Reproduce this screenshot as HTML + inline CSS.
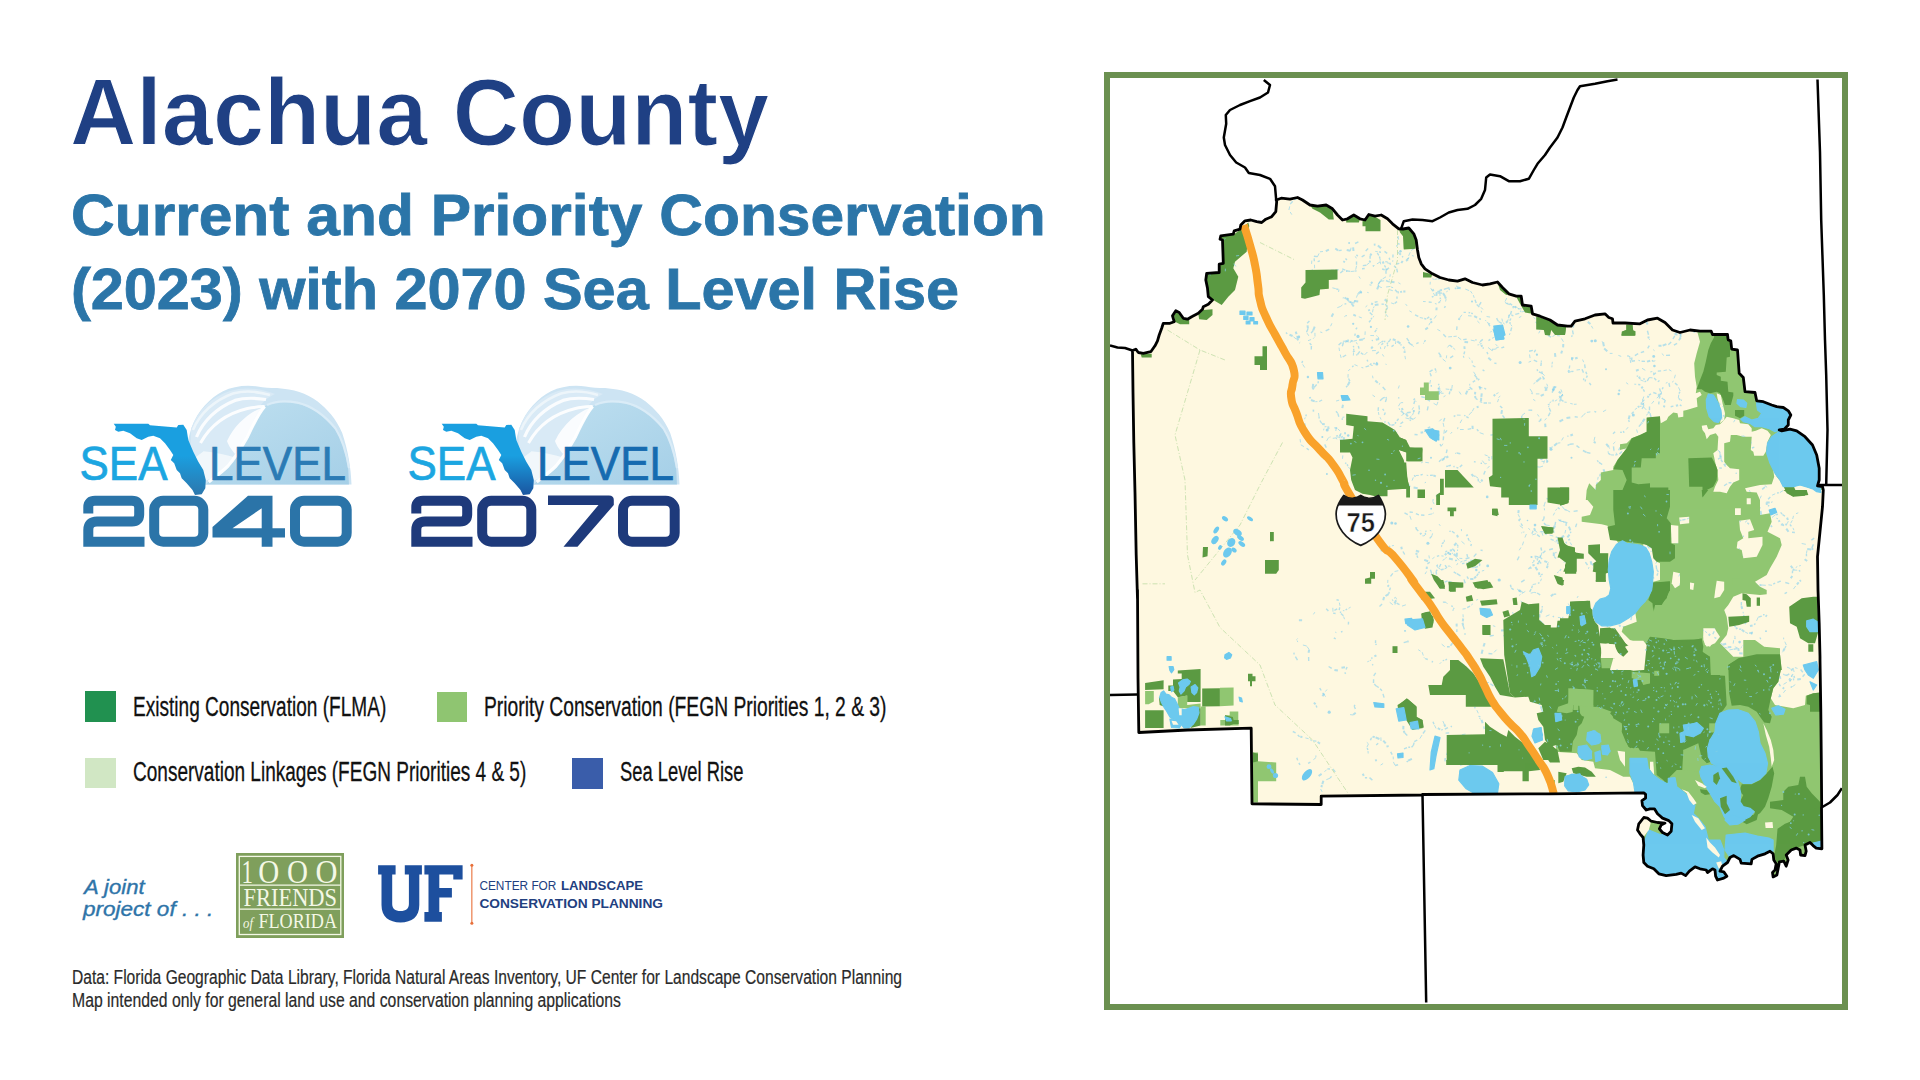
<!DOCTYPE html>
<html><head><meta charset="utf-8"><title>Alachua County</title>
<style>
html,body{margin:0;padding:0;background:#fff;}
body{width:1920px;height:1080px;position:relative;overflow:hidden;font-family:"Liberation Sans",sans-serif;}
.abs{position:absolute;white-space:nowrap;transform-origin:0 0;line-height:1;}
</style></head><body>
<div class="abs" id="t1" style="left:70.06px;top:65.00px;font-size:95px;color:#1f4084;transform:scaleX(0.9667);font-weight:bold;-webkit-text-stroke:1.2px #fff;">Alachua County</div>
<div class="abs" id="t2" style="left:70.90px;top:187.00px;font-size:57.5px;color:#2b75a8;transform:scaleX(1.0521);font-weight:bold;-webkit-text-stroke:0.8px #2b75a8;">Current and Priority Conservation</div>
<div class="abs" id="t3" style="left:70.90px;top:260.70px;font-size:57.5px;color:#2b75a8;transform:scaleX(1.0328);font-weight:bold;-webkit-text-stroke:0.8px #2b75a8;">(2023) with 2070 Sea Level Rise</div>
<div class="abs" id="l1" style="left:132.67px;top:693.60px;font-size:27px;color:#111;transform:scaleX(0.7063);-webkit-text-stroke:0.3px #111;">Existing Conservation (FLMA)</div>
<div class="abs" id="l2" style="left:483.86px;top:693.60px;font-size:27px;color:#111;transform:scaleX(0.7134);-webkit-text-stroke:0.3px #111;">Priority Conservation (FEGN Priorities 1, 2 &amp; 3)</div>
<div class="abs" id="l3" style="left:132.66px;top:759.40px;font-size:27px;color:#111;transform:scaleX(0.7045);-webkit-text-stroke:0.3px #111;">Conservation Linkages (FEGN Priorities 4 &amp; 5)</div>
<div class="abs" id="l4" style="left:620.43px;top:759.40px;font-size:27px;color:#111;transform:scaleX(0.6799);-webkit-text-stroke:0.3px #111;">Sea Level Rise</div>
<div class="abs" id="j1" style="left:84.02px;top:877.40px;font-size:20px;color:#2e74a8;transform:scaleX(1.1040);font-style:italic;-webkit-text-stroke:0.35px #2e74a8;">A joint</div>
<div class="abs" id="j2" style="left:83.23px;top:898.50px;font-size:20px;color:#2e74a8;transform:scaleX(1.1262);font-style:italic;-webkit-text-stroke:0.35px #2e74a8;">project of . . .</div>
<div class="abs" id="d1" style="left:72.22px;top:966.50px;font-size:20px;color:#2a2a2a;transform:scaleX(0.7799);-webkit-text-stroke:0.2px #2a2a2a;">Data: Florida Geographic Data Library, Florida Natural Areas Inventory, UF Center for Landscape Conservation Planning</div>
<div class="abs" id="d2" style="left:72.21px;top:989.50px;font-size:20px;color:#2a2a2a;transform:scaleX(0.7885);-webkit-text-stroke:0.2px #2a2a2a;">Map intended only for general land use and conservation planning applications</div>
<!-- legend swatches -->
<div class="abs" style="left:85px;top:691.3px;width:31px;height:31px;background:#219150"></div>
<div class="abs" style="left:436.8px;top:691.8px;width:30.4px;height:30.2px;background:#8fc571"></div>
<div class="abs" style="left:85px;top:758.3px;width:30.5px;height:30px;background:#d1e7c4"></div>
<div class="abs" style="left:572px;top:758.2px;width:31px;height:30.5px;background:#3a5daa"></div>
<!-- 1000 Friends of Florida -->
<svg class="abs" style="left:236px;top:853px" width="108" height="85" viewBox="0 0 108 85">
<rect x="0" y="0" width="108" height="85" fill="#7f9f5c"/>
<rect x="3.3" y="3.4" width="101.5" height="78.1" fill="none" stroke="#f4f8e6" stroke-width="1.3"/>
<line x1="3.3" y1="32.1" x2="104.8" y2="32.1" stroke="#f4f8e6" stroke-width="1.2"/>
<line x1="3.3" y1="56.2" x2="104.8" y2="56.2" stroke="#f4f8e6" stroke-width="1.2"/>
<g font-family="Liberation Serif, serif" fill="#f4f8e6">
<text y="29.6" font-size="33.5"><tspan x="5.5" textLength="11.5" lengthAdjust="spacingAndGlyphs">1</tspan><tspan x="22.3" textLength="21" lengthAdjust="spacingAndGlyphs">O</tspan><tspan x="51" textLength="21" lengthAdjust="spacingAndGlyphs">O</tspan><tspan x="79.5" textLength="22" lengthAdjust="spacingAndGlyphs">O</tspan></text>
<text x="7.6" y="52.7" font-size="26" textLength="93.4" lengthAdjust="spacingAndGlyphs">FRIENDS</text>
<text x="7" y="75.4" font-size="15" font-style="italic" textLength="10" lengthAdjust="spacingAndGlyphs">of</text>
<text x="22.4" y="75.4" font-size="20.5" textLength="78.6" lengthAdjust="spacingAndGlyphs">FLORIDA</text>
</g>
</svg>
<!-- UF logo -->
<svg class="abs" style="left:370px;top:855px" width="310" height="80" viewBox="0 0 310 80">
<g fill="#1d4f9e">
<path d="M8.1,10.2 H25.6 V19.4 H22.2 V49 C22.2,53.5 25,56 30.5,56 C36,56 38.9,53.5 38.9,49 V19.4 H34.8 V10.2 H51.9 V19.4 H49.3 V50 C49.3,62 42,67.4 30.5,67.4 C19,67.4 11.5,62 11.5,50 V19.4 H8.1 Z"/>
<path d="M54.4,10.2 H92.6 V24.4 H83.3 V19.4 H69.3 V33 H81.9 V42.6 H69.3 V57 H71.9 V66.7 H54.4 V57 H58.5 V19.4 H54.4 Z"/>
</g>
<line x1="101.85" y1="9.5" x2="101.85" y2="69" stroke="#e8703a" stroke-width="1.1"/>
<circle cx="101.85" cy="10.3" r="1.5" fill="#e8703a"/><circle cx="101.85" cy="68.2" r="1.5" fill="#e8703a"/>
<g font-family="Liberation Sans, sans-serif" fill="#22407f">
<text x="109.4" y="35.4" font-size="13.2"><tspan textLength="77" lengthAdjust="spacingAndGlyphs">CENTER FOR</tspan></text>
<text x="191" y="35.4" font-size="13.2" font-weight="bold" textLength="82" lengthAdjust="spacingAndGlyphs">LANDSCAPE</text>
<text x="109.4" y="52.6" font-size="13.2" font-weight="bold" textLength="183.6" lengthAdjust="spacingAndGlyphs">CONSERVATION PLANNING</text>
</g>
</svg>

<svg class="abs" style="left:70px;top:380px" width="300" height="180" viewBox="0 0 300 180">
<defs>
<linearGradient id="dome1" x1="0" y1="0" x2="1" y2="0"><stop offset="0" stop-color="#cfe3f2"/><stop offset="0.45" stop-color="#c3def0"/><stop offset="0.55" stop-color="#b3d8ea"/><stop offset="1" stop-color="#a6cde6"/></linearGradient>
<linearGradient id="fl1" x1="0" y1="0" x2="0" y2="1"><stop offset="0" stop-color="#1a9fe0"/><stop offset="0.45" stop-color="#1a9fe0"/><stop offset="1" stop-color="#2c77ad"/></linearGradient>
<clipPath id="dc1"><path d="M100,104.4 L281.5,104.4 C281,88 278,70 272.2,53 C266,38 257,29 247.7,21.4 C236,13 224,9.5 207,8.1 C200,8 194,8 187.6,6.6 C176,4.6 163,6.5 153,11.2 C140,18 128,30 121.4,47.9 L118,60 L125,104.4 Z"/></clipPath>
<linearGradient id="face1" x1="0" y1="0" x2="1" y2="1"><stop offset="0" stop-color="#bfe0f0"/><stop offset="1" stop-color="#a5cfe7"/></linearGradient>
</defs>
<g clip-path="url(#dc1)">
<rect x="95" y="0" width="190" height="106" fill="#cde4f3"/>
<path d="M194.7,26.5 C201,22.5 212,21 227.3,23.4 C243,27 256,38 265,48.9 C272,60 276,74 278.3,90 L279,106 L134,106 C150,92 166,78 177.4,57 C183,44 188,33 194.7,26.5 Z" fill="url(#face1)"/>
<path d="M121,48 C128,30 142,17 160,11 C176,6 192,9 205,14 C198,17 192,22 188,30 C180,48 172,68 160,82 C150,92 140,99 130,104 L120,104 Z" fill="#d9eaf6"/>
<path d="M126.5,57 C133,41 147,27.5 165,20.4 C176,17 186,18 196,19.5" fill="none" stroke="#fff" stroke-width="3.2" opacity="0.85"/>
<path d="M123,50 C130,33 145,20 163,13.5 C176,10 190,12 200,15" fill="none" stroke="#eef6fb" stroke-width="2.6" opacity="0.9"/>
<path d="M130.5,63 C140,46 156,33.6 177.4,28.5 C184,27 190,26.8 194.7,26.5" fill="none" stroke="#fff" stroke-width="3" opacity="0.9"/>
<path d="M157,61 C165,44 180,31.6 194.7,26.5 C188,36 183,47 177.4,57 C173,64 170,68 165,74 C160,68 158,64 157,61 Z" fill="#fff" opacity="0.85"/>
<path d="M133.6,71.3 C145,72 156,75 165.2,77.4 C160,85 152,92 143,98 L126,104 L122,80 Z" fill="#f3f8fc" opacity="0.9"/>
<path d="M194.7,26.5 C188,34 183,45 177.4,57 C171,68 166,77 158,86 C152,92 145,97 138.7,101.9" fill="none" stroke="#fff" stroke-width="3.2" opacity="0.95"/>
<path d="M197,25 C205,21 216,20.5 227.3,22.6 C243,26 256,37 265.5,48.5 C272,59 276.5,73 279,88" fill="none" stroke="#dcecf7" stroke-width="2.2" opacity="0.9"/>
</g>
<polygon points="43.7,43.7 78.3,43.7 80.0,45.3 106.7,47.5 108.3,45.0 113.3,44.7 116.7,50.0 118.3,60.0 123.3,71.7 128.3,81.7 133.3,90.0 135.8,100.0 135.3,108.3 131.7,114.2 125.0,115.0 122.5,110.0 116.7,103.3 111.7,98.3 110.0,93.3 106.7,90.0 104.2,83.3 100.8,80.0 103.3,75.0 100.0,70.0 95.0,63.3 90.0,58.3 83.3,55.8 78.3,56.7 71.7,60.0 66.7,58.3 60.0,53.3 53.3,50.8 48.3,51.7 45.0,50.0 45.8,46.7" fill="url(#fl1)"/>
<text x="9.5" y="100" font-family="Liberation Sans, sans-serif" font-size="48" fill="#1ca6e1" stroke="#1ca6e1" stroke-width="0.7" textLength="88" lengthAdjust="spacingAndGlyphs">SEA</text>
<text x="139" y="100" font-family="Liberation Sans, sans-serif" font-size="48" fill="#2b7bb5" stroke="#2b7bb5" stroke-width="0.7" textLength="137" lengthAdjust="spacingAndGlyphs">LEVEL</text>
<g fill="none" stroke="#2b74a8" stroke-width="10">
<path d="M18.3,133.5 V127 Q18.3,120.8 25,120.8 H62 Q69.2,120.8 69.2,128 V134.5 Q69.2,141.5 62,141.5 H27 Q18.3,141.5 18.3,150 V161.7 H74.5"/>
<rect x="84.2" y="120.8" width="49.1" height="40.9" rx="9" ry="9"/>
<rect x="225" y="120.8" width="51.7" height="40.9" rx="9" ry="9"/>
</g>
<path fill-rule="evenodd" d="M178,115.8 H202.5 V148.3 H215 V157.5 H202.5 V166.7 H191.7 V157.5 H142.5 V147 Z M191.7,128.3 V148.3 H162.5 Z" fill="#2b74a8"/>
</svg>
<svg class="abs" style="left:398px;top:380px" width="300" height="180" viewBox="0 0 300 180">
<defs>
<linearGradient id="dome2" x1="0" y1="0" x2="1" y2="0"><stop offset="0" stop-color="#cfe3f2"/><stop offset="0.45" stop-color="#c3def0"/><stop offset="0.55" stop-color="#b3d8ea"/><stop offset="1" stop-color="#a6cde6"/></linearGradient>
<linearGradient id="fl2" x1="0" y1="0" x2="0" y2="1"><stop offset="0" stop-color="#1a9fe0"/><stop offset="0.45" stop-color="#1a9fe0"/><stop offset="1" stop-color="#1a55a0"/></linearGradient>
<clipPath id="dc2"><path d="M100,104.4 L281.5,104.4 C281,88 278,70 272.2,53 C266,38 257,29 247.7,21.4 C236,13 224,9.5 207,8.1 C200,8 194,8 187.6,6.6 C176,4.6 163,6.5 153,11.2 C140,18 128,30 121.4,47.9 L118,60 L125,104.4 Z"/></clipPath>
<linearGradient id="face2" x1="0" y1="0" x2="1" y2="1"><stop offset="0" stop-color="#bfe0f0"/><stop offset="1" stop-color="#a5cfe7"/></linearGradient>
</defs>
<g clip-path="url(#dc2)">
<rect x="95" y="0" width="190" height="106" fill="#cde4f3"/>
<path d="M194.7,26.5 C201,22.5 212,21 227.3,23.4 C243,27 256,38 265,48.9 C272,60 276,74 278.3,90 L279,106 L134,106 C150,92 166,78 177.4,57 C183,44 188,33 194.7,26.5 Z" fill="url(#face2)"/>
<path d="M121,48 C128,30 142,17 160,11 C176,6 192,9 205,14 C198,17 192,22 188,30 C180,48 172,68 160,82 C150,92 140,99 130,104 L120,104 Z" fill="#d9eaf6"/>
<path d="M126.5,57 C133,41 147,27.5 165,20.4 C176,17 186,18 196,19.5" fill="none" stroke="#fff" stroke-width="3.2" opacity="0.85"/>
<path d="M123,50 C130,33 145,20 163,13.5 C176,10 190,12 200,15" fill="none" stroke="#eef6fb" stroke-width="2.6" opacity="0.9"/>
<path d="M130.5,63 C140,46 156,33.6 177.4,28.5 C184,27 190,26.8 194.7,26.5" fill="none" stroke="#fff" stroke-width="3" opacity="0.9"/>
<path d="M157,61 C165,44 180,31.6 194.7,26.5 C188,36 183,47 177.4,57 C173,64 170,68 165,74 C160,68 158,64 157,61 Z" fill="#fff" opacity="0.85"/>
<path d="M133.6,71.3 C145,72 156,75 165.2,77.4 C160,85 152,92 143,98 L126,104 L122,80 Z" fill="#f3f8fc" opacity="0.9"/>
<path d="M194.7,26.5 C188,34 183,45 177.4,57 C171,68 166,77 158,86 C152,92 145,97 138.7,101.9" fill="none" stroke="#fff" stroke-width="3.2" opacity="0.95"/>
<path d="M197,25 C205,21 216,20.5 227.3,22.6 C243,26 256,37 265.5,48.5 C272,59 276.5,73 279,88" fill="none" stroke="#dcecf7" stroke-width="2.2" opacity="0.9"/>
</g>
<polygon points="43.7,43.7 78.3,43.7 80.0,45.3 106.7,47.5 108.3,45.0 113.3,44.7 116.7,50.0 118.3,60.0 123.3,71.7 128.3,81.7 133.3,90.0 135.8,100.0 135.3,108.3 131.7,114.2 125.0,115.0 122.5,110.0 116.7,103.3 111.7,98.3 110.0,93.3 106.7,90.0 104.2,83.3 100.8,80.0 103.3,75.0 100.0,70.0 95.0,63.3 90.0,58.3 83.3,55.8 78.3,56.7 71.7,60.0 66.7,58.3 60.0,53.3 53.3,50.8 48.3,51.7 45.0,50.0 45.8,46.7" fill="url(#fl2)"/>
<text x="9.5" y="100" font-family="Liberation Sans, sans-serif" font-size="48" fill="#1ca6e1" stroke="#1ca6e1" stroke-width="0.7" textLength="88" lengthAdjust="spacingAndGlyphs">SEA</text>
<text x="139" y="100" font-family="Liberation Sans, sans-serif" font-size="48" fill="#166bb0" stroke="#166bb0" stroke-width="0.7" textLength="137" lengthAdjust="spacingAndGlyphs">LEVEL</text>
<g fill="none" stroke="#1e3a7b" stroke-width="10">
<path d="M18.3,133.5 V127 Q18.3,120.8 25,120.8 H62 Q69.2,120.8 69.2,128 V134.5 Q69.2,141.5 62,141.5 H27 Q18.3,141.5 18.3,150 V161.7 H74.5"/>
<rect x="84.2" y="120.8" width="49.1" height="40.9" rx="9" ry="9"/>
<rect x="225" y="120.8" width="51.7" height="40.9" rx="9" ry="9"/>
</g>
<path d="M150,115.5 H211 Q215.8,115.5 215.8,120 V125 L179.5,166.7 H165.5 L200.5,125 H150 Z" fill="#1e3a7b"/>
</svg>
<svg id="map" width="1920" height="1080" viewBox="0 0 1920 1080" style="position:absolute;left:0;top:0">
<defs><clipPath id="cc"><polygon points="1276.2,200 1281.2,198.2 1290,199.2 1297.5,197.5 1302.5,200 1310,205 1317.5,206.2 1326.2,205 1332.5,208.8 1337.5,215 1342.5,220 1347.5,218.8 1353.8,215 1360,218.8 1365,220 1368.8,214.5 1375,216.2 1381.2,215 1387.5,218.8 1392.5,223.8 1398.8,228.8 1403,229 1408.8,228 1413.8,233.8 1416.2,240 1417.5,250 1418.8,257.5 1421.2,263.8 1425,268.8 1432.5,273.8 1440,277.5 1448.8,280 1457.5,281.2 1465,278.8 1472.5,282.5 1482.5,285 1490,283.8 1497.5,282 1502.5,287.5 1508.8,293.8 1516.2,296.2 1521.2,296.2 1522.5,305 1531.2,306.2 1532.5,313.8 1540,316.2 1550,320 1557.5,325 1567.5,326.2 1571.2,326.2 1575,321.2 1585,318.8 1595,315 1605,313.8 1608.8,317.5 1612.5,318.8 1613,323 1625,323 1640,323.8 1647.5,320 1657.5,318.2 1665,322.5 1672.5,330 1680,332.5 1690,330 1700,331.2 1711.2,331.2 1712.5,334.5 1727.5,334.5 1728,338.8 1728.3,340 1730.8,340.8 1731.7,349.2 1737.5,350 1739.2,373.3 1743.3,377.5 1745,391.7 1755,392.5 1756.7,400.8 1763.3,401.7 1771.7,405 1776.7,406.7 1783.3,407.5 1788.3,410.8 1790.8,415 1788.3,420 1788.3,425 1784.2,429.2 1779.2,430 1781.7,430.8 1790,429.2 1796.7,430.8 1805,436.7 1812.5,445 1816.7,455 1819.2,468.3 1819.2,480 1817.5,485.8 1822.5,486.7 1823.3,490 1822.5,506.7 1820,531.7 1817.5,556.7 1818,590 1819.2,623.3 1820,656.7 1820,660 1820.8,710 1821.3,760 1821.7,806.7 1821.5,807.5 1821.9,848.8 1816.2,848.1 1813.1,845.6 1810,842.5 1805,845 1806.2,851.2 1805,855.6 1800.6,855 1800,850 1796.2,848.1 1791.2,850 1786.2,855 1788.1,860 1786.2,866.2 1783.8,861.2 1779.4,861.9 1778.1,868.8 1776.9,875 1773.1,876.9 1772.5,872.5 1775,870 1776.2,863.8 1773.8,860 1773.1,853.8 1770,851.2 1765,853.8 1757.5,856.2 1751.9,859.4 1751.2,863.8 1741.2,863.1 1740,859.4 1733.8,855.6 1730,857.5 1727.5,862.5 1722.5,866.2 1720,871.2 1723.8,871.9 1726.9,876.2 1723.8,878.1 1717.5,880 1715.6,876.2 1715,870 1712.5,868.8 1707.5,872.5 1706.2,870 1700,868.8 1695,866.9 1689.4,871.2 1685.6,875.6 1681.2,873.1 1676.2,874.4 1666.2,875.6 1658.8,873.8 1653.8,868.8 1647.5,866.2 1643.8,862.5 1643.1,855 1643.8,845 1643.1,837.5 1640,833.8 1637.5,830 1638.8,823.8 1643.8,817.5 1647.5,818.1 1651.2,821.2 1657.5,822.5 1665,823.1 1661.2,825 1659.4,828.8 1662.5,832.5 1667.5,835 1671.2,831.2 1671.9,823.8 1668.8,820.6 1662.5,818.1 1657.5,813.8 1654.4,808.8 1650,808.8 1646.2,810 1642.5,805.6 1641.9,800.6 1645.6,798.1 1645.6,794.4 1643.8,792.8 1620,793.1 1550,793.8 1422.5,794.5 1422.5,795 1321.2,796.2 1321.2,804.5 1252,803.8 1251.2,728.2 1187.5,730 1138.8,732.5 1138,677.5 1137.5,590 1137.5,598.8 1136.2,555 1135,492.5 1133.8,442.5 1133,392.5 1132.5,350.5 1135.8,349.2 1138.3,352.5 1143.3,353.3 1150.8,351.7 1155,345.8 1157.5,340.8 1159.2,335 1161.7,328.3 1163.3,323.3 1170,323.3 1174.2,321.7 1172.5,315.8 1175.8,310.8 1179.2,312.5 1183.3,318.3 1187.5,319.2 1191.7,316.7 1198.3,313.3 1202.5,309.2 1203.3,306.7 1208.3,304.2 1212.5,300 1208.3,296.7 1207.5,288.3 1205.8,280 1206.7,273.3 1219.2,272.5 1219.2,264.2 1223.3,263.3 1222.5,240 1220,239.2 1220.8,235.8 1233.3,234.2 1234.2,230.8 1240,229.2 1240.8,225 1245,220.8 1250.8,220 1256.7,221.7 1261.7,222.5 1265.8,219.2 1271.7,216.7 1275.8,211.7 1276.7,201.7"/></clipPath><clipPath id="fr"><rect x="1110" y="78" width="732" height="926"/></clipPath></defs>
<rect x="1107" y="75" width="738" height="932" fill="#fff" stroke="#6b9050" stroke-width="6"/>
<g clip-path="url(#fr)">
<polygon points="1276.2,200 1281.2,198.2 1290,199.2 1297.5,197.5 1302.5,200 1310,205 1317.5,206.2 1326.2,205 1332.5,208.8 1337.5,215 1342.5,220 1347.5,218.8 1353.8,215 1360,218.8 1365,220 1368.8,214.5 1375,216.2 1381.2,215 1387.5,218.8 1392.5,223.8 1398.8,228.8 1403,229 1408.8,228 1413.8,233.8 1416.2,240 1417.5,250 1418.8,257.5 1421.2,263.8 1425,268.8 1432.5,273.8 1440,277.5 1448.8,280 1457.5,281.2 1465,278.8 1472.5,282.5 1482.5,285 1490,283.8 1497.5,282 1502.5,287.5 1508.8,293.8 1516.2,296.2 1521.2,296.2 1522.5,305 1531.2,306.2 1532.5,313.8 1540,316.2 1550,320 1557.5,325 1567.5,326.2 1571.2,326.2 1575,321.2 1585,318.8 1595,315 1605,313.8 1608.8,317.5 1612.5,318.8 1613,323 1625,323 1640,323.8 1647.5,320 1657.5,318.2 1665,322.5 1672.5,330 1680,332.5 1690,330 1700,331.2 1711.2,331.2 1712.5,334.5 1727.5,334.5 1728,338.8 1728.3,340 1730.8,340.8 1731.7,349.2 1737.5,350 1739.2,373.3 1743.3,377.5 1745,391.7 1755,392.5 1756.7,400.8 1763.3,401.7 1771.7,405 1776.7,406.7 1783.3,407.5 1788.3,410.8 1790.8,415 1788.3,420 1788.3,425 1784.2,429.2 1779.2,430 1781.7,430.8 1790,429.2 1796.7,430.8 1805,436.7 1812.5,445 1816.7,455 1819.2,468.3 1819.2,480 1817.5,485.8 1822.5,486.7 1823.3,490 1822.5,506.7 1820,531.7 1817.5,556.7 1818,590 1819.2,623.3 1820,656.7 1820,660 1820.8,710 1821.3,760 1821.7,806.7 1821.5,807.5 1821.9,848.8 1816.2,848.1 1813.1,845.6 1810,842.5 1805,845 1806.2,851.2 1805,855.6 1800.6,855 1800,850 1796.2,848.1 1791.2,850 1786.2,855 1788.1,860 1786.2,866.2 1783.8,861.2 1779.4,861.9 1778.1,868.8 1776.9,875 1773.1,876.9 1772.5,872.5 1775,870 1776.2,863.8 1773.8,860 1773.1,853.8 1770,851.2 1765,853.8 1757.5,856.2 1751.9,859.4 1751.2,863.8 1741.2,863.1 1740,859.4 1733.8,855.6 1730,857.5 1727.5,862.5 1722.5,866.2 1720,871.2 1723.8,871.9 1726.9,876.2 1723.8,878.1 1717.5,880 1715.6,876.2 1715,870 1712.5,868.8 1707.5,872.5 1706.2,870 1700,868.8 1695,866.9 1689.4,871.2 1685.6,875.6 1681.2,873.1 1676.2,874.4 1666.2,875.6 1658.8,873.8 1653.8,868.8 1647.5,866.2 1643.8,862.5 1643.1,855 1643.8,845 1643.1,837.5 1640,833.8 1637.5,830 1638.8,823.8 1643.8,817.5 1647.5,818.1 1651.2,821.2 1657.5,822.5 1665,823.1 1661.2,825 1659.4,828.8 1662.5,832.5 1667.5,835 1671.2,831.2 1671.9,823.8 1668.8,820.6 1662.5,818.1 1657.5,813.8 1654.4,808.8 1650,808.8 1646.2,810 1642.5,805.6 1641.9,800.6 1645.6,798.1 1645.6,794.4 1643.8,792.8 1620,793.1 1550,793.8 1422.5,794.5 1422.5,795 1321.2,796.2 1321.2,804.5 1252,803.8 1251.2,728.2 1187.5,730 1138.8,732.5 1138,677.5 1137.5,590 1137.5,598.8 1136.2,555 1135,492.5 1133.8,442.5 1133,392.5 1132.5,350.5 1135.8,349.2 1138.3,352.5 1143.3,353.3 1150.8,351.7 1155,345.8 1157.5,340.8 1159.2,335 1161.7,328.3 1163.3,323.3 1170,323.3 1174.2,321.7 1172.5,315.8 1175.8,310.8 1179.2,312.5 1183.3,318.3 1187.5,319.2 1191.7,316.7 1198.3,313.3 1202.5,309.2 1203.3,306.7 1208.3,304.2 1212.5,300 1208.3,296.7 1207.5,288.3 1205.8,280 1206.7,273.3 1219.2,272.5 1219.2,264.2 1223.3,263.3 1222.5,240 1220,239.2 1220.8,235.8 1233.3,234.2 1234.2,230.8 1240,229.2 1240.8,225 1245,220.8 1250.8,220 1256.7,221.7 1261.7,222.5 1265.8,219.2 1271.7,216.7 1275.8,211.7 1276.7,201.7" fill="#fef8e0"/>
<g clip-path="url(#cc)">
<g id="sp"><circle cx="1649.2" cy="663.4" r="1.4" fill="#7fcdee" opacity="0.7"/>
<circle cx="1633.3" cy="414.9" r="1.5" fill="#7fcdee" opacity="0.7"/>
<circle cx="1666.7" cy="521.0" r="1.1" fill="#7fcdee" opacity="0.7"/>
<circle cx="1802.9" cy="476.8" r="1.3" fill="#7fcdee" opacity="0.7"/>
<circle cx="1618.7" cy="394.0" r="1.2" fill="#7fcdee" opacity="0.7"/>
<circle cx="1781.5" cy="781.4" r="1.1" fill="#7fcdee" opacity="0.7"/>
<circle cx="1611.1" cy="603.8" r="0.8" fill="#7fcdee" opacity="0.7"/>
<circle cx="1427.9" cy="543.2" r="1.5" fill="#7fcdee" opacity="0.7"/>
<circle cx="1511.8" cy="680.4" r="1.2" fill="#7fcdee" opacity="0.7"/>
<circle cx="1720.8" cy="747.9" r="1.0" fill="#7fcdee" opacity="0.7"/>
<circle cx="1700.2" cy="510.4" r="1.5" fill="#7fcdee" opacity="0.7"/>
<circle cx="1391.8" cy="523.0" r="1.5" fill="#7fcdee" opacity="0.7"/>
<circle cx="1694.3" cy="331.7" r="1.1" fill="#7fcdee" opacity="0.7"/>
<circle cx="1481.3" cy="463.2" r="0.8" fill="#7fcdee" opacity="0.7"/>
<circle cx="1760.0" cy="532.8" r="1.5" fill="#7fcdee" opacity="0.7"/>
<circle cx="1472.0" cy="301.6" r="1.0" fill="#7fcdee" opacity="0.7"/>
<circle cx="1687.8" cy="660.6" r="0.7" fill="#7fcdee" opacity="0.7"/>
<circle cx="1606.1" cy="679.3" r="0.7" fill="#7fcdee" opacity="0.7"/>
<circle cx="1717.3" cy="413.6" r="1.5" fill="#7fcdee" opacity="0.7"/>
<circle cx="1698.0" cy="487.2" r="1.2" fill="#7fcdee" opacity="0.7"/>
<circle cx="1596.4" cy="567.7" r="0.8" fill="#7fcdee" opacity="0.7"/>
<circle cx="1536.9" cy="354.7" r="1.1" fill="#7fcdee" opacity="0.7"/>
<circle cx="1606.0" cy="369.2" r="1.0" fill="#7fcdee" opacity="0.7"/>
<circle cx="1806.2" cy="479.5" r="1.1" fill="#7fcdee" opacity="0.7"/>
<circle cx="1476.3" cy="570.0" r="1.2" fill="#7fcdee" opacity="0.7"/>
<circle cx="1326.9" cy="474.0" r="1.0" fill="#7fcdee" opacity="0.7"/>
<circle cx="1606.1" cy="777.2" r="0.8" fill="#7fcdee" opacity="0.7"/>
<circle cx="1553.3" cy="390.2" r="1.0" fill="#7fcdee" opacity="0.7"/>
<circle cx="1519.5" cy="590.7" r="1.2" fill="#7fcdee" opacity="0.7"/>
<circle cx="1327.2" cy="430.0" r="1.5" fill="#7fcdee" opacity="0.7"/>
<circle cx="1657.0" cy="741.0" r="1.0" fill="#7fcdee" opacity="0.7"/>
<circle cx="1349.1" cy="243.0" r="0.9" fill="#7fcdee" opacity="0.7"/>
<circle cx="1619.3" cy="390.5" r="1.1" fill="#7fcdee" opacity="0.7"/>
<circle cx="1431.0" cy="457.7" r="1.0" fill="#7fcdee" opacity="0.7"/>
<circle cx="1629.7" cy="704.7" r="1.4" fill="#7fcdee" opacity="0.7"/>
<circle cx="1617.3" cy="521.9" r="1.3" fill="#7fcdee" opacity="0.7"/>
<circle cx="1772.5" cy="654.7" r="1.4" fill="#7fcdee" opacity="0.7"/>
<circle cx="1531.5" cy="557.0" r="1.1" fill="#7fcdee" opacity="0.7"/>
<circle cx="1551.0" cy="449.3" r="1.5" fill="#7fcdee" opacity="0.7"/>
<circle cx="1329.2" cy="712.2" r="1.6" fill="#7fcdee" opacity="0.7"/>
<circle cx="1431.3" cy="385.9" r="0.8" fill="#7fcdee" opacity="0.7"/>
<circle cx="1701.8" cy="623.1" r="0.9" fill="#7fcdee" opacity="0.7"/>
<circle cx="1653.7" cy="356.4" r="1.4" fill="#7fcdee" opacity="0.7"/>
<circle cx="1751.0" cy="510.8" r="0.8" fill="#7fcdee" opacity="0.7"/>
<circle cx="1689.1" cy="627.8" r="0.7" fill="#7fcdee" opacity="0.7"/>
<circle cx="1361.1" cy="292.5" r="1.1" fill="#7fcdee" opacity="0.7"/>
<circle cx="1573.2" cy="552.0" r="1.5" fill="#7fcdee" opacity="0.7"/>
<circle cx="1535.0" cy="525.1" r="1.3" fill="#7fcdee" opacity="0.7"/>
<circle cx="1787.6" cy="744.3" r="1.2" fill="#7fcdee" opacity="0.7"/>
<circle cx="1370.9" cy="326.9" r="1.1" fill="#7fcdee" opacity="0.7"/>
<circle cx="1558.9" cy="718.4" r="1.5" fill="#7fcdee" opacity="0.7"/>
<circle cx="1737.0" cy="692.2" r="1.1" fill="#7fcdee" opacity="0.7"/>
<circle cx="1794.1" cy="457.0" r="0.7" fill="#7fcdee" opacity="0.7"/>
<circle cx="1739.6" cy="642.1" r="1.3" fill="#7fcdee" opacity="0.7"/>
<circle cx="1400.5" cy="251.3" r="1.2" fill="#7fcdee" opacity="0.7"/>
<circle cx="1395.5" cy="523.5" r="1.3" fill="#7fcdee" opacity="0.7"/>
<circle cx="1477.6" cy="688.0" r="1.6" fill="#7fcdee" opacity="0.7"/>
<circle cx="1465.0" cy="634.0" r="0.8" fill="#7fcdee" opacity="0.7"/>
<circle cx="1554.7" cy="725.7" r="1.6" fill="#7fcdee" opacity="0.7"/>
<circle cx="1652.5" cy="613.6" r="1.1" fill="#7fcdee" opacity="0.7"/>
<circle cx="1625.9" cy="520.6" r="1.1" fill="#7fcdee" opacity="0.7"/>
<circle cx="1461.6" cy="483.3" r="0.7" fill="#7fcdee" opacity="0.7"/>
<circle cx="1671.0" cy="563.8" r="1.0" fill="#7fcdee" opacity="0.7"/>
<circle cx="1668.5" cy="638.8" r="1.1" fill="#7fcdee" opacity="0.7"/>
<circle cx="1668.9" cy="445.3" r="1.4" fill="#7fcdee" opacity="0.7"/>
<circle cx="1364.1" cy="470.8" r="0.8" fill="#7fcdee" opacity="0.7"/>
<circle cx="1771.4" cy="692.3" r="0.7" fill="#7fcdee" opacity="0.7"/>
<circle cx="1608.6" cy="631.4" r="0.8" fill="#7fcdee" opacity="0.7"/>
<circle cx="1298.8" cy="337.0" r="1.4" fill="#7fcdee" opacity="0.7"/>
<circle cx="1347.5" cy="299.1" r="1.3" fill="#7fcdee" opacity="0.7"/>
<circle cx="1527.5" cy="520.5" r="0.8" fill="#7fcdee" opacity="0.7"/>
<circle cx="1348.2" cy="435.5" r="1.2" fill="#7fcdee" opacity="0.7"/>
<circle cx="1502.1" cy="691.0" r="1.4" fill="#7fcdee" opacity="0.7"/>
<circle cx="1664.7" cy="592.8" r="1.0" fill="#7fcdee" opacity="0.7"/>
<circle cx="1595.3" cy="340.7" r="1.5" fill="#7fcdee" opacity="0.7"/>
<circle cx="1487.7" cy="565.9" r="1.4" fill="#7fcdee" opacity="0.7"/>
<circle cx="1307.9" cy="377.0" r="1.2" fill="#7fcdee" opacity="0.7"/>
<circle cx="1450.2" cy="368.1" r="1.4" fill="#7fcdee" opacity="0.7"/>
<circle cx="1353.2" cy="323.8" r="1.1" fill="#7fcdee" opacity="0.7"/>
<circle cx="1556.5" cy="494.4" r="1.5" fill="#7fcdee" opacity="0.7"/>
<circle cx="1499.2" cy="580.0" r="1.6" fill="#7fcdee" opacity="0.7"/>
<circle cx="1654.4" cy="366.0" r="1.3" fill="#7fcdee" opacity="0.7"/>
<circle cx="1806.8" cy="732.8" r="0.8" fill="#7fcdee" opacity="0.7"/>
<circle cx="1431.2" cy="508.7" r="0.9" fill="#7fcdee" opacity="0.7"/>
<circle cx="1591.8" cy="341.1" r="1.4" fill="#7fcdee" opacity="0.7"/>
<circle cx="1755.9" cy="692.2" r="1.6" fill="#7fcdee" opacity="0.7"/>
<circle cx="1413.8" cy="411.1" r="1.1" fill="#7fcdee" opacity="0.7"/>
<circle cx="1408.1" cy="326.5" r="1.3" fill="#7fcdee" opacity="0.7"/>
<circle cx="1553.2" cy="389.5" r="1.2" fill="#7fcdee" opacity="0.7"/>
<circle cx="1586.8" cy="722.4" r="0.8" fill="#7fcdee" opacity="0.7"/>
<circle cx="1571.9" cy="358.9" r="0.9" fill="#7fcdee" opacity="0.7"/>
<circle cx="1778.7" cy="664.9" r="0.9" fill="#7fcdee" opacity="0.7"/>
<circle cx="1376.8" cy="364.1" r="1.5" fill="#7fcdee" opacity="0.7"/>
<circle cx="1751.6" cy="633.5" r="1.0" fill="#7fcdee" opacity="0.7"/>
<circle cx="1751.7" cy="586.1" r="0.8" fill="#7fcdee" opacity="0.7"/>
<circle cx="1767.6" cy="447.7" r="1.5" fill="#7fcdee" opacity="0.7"/>
<circle cx="1743.3" cy="536.2" r="0.7" fill="#7fcdee" opacity="0.7"/>
<circle cx="1493.4" cy="477.0" r="1.5" fill="#7fcdee" opacity="0.7"/>
<circle cx="1520.1" cy="362.6" r="1.5" fill="#7fcdee" opacity="0.7"/>
<circle cx="1359.1" cy="443.1" r="1.1" fill="#7fcdee" opacity="0.7"/>
<circle cx="1599.6" cy="699.2" r="1.4" fill="#7fcdee" opacity="0.7"/>
<circle cx="1592.0" cy="675.6" r="1.4" fill="#7fcdee" opacity="0.7"/>
<circle cx="1766.0" cy="631.2" r="0.9" fill="#7fcdee" opacity="0.7"/>
<circle cx="1571.5" cy="457.7" r="1.0" fill="#7fcdee" opacity="0.7"/>
<circle cx="1322.3" cy="437.1" r="1.0" fill="#7fcdee" opacity="0.7"/>
<circle cx="1487.2" cy="496.9" r="1.3" fill="#7fcdee" opacity="0.7"/>
<circle cx="1600.8" cy="679.3" r="1.3" fill="#7fcdee" opacity="0.7"/>
<circle cx="1558.1" cy="663.2" r="0.8" fill="#7fcdee" opacity="0.7"/>
<circle cx="1358.0" cy="336.4" r="1.6" fill="#7fcdee" opacity="0.7"/>
<path d="M1456.6,285.6l0.2,1.3M1465.3,289.1l3.8,1.5M1470.5,291.1l1.7,2.4M1473.3,295.1l0.9,2.7M1481.2,310.8l0.4,1.6M1486.6,316.5l3.5,0.6M1432.3,278.8l1.8,0.5M1434.6,279.5l2.9,-0.7M1746.6,676.5l-0.2,1.4M1754.8,675.1l3.0,1.6M1759.7,677.7l2.3,-0.2M1785.6,690.0l-2.2,2.8M1793.8,570.1l3.4,0.1M1795.7,586.0l-2.3,3.1M1643.3,673.6l-1.6,1.9M1640.4,679.1l1.2,3.8M1641.7,683.1l-0.4,4.1M1642.8,694.2l2.8,3.1M1649.7,706.5l-0.1,4.1M1380.3,346.8l0.5,2.3M1734.8,646.8l2.9,1.1M1646.2,409.8l-2.5,-2.7M1641.7,402.3l3.0,-2.3M1517.2,589.0l2.1,1.8M1521.2,591.6l1.9,0.7M1532.7,584.5l3.4,-0.6M1540.5,581.2l1.0,-2.5M1535.9,393.9l3.5,0.0M1551.9,367.3l0.1,-1.9M1552.0,364.3l0.4,-2.5M1732.7,357.3l3.8,1.6M1423.9,432.1l2.0,-2.0M1439.3,421.3l2.4,-2.4M1356.6,265.7l-0.9,4.0M1358.9,276.4l1.4,2.2M1564.4,402.1l2.3,0.2M1570.3,403.4l2.5,0.6M1573.9,404.3l2.7,-0.1M1697.1,461.6l2.5,-2.1M1702.6,457.0l3.0,-2.6M1565.7,530.0l-0.8,3.4M1553.3,536.0l-3.8,-0.9M1543.1,531.3l-3.3,0.6M1537.3,532.3l-2.0,-1.3M1673.8,333.3l0.9,0.8M1426.0,482.2l-1.3,0.6M1406.2,481.7l-2.2,-1.8M1403.9,479.8l-2.2,0.2M1401.6,480.0l-0.9,1.0M1617.0,453.5l-1.2,-0.5M1614.0,451.2l-0.1,-1.2M1613.2,443.9l2.1,-2.0M1393.1,287.7l-2.1,-0.7M1389.7,286.5l-3.6,0.5M1381.8,287.6l-2.1,-0.7M1379.0,286.7l-0.6,-1.6M1378.2,284.4l2.0,-2.8M1380.4,281.3l3.8,-0.5M1398.3,282.7l2.2,1.2M1413.5,407.3l-1.3,2.4M1404.3,413.0l-2.8,2.9M1381.1,419.5l-1.1,-2.3M1378.9,414.9l-0.5,-2.8M1291.8,214.6l-1.6,-2.6M1288.9,210.0l0.8,-3.6M1294.0,199.7l2.8,-0.6M1455.0,551.6l-1.5,-0.9M1443.6,556.1l-2.2,-0.2M1434.5,557.2l-2.2,1.6M1426.6,571.5l-1.6,2.6M1457.5,551.0l0.1,-1.5M1457.7,547.9l0.4,-1.2M1656.9,499.5l-1.4,-1.1M1433.2,499.0l-0.3,2.2M1432.8,501.5l1.3,2.6M1433.7,512.9l-1.1,0.7M1432.1,513.9l-3.7,0.7M1557.1,572.9l1.7,-1.3M1563.5,562.1l2.1,-0.3M1568.8,559.9l0.0,-2.0M1568.8,557.8l0.5,-3.6M1663.9,355.5l-2.1,-2.0M1654.5,350.7l-1.3,-1.1M1649.7,339.8l-1.0,-1.3M1405.5,303.9l1.6,2.0M1409.4,310.8l2.4,1.4M1315.3,401.7l2.1,-0.1M1653.3,421.6l-1.2,-3.0M1444.7,646.6l-3.0,-2.4M1758.4,413.2l-1.3,-0.1M1756.6,413.1l0.4,-2.4M1441.6,547.1l0.2,-2.2M1444.3,542.0l-0.0,-2.2M1344.4,417.1l-2.1,0.2M1748.0,633.5l-2.8,-1.4M1304.7,367.5l-2.0,-3.1M1308.0,340.7l3.1,-1.2M1313.2,338.7l1.0,-1.2M1315.0,336.5l-0.1,-3.7M1438.1,398.1l-0.1,2.2M1437.9,401.9l-1.0,3.0M1436.8,405.2l-3.2,-1.9M1758.1,617.3l-1.5,3.6M1601.5,605.6l-1.5,1.3M1648.9,597.7l0.6,-1.1M1473.5,371.8l2.1,3.1M1469.8,383.8l-0.1,1.7M1479.7,401.7l2.5,0.8M1488.1,403.0l2.9,-0.0M1498.5,397.5l1.8,-1.4M1549.7,525.6l-4.1,-0.7M1544.6,510.3l-0.3,-2.0M1544.3,504.9l1.0,-3.0M1739.7,520.8l-1.1,-1.9M1730.7,571.9l-1.8,0.0M1728.8,571.9l-2.5,-0.0M1791.1,463.2l-0.9,0.9M1456.9,415.1l3.7,0.1M1772.0,585.3l-3.6,-0.5M1758.7,574.8l1.4,-1.5M1760.8,572.4l2.2,-2.7M1459.7,317.9l2.2,-3.1M1482.9,309.4l-2.0,-2.1M1401.4,426.3l-1.8,0.2M1410.3,416.8l1.2,-0.9M1412.4,415.2l1.4,-3.0M1708.7,690.3l2.8,1.7M1731.4,700.2l1.2,-0.8M1739.3,703.2l2.7,-1.2M1670.6,570.3l2.0,0.7M1680.1,573.3l-1.3,3.1M1681.3,591.0l0.5,1.4M1364.5,354.9l2.9,-2.9M1372.0,350.7l3.8,-0.2M1638.9,607.8l2.0,-3.5M1520.4,679.4l0.1,2.7M1517.0,687.1l-1.2,0.6M1510.4,675.5l0.5,-1.6M1638.4,360.3l1.6,0.5M1653.5,361.4l1.8,-0.7M1707.1,621.8l2.6,1.6M1715.0,627.9l3.4,1.8M1721.2,631.2l2.0,-0.8M1724.3,630.1l2.8,-1.0M1582.7,614.9l1.7,2.2M1578.1,613.2l-1.4,-0.7M1569.7,612.6l-3.0,2.2M1563.4,617.2l-1.4,0.3M1560.7,617.7l-2.8,-0.3M1452.3,385.0l-0.5,3.5M1461.0,394.5l-1.8,-2.9M1726.1,583.7l1.0,-3.6M1724.7,566.4l-0.6,-3.4M1724.1,562.6l0.9,-0.9M1731.9,561.7l-1.4,3.7M1720.5,452.3l-2.9,-2.2M1715.2,448.2l-1.7,-3.8M1703.3,449.3l-1.1,3.8M1695.9,462.6l0.7,3.7M1693.2,475.4l-1.4,3.1M1690.4,481.1l-1.9,1.1M1726.7,359.9l2.0,-2.3M1729.4,356.7l0.8,2.4M1734.7,365.0l2.1,0.3M1729.4,350.9l-1.0,-1.5M1728.3,349.2l-2.0,-0.9M1749.5,657.9l1.6,3.3M1747.9,665.1l-2.9,-0.0M1406.5,259.3l2.7,-1.7M1411.9,255.5l2.0,0.6M1552.2,716.6l0.4,3.9M1553.0,724.8l1.4,1.0M1555.3,726.4l0.8,3.1M1555.3,746.1l1.1,1.5M1451.4,567.4l-0.9,-0.9M1450.0,566.1l-2.1,-0.0M1436.4,565.4l0.7,1.3M1437.2,567.0l3.4,2.4M1444.5,568.9l1.8,-0.7M1767.1,487.3l-2.3,-1.7M1758.1,483.3l-1.4,-0.2M1439.1,524.2l1.2,1.6M1449.1,531.3l1.9,-0.1M1461.5,541.4l3.1,2.6M1470.8,541.6l-1.3,-0.9M1461.5,531.1l-0.1,-2.1M1342.5,304.8l-1.8,1.6M1340.6,306.4l-3.3,1.3M1331.9,323.3l-1.3,2.9M1322.3,332.6l-2.1,-0.6M1519.2,550.3l1.8,-2.9M1522.4,545.3l1.2,-3.7M1524.9,537.5l1.5,-3.5M1800.8,565.5l-1.6,0.4M1797.3,566.5l-1.6,1.1M1380.2,261.4l0.5,2.9M1387.6,261.7l-2.5,0.1M1380.1,261.9l-3.2,2.0M1374.5,265.5l-1.6,0.2M1372.8,265.7l0.9,1.2M1390.3,274.3l-0.4,2.5M1389.6,279.2l-0.3,1.2M1389.7,289.7l3.1,1.0M1394.1,303.9l-3.0,-1.0M1545.8,616.4l3.7,-1.6M1531.4,623.3l0.0,-2.5M1539.6,620.3l3.0,2.1M1543.2,622.9l0.3,3.5M1769.9,650.7l1.8,1.3M1772.6,654.8l-0.1,1.3M1772.8,667.3l1.2,1.3M1776.5,672.3l3.1,0.8M1791.1,676.1l1.2,0.4M1642.7,399.5l0.6,1.5M1644.0,402.7l-1.7,2.5M1641.5,406.4l-2.0,-0.1M1637.1,408.0l-2.3,1.6M1628.1,427.2l-1.9,2.3M1429.8,530.4l1.5,0.5M1432.6,533.4l-0.7,2.4M1348.0,377.6l0.1,-3.5M1348.2,371.0l2.0,-2.0M1354.5,364.6l3.1,1.3M1361.4,367.4l1.9,0.5M1371.0,365.2l1.7,0.3M1377.9,344.6l1.2,-1.0M1379.3,343.3l1.6,-1.0M1385.3,346.0l-0.9,2.8M1382.4,354.3l1.4,2.2M1385.8,363.8l0.5,1.1M1466.7,560.3l-3.0,0.7M1462.4,561.3l-2.1,0.9M1457.8,563.2l-1.2,1.9M1664.8,538.8l2.3,-1.4M1659.3,528.3l0.2,3.2M1659.7,534.8l-2.9,2.1M1570.1,512.0l-2.9,-1.6M1564.4,509.3l-2.4,-3.0M1561.6,505.8l-2.5,-3.1M1547.7,386.3l-1.0,-2.5M1535.4,382.5l-1.9,1.3M1530.0,388.9l2.1,3.3M1533.1,399.4l2.2,1.3M1392.8,260.3l-0.1,1.4M1389.4,263.3l-2.6,-0.6M1529.5,455.9l3.2,0.1M1533.3,456.1l2.2,-0.4M1541.5,461.2l2.4,0.4M1542.8,455.8l1.7,-1.3M1570.1,542.4l1.6,2.7M1574.7,553.9l0.5,2.9M1575.4,558.1l1.7,1.4M1589.0,567.1l-0.6,1.7M1380.4,497.5l0.8,1.8M1640.3,379.8l3.3,1.4M1649.1,377.5l3.4,0.4M1652.3,371.6l-2.0,0.3M1581.3,417.4l2.5,-2.9M1583.9,414.4l1.6,-1.0M1586.9,412.4l3.5,-0.5M1603.0,411.7l3.1,-1.8M1459.6,288.0l-2.6,0.7M1456.6,557.5l2.5,2.9M1471.8,567.6l2.1,0.1M1480.0,562.9l-2.7,0.0M1475.7,562.9l-3.8,0.9M1741.0,414.6l-1.4,-0.4M1735.1,419.7l-1.5,2.5M1598.2,476.9l-0.5,2.8M1598.9,484.6l2.0,1.9M1603.7,482.0l-1.3,-2.9M1393.9,545.5l-2.0,0.3M1435.2,578.0l0.7,-1.7M1442.6,560.4l2.2,-1.4M1445.5,558.6l1.0,-1.6M1452.0,552.9l1.1,0.8M1459.4,558.3l2.9,0.2M1571.6,357.0l0.7,3.6M1568.2,372.6l3.3,-1.1M1576.6,370.0l3.4,-0.4M1408.6,255.9l1.6,-3.6M1411.0,250.4l3.4,-1.9M1806.4,553.7l0.6,-3.3M1805.8,544.3l-4.1,-0.8M1630.7,697.1l-0.7,3.5M1629.5,703.5l-1.3,0.9M1628.5,700.1l3.5,-1.6M1645.0,698.2l2.0,-2.4M1650.5,693.9l3.9,0.1M1656.1,694.0l2.6,-2.7M1353.3,355.6l0.3,-3.2M1361.8,317.9l-3.0,-1.1M1347.0,315.6l-1.2,0.1M1345.8,315.7l-1.4,1.0M1568.0,654.5l1.5,-0.4M1575.9,661.2l-1.2,0.5M1560.3,664.5l-1.2,1.0M1557.6,666.6l-0.4,1.2M1747.8,458.8l-0.2,3.6M1744.7,463.3l-3.7,0.4M1740.0,463.8l-3.4,-1.9M1730.1,460.9l-1.8,0.5M1386.0,276.8l-3.4,2.1M1378.2,284.2l0.4,1.2M1368.6,292.7l-1.3,-0.3M1519.2,595.4l1.3,-0.9M1521.8,593.5l3.5,-2.1M1530.8,593.2l3.0,-0.8M1534.1,592.3l2.1,0.5M1542.1,608.5l-0.1,1.5M1405.5,359.2l-0.6,-3.3M1404.8,350.7l-0.1,-1.2M1395.4,344.0l0.5,-2.9M1599.0,674.8l1.3,0.2M1553.3,515.4l1.3,-2.7M1555.5,510.7l1.3,-1.8M1539.8,560.2l-2.1,3.1M1340.5,434.7l-1.0,3.4M1340.0,431.1l-2.0,-2.2M1336.3,427.0l-0.5,4.0M1337.3,437.1l1.9,0.1M1592.9,328.5l-1.5,-2.6M1346.0,271.7l1.2,-0.8M1350.8,271.5l3.2,-0.3M1578.8,660.2l1.8,-1.5M1580.9,658.5l-0.2,-2.3M1577.4,641.4l-2.8,-2.9M1566.0,633.1l-0.6,-1.8M1565.4,631.2l1.6,-3.7M1563.3,521.5l-2.3,-0.1M1561.0,521.4l-2.6,-1.8M1672.5,464.1l-0.7,3.0M1675.4,476.3l0.7,3.3M1492.9,625.7l2.4,0.8M1512.1,621.8l1.5,-1.1M1533.2,608.8l2.2,-3.4M1705.1,631.3l2.0,1.6M1718.3,639.7l1.1,2.0M1680.2,539.8l-1.0,2.1M1506.0,303.2l2.3,0.2M1517.9,308.7l3.7,0.1M1446.1,299.1l-0.5,2.4M1365.5,445.1l1.4,-0.7M1365.7,432.4l-1.3,1.7M1715.1,339.8l-1.6,-2.0M1706.0,336.6l-1.7,0.4M1710.0,547.1l0.7,-2.6M1711.4,541.5l0.5,-2.2M1720.1,538.5l2.4,1.5M1726.1,548.8l-0.6,1.2M1724.9,550.9l-3.6,0.3M1745.7,469.6l0.2,-2.0M1597.8,491.6l1.7,-3.7M1602.5,476.2l-0.3,-3.6M1370.4,335.5l3.6,0.1M1376.4,335.6l1.1,0.8M1378.1,336.8l0.8,1.9M1729.4,649.9l3.5,-0.6M1740.6,648.0l1.4,-1.3M1747.6,642.9l2.9,-1.8M1592.9,649.0l-1.5,-1.9M1590.6,648.9l0.4,1.7M1591.1,650.9l1.1,4.0M1592.3,655.3l0.1,1.3M1601.4,664.2l1.7,-0.4M1604.4,663.5l3.1,2.5M1613.7,668.7l-2.6,2.4M1794.9,667.6l2.6,0.8M1792.2,679.2l-2.8,1.7M1786.7,682.4l-3.2,1.9M1299.2,343.2l1.0,-0.9M1296.3,339.1l-2.8,-2.3M1424.1,342.7l-0.9,0.8M1413.5,346.7l-0.7,-1.1M1678.3,398.0l0.5,-3.3M1680.2,391.0l-1.7,-3.7M1667.5,382.4l-1.7,0.8M1661.4,391.5l0.2,2.9M1564.5,705.4l1.4,3.7M1579.1,696.5l1.7,1.5M1572.5,707.4l-2.5,2.0M1564.1,657.0l2.6,-0.6M1569.5,652.0l2.5,-2.5M1569.9,639.4l0.8,-1.6M1571.5,635.8l2.7,-1.6M1577.3,625.3l-1.8,0.2M1798.3,512.8l-2.3,0.9M1793.5,515.8l-0.8,3.2M1792.3,520.4l-1.6,2.8M1793.0,527.9l0.9,2.3M1778.0,518.8l-1.7,-0.6M1584.1,654.1l-0.6,-2.9M1580.3,650.1l-1.4,0.4M1570.7,651.7l-2.3,1.6M1311.8,260.6l-0.2,3.3M1312.2,269.2l0.3,2.1M1313.9,280.1l2.1,2.7M1317.1,284.2l1.9,1.1M1565.2,554.5l-2.5,0.9M1677.6,421.7l-1.8,-2.2M1775.3,514.9l-3.3,2.6M1767.2,519.7l-3.4,0.6M1760.1,498.5l1.2,-2.8M1365.5,307.0l1.8,-1.5M1385.8,314.1l2.1,2.7M1761.6,406.2l-1.9,-2.2M1484.2,570.4l-2.3,0.6M1572.3,666.2l-2.0,1.1M1547.5,671.0l-2.5,-0.9M1538.4,661.5l-0.8,-2.5M1537.0,657.1l-3.8,-1.4M1529.5,654.2l-2.4,-1.1M1685.5,638.8l2.9,-1.8M1688.9,636.8l0.5,-1.9M1689.8,633.4l0.9,-1.1M1690.3,625.9l0.4,-2.7M1765.8,585.3l-3.9,-0.3M1758.3,585.4l-2.1,-2.1M1474.0,408.1l-1.6,3.0M1472.0,411.7l-1.2,1.4M1470.8,413.1l-2.0,1.8M1461.9,419.6l-1.8,3.5M1457.9,427.2l-0.3,1.9M1514.5,306.6l2.3,0.7M1517.4,307.5l1.6,2.0M1521.7,311.9l3.1,-0.7M1526.0,310.9l1.9,-1.7M1741.4,678.5l-1.4,0.8M1733.4,691.2l0.0,2.0M1428.2,393.2l2.1,-0.1M1433.8,392.7l3.4,0.7M1438.6,393.7l3.4,-2.3M1445.7,389.0l3.6,0.4M1467.7,390.0l2.7,-0.8M1479.1,387.2l3.3,0.6M1695.0,455.6l1.0,-2.0M1719.5,451.7l0.8,2.9M1639.3,617.4l1.0,-0.9M1632.6,603.4l-2.3,-0.7M1372.5,395.1l2.5,1.7M1716.2,476.6l0.7,3.6M1741.2,488.4l3.2,0.9M1749.3,490.2l1.7,3.6M1691.6,442.7l-1.7,0.6M1683.1,454.8l2.9,2.8M1497.5,402.1l1.1,-3.1M1498.5,392.7l-2.3,1.2M1774.5,510.1l-1.2,-0.0M1772.1,495.2l3.1,-1.4M1779.9,492.6l3.1,-2.0M1785.5,487.8l0.8,-2.4M1601.8,341.6l1.3,0.7M1609.8,353.4l2.7,-0.0M1618.4,355.4l2.8,1.0M1630.2,360.0l0.6,3.0M1642.0,368.3l3.3,2.0M1745.7,680.0l2.5,-1.0M1748.6,678.9l3.9,1.2M1762.5,678.9l-1.9,-1.2M1758.2,676.0l-1.4,0.1M1752.5,676.8l-2.8,2.8M1541.7,531.7l1.2,3.9M1542.0,552.5l-1.3,3.9M1540.6,556.7l-3.5,1.8M1533.9,561.7l-1.9,1.3M1651.8,628.5l-1.5,1.1M1649.1,630.6l-0.9,2.0M1642.4,643.6l-3.4,1.6M1638.4,645.5l-1.9,0.6M1635.1,646.6l-0.3,1.9M1630.4,655.5l-2.3,1.9M1626.0,658.9l-2.6,3.0M1478.1,599.4l-1.9,0.8M1472.8,603.9l-1.5,1.2M1465.7,608.6l-3.2,0.5M1463.0,614.3l0.2,3.0M1712.6,614.5l0.1,-3.9M1727.8,594.5l1.2,0.9M1737.4,593.3l3.5,-1.5M1656.7,556.0l-2.0,0.4M1648.5,570.0l2.5,1.5M1634.9,663.1l-2.3,2.9M1631.3,667.5l-3.1,1.8M1624.2,670.8l-3.5,1.0M1617.4,672.7l2.1,1.9M1621.7,676.6l-0.0,2.2M1446.3,291.9l1.4,-0.8M1439.9,293.7l0.1,2.2M1440.8,299.8l-0.7,1.8M1436.7,304.0l-1.8,-0.5M1425.7,301.6l-2.7,-0.1M1536.3,559.1l-1.3,-2.0M1548.7,562.6l-1.0,0.7M1787.0,667.1l3.4,1.5M1793.6,670.1l0.5,1.9M1795.3,684.6l-3.1,2.2M1636.6,668.8l0.9,-2.3M1650.5,656.3l3.1,-2.2M1655.0,649.9l-3.5,-1.6M1648.6,647.0l-3.4,0.5M1594.9,436.9l-0.9,3.9M1609.3,447.4l0.3,1.2M1610.7,454.9l3.3,0.1M1604.7,607.6l-0.7,-2.4M1584.7,616.8l-1.0,2.5M1323.5,430.3l0.5,-1.7M1324.5,426.8l2.0,-0.2M1337.2,439.1l-1.3,-0.8M1330.6,436.9l-1.2,0.4M1328.6,437.5l-1.9,3.3M1431.1,575.3l0.5,-1.9M1721.1,412.8l-0.5,-3.9M1717.4,401.7l-2.7,0.4M1440.3,390.0l-0.9,1.6M1443.5,396.8l2.0,-1.1M1443.6,393.3l-2.6,-0.1M1374.1,316.3l-1.3,0.9M1365.2,331.4l-0.2,3.5M1356.9,340.3l-3.5,0.9M1511.2,495.8l-1.8,-2.8M1504.9,487.6l-1.7,-2.2M1495.9,477.3l0.6,-3.3M1496.8,472.4l0.3,-1.7M1491.8,459.4l0.1,-3.4M1544.7,375.6l-2.5,-2.2M1530.1,358.1l-0.6,-3.6M1415.6,417.6l-2.3,1.6M1409.2,418.9l-3.7,-1.0M1399.8,410.0l-0.7,-1.8M1398.4,406.2l1.9,-3.1M1400.6,402.7l2.5,-0.1M1742.4,560.7l0.3,-3.3M1742.8,556.4l-1.6,-3.0M1318.5,413.0l0.5,3.7M1657.0,637.6l-1.1,-0.8M1655.1,636.1l-1.5,-0.9M1651.8,634.2l-1.0,-1.1M1650.0,632.2l-2.0,-1.6M1628.8,628.0l-2.1,-1.2M1618.0,623.4l-2.1,-3.1M1614.9,618.7l2.5,0.0M1679.1,333.0l-2.1,-0.8M1676.7,332.0l-0.9,1.8M1373.0,378.3l-0.5,-2.6M1663.6,370.6l3.2,-0.6M1668.9,369.6l2.5,1.5M1675.4,374.8l-1.0,3.5M1673.6,381.1l-1.5,1.1M1308.8,335.8l-1.7,-2.6M1479.5,323.1l-2.2,-2.1M1642.9,401.7l-0.2,-1.2M1642.6,400.3l1.2,-3.8M1636.2,384.3l-1.9,-0.1M1628.2,384.2l-2.1,-1.6M1443.0,459.7l-0.3,1.3M1748.3,673.6l-0.3,-1.4M1747.9,671.7l0.6,-3.3M1753.9,660.8l2.4,-0.8M1759.0,659.0l2.2,-1.5M1763.7,655.8l2.3,-0.0M1766.6,655.7l2.8,2.1M1771.9,659.7l3.5,-1.3M1782.4,652.3l0.7,-1.1M1786.4,645.1l-1.6,-3.4M1783.7,639.3l-0.1,-1.7M1730.1,623.5l2.1,-0.8M1734.7,635.9l0.5,1.4M1733.7,640.2l-0.5,3.4M1727.4,648.1l-3.2,-0.9M1655.7,563.5l1.7,-2.3M1659.4,558.4l-3.0,-1.6M1518.1,514.2l1.5,3.1M1519.7,525.6l3.3,2.6M1528.3,528.4l1.9,1.4M1524.4,532.0l-1.3,0.2M1522.3,532.3l-1.0,0.7M1341.1,357.9l-0.8,-3.3M1339.5,351.0l-0.5,-3.3M1342.9,341.2l2.0,0.1M1346.1,341.3l2.5,0.7M1349.8,342.4l1.2,-0.5M1356.3,342.3l1.0,1.9M1640.3,599.5l-1.6,3.5M1637.6,605.6l2.1,3.5M1640.2,610.1l2.9,2.5M1645.7,614.8l1.6,3.0M1648.8,620.5l1.6,1.2M1651.9,623.0l3.8,1.0M1661.3,627.4l-0.4,4.0M1660.5,634.2l-2.1,-1.3M1468.0,315.7l3.6,0.3M1485.2,320.0l0.8,0.9M1486.9,321.8l0.9,1.1M1491.6,331.0l-1.3,1.4M1376.9,329.3l-0.1,-1.3M1372.5,312.3l0.6,-3.2M1373.3,308.3l0.8,-1.9M1582.6,359.6l1.1,2.6M1616.5,557.1l-1.4,0.8M1614.2,558.4l-3.1,-0.0M1654.2,611.7l0.1,-2.1M1668.5,592.5l-0.8,-2.0M1670.5,568.9l-0.5,-3.0M1669.5,563.0l-1.0,-2.6M1668.4,560.1l-2.5,-1.3M1429.7,383.8l0.8,-3.7M1436.3,371.4l-0.5,1.3M1336.1,401.0l3.1,-0.8M1332.8,438.3l4.0,-0.5M1342.8,455.4l-0.3,3.4M1348.1,466.8l2.2,2.2M1509.4,335.0l0.6,-1.8M1512.0,326.2l-1.4,-1.8M1518.9,317.6l2.4,-1.2M1533.7,317.3l1.7,1.9M1540.0,330.8l-1.3,2.5M1305.3,417.4l-0.8,1.8M1305.3,425.3l-2.1,3.4M1300.1,439.1l0.4,3.3M1300.8,444.8l3.1,1.8M1544.7,420.3l1.8,-2.1M1548.8,407.2l-0.2,-1.3M1549.3,403.3l2.0,-1.8M1554.9,401.1l2.3,-1.3M1559.1,398.5l2.6,-3.3M1659.4,395.5l-2.6,2.7M1653.9,401.0l-2.2,2.7M1647.6,413.6l-1.0,1.8M1636.6,429.5l0.9,3.2M1474.7,340.9l-3.9,-0.8M1461.2,339.7l-3.2,-2.5M1456.7,336.2l-3.2,0.3M1452.0,336.6l-3.8,0.3M1440.3,331.0l-2.9,-1.6M1423.1,318.2l-3.3,-0.7M1496.6,649.7l-2.6,2.7M1506.0,639.0l0.6,1.4M1506.6,640.6l0.3,1.5M1507.0,642.5l1.9,3.6M1510.1,648.5l2.2,0.4M1518.3,646.7l2.8,0.1M1664.8,685.2l-1.6,-1.3M1662.6,683.4l-0.7,-2.6M1324.4,278.5l-0.5,-1.1M1323.8,277.3l1.2,-3.4M1331.3,270.0l2.7,0.3M1515.4,677.5l-3.0,2.6M1509.1,684.2l-1.5,1.0M1498.7,689.0l-3.0,-1.8M1488.9,682.5l-3.0,-0.0M1481.1,684.5l-1.2,4.0M1477.5,344.9l1.4,-0.1M1480.0,344.7l1.7,-1.8M1492.0,338.3l2.9,-1.3M1495.6,344.2l2.0,2.1M1498.7,347.3l-2.8,0.8M1567.1,546.7l-1.0,-0.8M1555.9,542.4l-1.1,-1.1M1536.1,533.7l-3.8,1.2M1468.8,357.6l1.5,1.3M1472.0,360.5l0.3,2.4M1569.0,645.7l1.5,-0.4M1571.1,645.1l1.6,-1.6M1573.5,642.7l4.1,-0.7M1592.2,637.0l-0.4,-2.9M1489.5,466.0l-2.2,2.4M1480.7,482.6l-1.8,-0.9M1478.0,478.0l-2.2,-1.4M1691.7,560.5l0.4,-2.3M1687.0,553.9l-1.2,-0.1M1514.4,306.8l-1.5,-0.5M1509.9,304.7l-3.4,-1.0M1505.9,303.5l-0.6,-1.4M1505.0,301.6l1.8,-3.6M1436.4,315.4l-2.2,3.1M1429.9,322.9l-1.0,2.3M1570.4,607.2l-2.1,-3.6M1368.1,439.3l1.0,-2.6M1395.0,434.6l2.1,-2.8M1456.2,452.9l-1.1,0.7M1428.9,462.8l-3.6,-0.5M1422.8,462.0l-1.6,0.9M1692.1,635.7l-1.4,1.4M1690.4,637.4l-1.5,0.3M1678.7,650.3l0.3,2.2M1679.0,657.1l1.2,1.7M1651.2,417.9l0.5,1.2M1443.1,422.9l0.8,3.9M1444.4,429.7l-0.5,4.1M1442.9,443.7l-1.1,1.9M1415.4,400.6l0.8,1.0M1398.3,388.5l1.0,-3.0M1508.2,319.3l-0.6,1.7M1504.4,324.3l-1.2,-1.8M1502.5,321.5l-0.6,-2.9M1508.1,316.3l2.0,-1.9M1450.6,433.7l1.5,-1.7M1460.0,429.5l3.7,-0.0M1479.7,432.7l4.0,1.4M1435.0,296.0l-1.6,-3.0M1432.0,290.4l-1.2,-2.2M1430.1,284.6l0.2,-2.8M1528.6,362.2l2.5,-1.0M1541.3,360.5l0.0,1.8M1648.2,524.6l0.7,3.9M1646.9,538.1l-0.2,1.3M1651.1,550.7l0.0,1.3M1642.8,554.0l-1.9,-2.2M1639.0,549.5l-1.6,-0.9M1568.6,436.2l-1.5,-0.1M1563.4,437.4l-1.7,3.0M1560.3,442.8l-2.8,0.4M1552.9,446.9l-3.8,1.1M1680.4,683.7l-2.9,1.9M1434.0,573.6l-0.9,-0.8M1429.4,558.4l-0.5,-3.0M1739.6,408.5l-4.2,0.2M1723.7,405.1l-1.0,1.8M1717.6,413.9l2.2,2.3M1544.6,460.4l-0.9,3.1M1543.0,466.1l-3.1,1.0M1539.8,467.1l-4.1,-0.4M1532.6,452.1l-3.6,1.8M1428.2,475.5l-1.5,-0.3M1418.8,475.4l-2.9,0.1M1413.3,477.4l-1.2,3.2M1394.4,458.1l-4.1,0.8M1382.8,460.2l-1.5,1.9M1377.8,251.8l-2.5,-0.4M1369.4,262.8l-2.7,2.1M1356.4,258.3l-1.1,-1.9M1745.1,522.3l2.3,-2.0M1749.6,518.3l0.1,-2.0M1749.7,515.9l0.3,-3.7M1751.7,503.6l3.1,-2.1M1771.0,502.4l1.6,-0.6M1409.8,515.8l1.4,3.9M1422.4,535.8l1.7,0.1M1424.2,535.9l1.1,-1.4M1655.5,492.1l1.7,-0.4M1665.1,489.9l0.2,-1.2M1367.2,468.4l-1.4,-1.4M1361.2,459.5l-1.3,-1.3M1445.8,602.2l1.7,1.7M1453.3,609.0l-0.4,2.0M1561.8,393.9l1.1,0.9M1657.2,549.8l3.3,1.9M1661.3,552.2l3.5,0.1M1680.0,560.8l1.1,1.2M1497.9,446.1l-0.4,-3.2M1630.6,635.7l-3.1,0.4M1618.2,638.6l-1.0,0.8M1616.5,640.1l-2.5,-0.1M1610.1,642.6l-1.4,0.8M1398.3,570.7l-3.7,0.8M1387.9,579.9l-0.2,3.0M1788.3,521.2l-1.1,2.5M1496.4,348.8l-2.4,0.5M1491.3,350.0l-3.2,-2.5M1479.5,342.2l0.8,1.3M1577.5,604.6l-0.2,-1.8M1577.1,597.9l1.1,-1.9M1686.9,519.1l2.6,-1.4M1691.2,521.6l0.8,2.0M1518.8,427.4l-2.1,0.5M1514.2,434.0l-1.5,2.1M1512.8,444.6l1.3,2.8M1439.5,386.3l-0.6,1.2M1439.9,390.9l-1.3,3.9M1436.4,397.5l-2.8,0.5M1430.8,398.4l-3.9,-0.3M1314.6,268.2l-0.1,-3.4M1317.5,256.6l1.6,-3.2M1320.0,251.8l3.0,-0.3M1350.5,250.7l0.5,-3.0M1520.9,426.3l0.3,-3.2M1521.9,415.5l3.1,-2.5M1537.5,414.3l1.4,2.2M1523.2,602.9l-2.6,-1.8M1512.5,612.1l1.4,3.2M1519.0,619.0l0.3,1.5M1455.2,349.6l-2.1,-1.7M1449.4,345.0l-1.9,2.4M1446.7,355.4l-0.4,2.9M1445.7,361.5l-3.0,-2.5M1355.1,351.3l-2.4,0.3M1686.1,626.5l-1.8,-0.8M1659.8,625.9l-1.3,1.4M1738.3,583.0l1.5,1.8M1743.1,611.8l0.2,1.6M1553.5,529.4l0.7,3.4M1738.0,389.9l2.0,-1.1M1560.9,389.4l1.1,2.9M1562.7,394.1l-1.4,3.4M1559.3,402.9l-0.7,1.1M1592.7,568.2l1.2,1.0M1599.7,565.2l-3.4,-1.0M1563.4,341.7l-1.9,-3.2M1559.8,335.9l-2.7,-0.3M1554.7,335.3l-2.2,1.2M1482.3,460.6l2.3,3.0M1484.8,463.9l1.9,-0.4M1487.7,455.9l-3.0,-1.1M1332.4,287.8l3.4,0.9M1339.0,289.6l-0.5,2.4M1342.7,298.0l1.6,-0.3M1356.4,297.6l1.0,-2.6M1332.8,607.8l0.2,3.9M1340.0,605.8l-0.7,-3.2M1439.6,663.9l1.6,-1.6M1324.5,771.8l2.1,-2.1M1462.2,770.1l-1.2,1.8M1469.1,765.1l3.6,-1.2M1465.5,734.1l-3.7,0.6M1460.5,734.9l-1.9,2.5M1393.2,756.5l0.1,2.8M1393.4,761.9l1.5,3.3M1344.5,619.2l-0.9,-2.7M1380.6,765.1l2.5,-1.6M1478.4,768.5l2.2,1.3M1486.1,773.9l-0.1,3.1M1371.2,660.0l-1.5,0.8M1368.9,661.2l-1.6,0.6M1368.2,753.5l-0.2,-2.5M1366.9,747.2l1.4,-3.0M1368.5,743.8l-1.7,-1.4M1297.8,642.1l-0.7,-1.6M1296.6,639.6l1.0,-1.1M1311.8,740.8l-1.9,-1.2M1308.6,738.7l-3.2,-0.8M1353.1,715.0l-3.0,-0.4M1330.0,778.2l-3.7,1.5M1320.6,789.0l1.6,2.9M1309.2,649.6l-2.1,-3.0M1306.7,646.0l-3.8,-1.0M1371.6,737.5l1.1,-0.7M1324.7,695.3l0.9,1.4M1418.2,649.7l2.4,1.5M1422.2,652.2l1.1,3.3M1423.9,657.3l1.2,1.2M1419.8,738.6l2.2,-3.5M1470.1,700.4l3.9,0.7M1474.5,701.2l1.6,2.3M1480.0,704.4l3.8,-1.0M1399.6,709.2l-2.0,1.0M1452.3,760.2l-1.6,-3.5M1450.5,756.5l0.3,-1.4M1451.0,754.2l-0.3,-1.2M1447.9,751.1l-1.5,3.8M1314.8,612.2l-1.4,2.2M1325.4,691.5l1.6,-2.0M1442.9,721.1l1.4,3.2M1396.5,599.3l-0.5,-1.6M1395.8,597.2l-1.8,1.1M1392.3,599.3l0.7,1.8M1402.0,606.1l3.9,-1.3M1476.8,710.1l1.5,3.2M1479.1,718.0l1.7,1.2M1395.9,603.8l-1.4,0.4M1392.8,604.7l-3.1,-2.4M1469.0,754.4l0.9,-1.9M1380.9,737.4l0.1,3.6M1315.9,755.4l-0.0,1.9M1315.9,757.7l-2.5,2.0M1350.6,607.2l-2.1,1.1M1344.4,610.7l-1.5,-0.1M1436.0,728.4l-1.5,-3.2M1465.2,672.5l0.5,2.0M1336.4,632.6l-1.2,-0.5M1441.0,730.0l2.0,-0.4" fill="none" stroke="#86d0ee" stroke-width="1.0" opacity="0.6"/>
<path d="M1475.0,299.8l1.2,3.3M1476.7,304.6l2.6,2.3M1496.6,318.1l0.9,1.8M1497.5,319.9l0.8,1.3M1498.5,321.5l3.3,1.9M1747.3,680.0l2.4,-1.8M1752.6,676.1l1.4,-0.7M1776.5,674.9l1.7,0.7M1781.0,696.0l-2.5,0.9M1798.9,570.2l1.3,1.3M1787.0,592.3l-2.4,1.3M1567.6,445.3l2.0,-0.9M1569.8,444.3l3.9,-0.4M1576.5,445.6l2.9,2.2M1582.9,450.5l2.0,1.0M1586.4,452.4l4.0,0.8M1649.5,712.6l1.2,-0.0M1651.4,712.6l1.5,-1.8M1383.2,343.3l-1.8,1.4M1378.8,351.8l-2.6,2.1M1748.2,654.1l1.7,-0.8M1755.5,649.4l-0.2,-2.2M1752.9,643.6l-3.3,-0.6M1648.9,395.2l2.1,-1.3M1653.3,392.5l3.2,1.1M1663.0,399.2l2.0,0.6M1665.3,400.0l-0.9,2.7M1670.7,406.7l2.7,-0.6M1679.8,404.9l1.7,1.0M1510.4,584.7l0.7,2.7M1511.3,588.2l2.4,1.4M1529.7,591.9l1.4,-2.9M1531.6,588.2l0.8,-2.6M1538.1,583.6l1.3,-1.2M1599.1,665.7l2.3,0.0M1545.1,390.9l1.3,-2.8M1414.5,434.5l3.1,0.2M1427.7,428.1l2.5,-1.3M1364.7,268.5l-2.7,0.2M1560.9,399.7l2.6,1.7M1708.4,454.1l1.9,1.5M1566.3,522.5l-0.3,3.4M1558.9,538.2l-3.2,-1.3M1544.6,532.8l-1.3,-1.3M1680.6,334.0l0.3,3.4M1681.0,338.1l-2.4,2.0M1410.2,486.8l-2.1,-2.7M1620.2,447.2l-1.6,3.1M1613.9,450.0l-0.4,-3.6M1397.4,292.2l-2.3,-2.5M1386.0,280.5l2.4,1.2M1388.5,281.7l1.2,-0.0M1410.7,412.3l-3.9,0.4M1398.6,418.8l-1.7,2.0M1395.9,422.1l-0.9,1.6M1394.4,424.6l-3.0,0.6M1390.4,425.4l-2.4,-3.1M1378.1,410.9l0.3,-3.6M1380.0,400.8l3.0,-2.9M1383.0,397.9l1.8,-0.6M1385.9,396.9l0.6,1.6M1386.5,398.6l-1.1,3.4M1290.2,204.1l2.5,-2.9M1449.1,552.4l-1.5,0.6M1439.2,555.6l-2.3,0.8M1429.8,562.2l-2.4,1.6M1458.1,546.4l-0.9,-1.8M1740.1,450.7l-3.4,0.9M1663.5,508.7l-0.9,-2.7M1438.6,494.0l-2.8,2.6M1424.4,515.3l-3.3,-0.3M1418.9,514.8l-3.0,-1.2M1412.9,512.4l-3.3,-0.4M1559.7,570.9l1.4,-1.8M1566.6,543.5l-0.7,-1.8M1670.0,355.2l-4.0,0.2M1648.5,334.8l-1.1,-4.0M1415.0,314.8l3.3,1.6M1314.0,387.5l2.7,-2.9M1319.2,401.5l2.9,-1.5M1660.2,434.6l1.4,-3.8M1662.2,426.1l-2.1,-1.5M1658.7,404.4l0.3,-2.9M1659.2,398.5l0.8,-2.4M1660.3,395.2l0.2,-2.3M1660.6,391.8l-1.1,-3.4M1456.9,629.2l-0.1,2.8M1452.6,643.0l-2.1,2.7M1449.7,646.8l-2.7,-0.1M1750.1,402.2l0.4,4.0M1441.9,543.8l1.9,-1.4M1349.2,420.8l-2.6,-2.0M1338.8,416.7l-1.0,-3.3M1337.6,413.1l-1.6,-1.8M1752.9,632.3l-3.8,0.9M1741.3,629.3l-2.3,-0.2M1735.7,627.0l-1.5,-1.6M1301.9,363.0l0.7,-2.1M1311.3,349.5l0.1,-3.5M1311.4,344.9l-1.8,-1.6M1438.4,387.9l-0.1,1.5M1438.2,390.5l0.5,1.3M1438.7,391.9l-0.2,2.9M1430.0,401.1l-2.7,-1.8M1424.9,397.6l-3.6,-0.9M1764.6,614.6l-1.6,0.1M1761.8,616.2l-3.4,1.0M1755.5,623.7l-1.5,0.9M1613.5,607.8l-3.1,-0.8M1643.2,593.9l-0.6,-3.6M1477.5,377.8l-1.1,1.4M1475.2,380.6l-2.5,1.5M1469.6,387.1l2.8,2.4M1475.5,398.1l2.0,1.7M1483.6,403.0l3.4,-0.0M1545.6,525.0l-1.6,-2.0M1542.2,520.8l1.4,-1.4M1543.7,519.3l0.5,-2.9M1544.1,506.4l0.1,-1.3M1546.5,498.5l3.2,0.8M1749.0,524.3l-1.6,-1.5M1740.6,521.7l-0.9,-0.9M1738.2,518.4l-1.1,-2.0M1596.9,482.8l-0.3,2.6M1601.4,500.1l2.6,-2.5M1606.1,492.6l0.4,-1.8M1606.8,488.7l0.9,-1.8M1607.9,486.4l0.4,-2.4M1609.9,478.6l1.5,-1.4M1733.6,572.9l-1.4,-0.5M1790.0,464.3l0.4,4.0M1790.7,471.6l-0.6,2.8M1453.7,416.5l1.7,-0.8M1464.3,415.2l1.1,0.8M1466.3,416.6l2.3,1.2M1764.0,568.6l1.6,-1.7M1456.7,330.0l0.3,-3.6M1463.6,312.4l2.3,0.0M1468.6,312.5l1.5,0.4M1471.2,313.3l1.7,0.3M1479.2,305.4l1.9,-3.2M1462.2,464.9l-2.4,2.1M1458.3,468.2l-1.8,-0.8M1454.7,466.5l-1.4,0.1M1400.5,423.8l2.6,-1.9M1413.8,404.0l1.0,-3.2M1715.5,694.3l1.2,3.8M1734.1,698.4l1.2,1.9M1742.1,701.9l3.2,-0.9M1674.8,571.7l2.5,-1.2M1678.0,570.1l1.3,1.9M1679.9,583.5l0.7,3.4M1685.7,599.5l2.7,2.5M1377.4,362.3l-1.2,0.6M1374.9,363.5l-1.8,-0.0M1371.4,363.4l-1.6,1.6M1630.8,620.1l1.0,-3.7M1632.6,613.7l0.4,-1.8M1635.5,609.3l1.7,-0.8M1641.8,602.8l3.7,-1.7M1512.2,681.5l-0.8,-1.0M1649.3,345.7l-1.6,2.6M1644.1,351.5l-3.3,1.2M1638.1,353.7l-3.2,2.0M1631.9,357.5l-0.3,2.9M1631.6,361.3l3.4,-0.5M1641.6,361.2l3.4,0.2M1651.9,360.3l1.5,1.0M1702.9,621.1l3.6,0.6M1580.0,612.4l1.5,1.4M1585.7,618.8l-4.0,0.7M1451.6,390.0l-1.1,0.9M1449.9,391.5l-0.7,2.7M1725.5,588.5l0.3,-2.5M1728.0,576.9l0.6,-3.0M1729.0,571.8l-2.6,-3.3M1696.7,467.1l-2.1,2.5M1692.4,472.2l0.4,1.6M1691.7,478.6l-1.4,2.5M1722.5,365.1l2.0,-2.5M1730.7,360.8l0.3,4.0M1735.5,359.9l-1.4,-1.1M1726.0,348.2l-2.9,1.3M1729.7,351.7l1.6,-0.8M1747.4,655.7l1.6,1.7M1752.1,663.1l-1.1,1.0M1749.9,665.3l-1.4,-0.1M1397.6,252.5l1.7,0.7M1402.3,256.2l0.6,1.1M1544.1,698.0l-1.6,2.8M1541.3,709.0l1.8,3.8M1545.0,716.8l1.7,0.4M1548.2,717.6l1.8,-0.5M1558.3,737.8l-1.2,2.7M1465.2,583.3l-1.2,-3.9M1460.5,575.8l-3.6,-2.1M1456.3,573.5l-2.6,-1.6M1441.0,569.7l2.6,-0.5M1446.9,568.0l-1.8,-2.8M1452.0,531.2l2.6,2.0M1470.8,546.0l0.6,-2.0M1468.9,540.4l-0.8,-2.3M1350.8,302.4l-2.1,-0.7M1346.3,303.6l-1.8,0.6M1329.3,329.1l-3.6,1.8M1754.9,652.7l-1.9,2.5M1750.8,658.0l-1.1,3.7M1517.3,560.2l1.8,-3.7M1522.5,526.0l-1.4,-2.5M1519.7,521.1l-1.2,-1.6M1794.1,568.8l-1.3,1.7M1792.6,570.6l-0.2,2.7M1377.3,253.0l1.5,2.4M1379.4,256.5l0.7,2.3M1380.2,259.2l-0.0,1.2M1382.1,269.0l2.6,0.7M1386.3,270.1l2.7,-2.3M1390.5,264.7l-0.7,-1.9M1397.0,296.5l0.0,2.3M1397.0,301.6l-2.4,1.9M1552.9,616.0l0.9,1.2M1529.9,626.1l0.7,-1.4M1538.9,632.8l-1.8,1.8M1531.7,638.0l-3.0,-1.3M1772.5,652.5l0.1,1.6M1783.3,674.1l1.0,0.7M1784.4,674.9l3.2,0.6M1633.7,411.7l-2.1,2.1M1628.4,420.3l1.1,1.4M1621.9,432.4l-1.7,-0.2M1615.1,431.8l-2.1,1.9M1425.5,534.6l-0.2,-1.8M1425.2,531.7l1.4,-0.8M1431.8,536.1l-2.1,2.3M1346.1,387.2l1.4,-1.6M1349.9,381.1l-1.4,-2.6M1352.2,367.1l1.3,-1.3M1365.6,366.8l3.5,-1.0M1381.4,342.0l2.0,-0.8M1384.7,340.7l-0.1,1.6M1480.3,560.0l-3.8,0.3M1473.7,560.5l-3.5,-0.1M1653.4,540.2l2.1,0.2M1577.6,510.8l-4.0,0.6M1566.9,510.3l-2.4,-1.0M1554.6,500.3l-3.8,1.0M1546.4,389.1l1.0,-2.3M1544.4,379.2l-1.7,-0.7M1532.3,392.5l-0.4,1.7M1397.9,236.1l0.6,3.4M1397.7,245.8l-1.5,0.2M1393.0,254.4l-0.1,3.2M1536.7,455.5l1.5,1.2M1548.1,461.7l-1.9,-2.3M1576.7,523.6l-1.1,3.5M1585.4,562.1l2.1,2.9M1378.5,494.5l1.1,1.6M1380.7,501.4l-2.7,1.8M1636.7,375.9l1.3,0.4M1644.5,381.6l1.7,-0.3M1647.3,381.0l1.7,-3.2M1654.2,378.1l2.0,2.1M1657.8,381.8l1.7,-1.3M1654.9,374.5l-1.6,-1.7M1574.7,416.8l3.1,0.3M1594.4,411.4l1.8,0.8M1456.3,288.9l-1.5,-1.1M1452.3,548.7l2.4,2.1M1462.0,563.6l2.4,-0.3M1466.3,562.9l2.1,1.5M1468.9,564.7l1.6,1.6M1474.4,567.7l3.6,-1.2M1479.4,566.1l0.5,-2.5M1467.6,557.2l-0.7,-3.0M1747.4,413.7l-3.4,0.5M1739.0,414.0l-3.0,1.0M1733.7,415.9l0.7,2.0M1597.1,482.5l0.9,1.1M1599.8,476.4l0.5,-2.6M1605.2,474.2l-0.7,2.2M1404.7,554.5l-1.7,-3.0M1390.1,546.0l-1.7,1.5M1382.6,549.2l-1.8,2.1M1436.5,574.5l-0.4,-3.4M1436.1,571.1l1.2,-1.4M1439.3,567.3l1.6,-3.3M1449.7,554.6l1.4,-1.1M1465.6,558.7l3.9,-1.0M1473.8,556.6l2.6,-3.0M1480.5,550.1l2.1,0.4M1569.7,365.5l-0.4,3.0M1571.5,371.5l2.0,-0.1M1582.0,369.3l1.5,3.3M1583.7,378.4l-0.1,1.8M1589.4,382.8l1.5,2.4M1396.4,264.0l2.9,-0.6M1408.3,259.3l0.1,-1.6M1806.5,556.2l-0.1,-2.2M1811.8,548.0l1.6,-3.6M1814.2,538.2l-2.8,1.9M1626.3,692.6l2.6,2.6M1641.0,699.1l3.1,-0.7M1353.7,350.8l-0.0,-2.1M1353.7,347.3l-0.3,-1.4M1354.7,335.7l0.6,-2.1M1355.8,329.3l1.3,-1.7M1564.6,651.6l1.6,1.4M1570.6,653.9l3.8,1.5M1574.5,661.7l-2.7,1.7M1564.8,664.8l-4.1,-0.3M1557.2,667.8l-0.6,3.5M1556.0,674.5l-0.5,1.6M1557.2,680.9l-0.6,2.6M1556.4,684.6l-1.0,2.0M1555.0,687.5l-3.1,2.2M1750.6,443.7l-0.7,2.5M1749.8,446.4l-1.0,1.3M1732.7,459.7l-2.0,0.9M1728.1,461.4l-2.9,3.0M1721.9,468.1l-2.6,-0.1M1384.4,265.4l1.3,1.9M1386.0,270.2l-0.0,3.6M1381.7,279.5l-0.9,1.1M1380.6,280.8l-2.2,3.1M1537.1,593.0l3.1,1.9M1542.4,606.1l-0.2,1.4M1539.7,614.3l-0.0,3.1M1539.6,620.9l1.6,2.2M1401.2,345.4l-0.4,-1.1M1390.5,338.7l-0.5,1.7M1389.9,340.6l-1.7,1.5M1387.6,342.5l-0.4,1.5M1387.1,344.7l0.9,1.5M1391.5,346.6l2.2,-1.4M1606.5,678.8l-0.4,3.6M1554.9,525.4l0.7,-3.5M1557.7,507.7l2.0,1.2M1552.9,548.7l-3.7,1.0M1545.4,550.8l-2.4,2.2M1540.5,555.4l-0.3,2.6M1540.0,575.8l1.0,0.9M1340.8,437.3l2.2,-0.8M1347.2,270.9l3.0,0.5M1354.5,271.1l2.1,-0.2M1578.0,654.4l-1.2,-0.4M1575.0,650.7l1.0,-3.5M1577.2,643.2l0.2,-1.7M1571.4,336.7l1.0,-1.3M1573.3,334.4l-0.8,-4.0M1573.1,327.6l0.7,-2.7M1555.9,558.5l-1.8,-2.1M1559.8,539.1l3.3,-1.9M1570.7,533.1l-0.2,-1.4M1567.4,522.9l-3.0,-1.0M1671.0,470.2l2.0,2.8M1514.0,620.3l3.2,-1.0M1519.4,618.5l3.4,-2.4M1523.2,615.8l0.4,-1.7M1702.8,630.2l1.1,0.5M1714.4,637.3l1.9,1.1M1694.6,533.0l-3.7,1.9M1659.2,529.7l-1.8,0.5M1509.6,303.4l2.5,1.7M1523.4,308.8l2.9,-1.7M1438.1,293.0l4.0,0.1M1445.4,306.1l-1.0,1.8M1710.0,335.1l-2.5,0.9M1703.7,337.1l-3.8,-0.7M1712.2,538.0l0.5,-1.1M1712.8,536.6l2.6,0.1M1720.7,551.2l-1.0,0.7M1676.2,495.3l-1.0,1.8M1674.4,498.6l0.8,1.9M1675.5,501.2l2.9,1.4M1679.4,503.0l0.3,-3.9M1735.6,473.4l1.2,-0.1M1748.6,484.7l-0.1,-3.5M1594.2,494.7l2.4,-2.1M1601.0,484.6l0.7,-3.9M1602.2,464.5l-3.3,-2.2M1598.4,461.9l-1.2,-1.5M1373.0,340.6l-1.3,-0.2M1733.6,649.2l3.6,-0.6M1746.5,645.0l0.6,-1.1M1598.7,654.7l-2.7,-2.7M1592.5,657.4l1.2,3.1M1594.8,663.1l1.0,1.0M1595.9,664.2l2.9,0.0M1786.8,675.3l2.5,-1.4M1800.6,669.5l2.2,2.7M1804.7,674.3l-2.1,2.4M1780.4,686.3l-1.3,-2.6M1778.3,682.1l-1.2,-0.6M1297.2,335.8l-0.2,1.3M1287.2,333.9l-1.2,-1.4M1425.4,340.0l-1.0,2.0M1418.6,342.6l-2.3,1.0M1412.6,345.3l-3.5,-2.1M1408.8,341.1l-2.1,-2.9M1682.0,400.4l-1.2,-0.3M1680.3,399.9l-1.7,-1.7M1679.0,393.6l0.9,-1.9M1677.5,385.2l-2.5,-2.1M1663.1,387.2l-0.8,2.0M1661.8,397.9l1.2,1.2M1569.5,713.4l1.1,-4.1M1570.9,700.6l1.1,-1.0M1581.4,698.5l-3.5,0.9M1573.9,703.5l-1.0,2.7M1560.5,660.8l1.8,-2.0M1567.4,656.3l1.5,-3.2M1572.9,648.7l-0.5,-2.7M1572.0,644.4l-1.6,-3.7M1579.3,630.1l1.1,-1.4M1581.3,627.6l-1.9,-1.1M1789.9,524.6l1.5,1.6M1794.9,532.5l-2.9,-0.3M1783.6,525.0l-1.9,-1.4M1581.9,665.5l0.4,-3.5M1582.6,659.8l0.8,-3.0M1583.2,649.5l-1.5,0.3M1566.9,656.4l-2.9,2.7M1644.3,379.7l-0.6,-1.4M1315.1,276.1l-0.7,2.2M1556.3,553.2l-0.8,-1.1M1684.8,434.9l-2.9,-1.5M1778.0,514.3l-2.3,0.5M1768.7,520.2l-1.3,-0.4M1761.5,520.8l-0.4,-1.4M1760.0,508.6l-0.2,-1.5M1762.2,489.4l2.7,-2.3M1381.5,304.1l2.3,0.1M1385.0,304.4l1.3,0.7M1386.6,305.2l0.8,1.7M1387.7,307.3l-1.4,2.5M1385.4,311.3l0.2,1.7M1735.0,440.9l2.4,-0.2M1752.0,448.0l2.3,-0.9M1757.8,401.6l-2.0,-0.3M1750.1,400.7l-1.2,0.1M1479.6,571.6l-1.0,1.5M1478.3,573.7l-1.7,2.3M1468.4,578.8l-1.4,-2.3M1577.0,666.3l-3.1,-0.1M1558.4,669.9l-3.6,0.2M1550.5,670.4l-2.1,0.4M1542.3,669.2l-2.5,-2.4M1539.6,666.6l-1.5,-1.5M1524.4,651.9l-1.2,0.5M1522.1,652.9l-1.4,3.0M1520.5,656.3l-3.5,1.6M1690.9,621.8l2.0,-2.6M1789.2,583.6l-3.9,-1.1M1780.8,581.2l-3.5,1.1M1775.1,583.0l-1.8,1.2M1754.1,581.2l-3.1,-2.3M1474.5,375.0l2.2,2.5M1513.4,316.0l-2.0,-1.1M1510.5,314.5l1.0,-3.5M1520.1,310.9l1.1,0.7M1726.8,661.3l-0.4,3.4M1732.3,682.7l1.1,1.7M1744.5,671.8l-1.1,2.0M1736.3,681.9l-0.8,3.3M1730.3,696.8l-2.5,2.8M1728.6,691.8l0.1,-3.5M1431.8,393.0l1.2,-0.2M1450.0,389.5l2.2,-0.1M1484.4,388.1l1.7,1.2M1698.9,450.9l3.2,-1.5M1703.5,448.8l1.5,0.5M1720.8,456.1l0.2,3.2M1721.0,459.7l1.5,2.4M1723.8,464.0l1.8,2.6M1630.1,613.1l1.4,2.0M1640.9,615.8l-1.0,-3.5M1382.6,408.8l1.3,1.8M1385.3,412.6l-1.0,2.5M1384.6,421.4l0.8,1.1M1719.8,457.9l-1.8,1.3M1715.9,472.3l0.2,2.2M1724.1,485.8l3.0,-2.1M1728.6,482.7l2.8,0.0M1736.3,487.1l2.7,0.7M1696.0,442.3l-2.6,0.2M1687.5,446.8l-0.9,3.2M1686.3,450.9l-1.1,1.5M1501.1,426.7l1.2,-2.8M1504.5,418.0l-2.0,-2.6M1502.3,408.1l-2.3,-2.1M1769.2,506.0l-1.3,-0.6M1768.1,499.3l2.2,-2.3M1777.1,493.0l1.7,-0.2M1787.0,483.2l2.2,-1.3M1790.6,481.0l3.9,0.9M1627.1,355.9l1.9,0.2M1629.1,356.1l0.8,1.0M1630.1,357.5l0.1,1.9M1755.1,690.2l-3.7,-1.8M1750.7,688.1l-2.3,-3.1M1755.8,681.2l4.1,-0.8M1759.8,677.3l-0.9,-0.8M1540.9,547.5l0.7,3.1M1534.0,560.1l-0.1,1.5M1530.7,567.5l0.5,1.2M1524.6,579.9l-3.4,2.3M1643.9,639.2l-1.3,3.7M1470.0,606.1l-2.8,1.6M1463.2,625.9l1.1,3.5M1712.8,634.2l1.4,-3.0M1714.4,628.7l0.4,-1.3M1712.7,608.6l2.6,-2.1M1723.2,597.7l1.1,-2.2M1724.4,595.3l2.9,-0.7M1646.4,564.4l1.4,3.7M1651.4,571.7l1.4,1.3M1624.9,650.4l2.2,0.2M1631.4,653.1l2.1,0.4M1635.5,654.0l1.0,1.9M1449.2,290.1l0.2,-1.7M1449.4,287.6l-2.5,0.8M1446.8,288.4l-2.9,1.0M1439.2,290.5l0.4,1.8M1440.1,297.6l0.4,1.4M1440.1,301.7l-1.7,1.1M1431.7,302.4l-3.0,-0.4M1528.4,569.0l2.5,-2.1M1536.9,563.6l2.3,-0.1M1541.2,563.4l-2.5,-2.6M1538.0,560.1l-1.2,-0.8M1534.6,556.3l3.9,0.6M1539.9,557.1l2.2,2.0M1547.7,563.4l-0.0,1.8M1542.6,574.1l-1.4,0.7M1793.0,674.2l-1.8,2.4M1779.4,694.4l0.3,1.5M1638.1,665.0l2.1,-1.0M1645.2,660.7l3.1,-2.6M1655.4,652.8l1.1,-0.9M1641.8,647.9l-2.9,2.5M1608.2,451.4l0.0,1.2M1608.2,453.1l2.2,1.6M1615.3,455.1l2.3,-0.7M1619.4,453.9l2.6,-2.3M1624.8,449.2l-0.2,-2.9M1602.6,612.9l1.0,-2.6M1586.8,613.3l-1.4,2.4M1582.8,621.7l-3.2,0.7M1334.4,427.7l2.9,0.8M1341.2,433.3l-1.8,2.7M1324.7,444.4l1.6,3.2M1438.5,291.2l-1.1,0.6M1431.6,573.3l-1.2,-3.5M1417.8,557.8l-0.9,-2.4M1725.0,417.4l-1.9,-2.3M1707.4,405.1l-0.3,1.9M1440.0,393.2l-1.3,1.3M1437.9,395.3l-2.7,-0.6M1377.6,301.6l-2.9,0.7M1369.7,312.4l2.7,2.5M1371.8,317.9l-0.7,1.5M1370.7,320.3l-1.7,1.9M1364.7,338.0l-1.6,1.3M1343.5,342.2l-1.2,4.0M1508.3,491.4l-1.6,-1.8M1501.5,483.0l-2.1,-0.7M1498.1,463.9l-2.6,-2.7M1541.9,373.2l-3.0,-1.4M1537.6,371.1l-0.5,-1.8M1529.1,351.3l3.7,-0.9M1535.6,349.7l-1.3,2.5M1428.1,406.4l-0.8,3.9M1410.7,420.9l-0.9,-1.3M1403.9,414.3l-0.5,-1.2M1403.3,412.9l-2.5,-2.0M1747.2,571.6l-0.2,-3.5M1743.6,563.3l-1.1,-2.5M1740.0,551.2l-0.9,-3.0M1319.1,416.8l-0.0,1.7M1319.9,420.5l1.9,3.0M1646.9,629.9l-1.1,-1.5M1645.4,627.8l-1.2,-0.6M1643.5,626.8l-4.1,-0.6M1635.9,625.6l-3.4,1.2M1626.4,626.6l-3.7,0.1M1673.9,345.2l3.2,-1.8M1679.2,340.2l1.1,-3.6M1674.7,335.9l-1.7,3.1M1671.2,342.1l-2.9,2.6M1385.4,389.9l-2.7,-2.8M1380.0,384.3l-1.0,-0.7M1653.3,375.1l2.6,-2.4M1657.8,371.1l3.3,-0.2M1668.9,383.0l0.8,3.8M1313.2,330.5l-2.1,2.6M1306.5,332.2l1.4,-3.3M1307.2,323.2l2.2,-2.3M1489.9,324.3l-1.7,-1.3M1642.0,408.9l1.7,-2.9M1643.8,405.9l-0.6,-2.9M1644.5,391.6l-1.3,-2.3M1640.3,384.7l-2.1,-0.2M1447.0,430.4l-1.9,2.3M1447.1,449.5l-0.8,3.5M1445.5,456.3l-2.1,2.9M1446.2,466.5l1.8,-0.4M1448.3,466.0l2.6,-0.7M1749.2,664.9l2.3,-2.0M1776.8,658.0l3.0,-1.3M1785.0,647.9l1.0,-1.9M1735.3,637.7l-0.7,1.2M1721.0,646.3l-1.7,0.1M1718.2,646.5l-1.1,0.7M1656.9,575.6l1.0,-2.3M1658.4,572.2l-1.5,-2.5M1656.7,569.4l-0.6,-4.0M1520.2,518.4l-0.2,1.5M1533.1,530.7l-1.2,3.1M1346.1,355.0l-3.4,2.0M1338.6,345.1l2.9,-2.6M1358.3,346.0l0.7,2.6M1359.8,351.4l-2.3,3.1M1357.3,354.6l-1.2,0.5M1657.8,624.5l2.0,1.6M1479.2,318.8l1.7,0.4M1488.1,323.2l1.8,2.9M1494.4,328.3l-1.8,1.7M1356.4,254.9l1.4,1.2M1361.7,256.8l2.9,-1.7M1365.7,251.1l2.4,-2.5M1384.5,251.4l2.7,2.0M1389.2,257.8l0.5,1.9M1394.1,265.7l2.0,2.2M1396.7,268.7l0.8,3.6M1374.7,332.1l1.7,-2.2M1571.8,357.8l1.8,0.4M1584.6,364.4l0.6,3.7M1585.8,371.8l1.0,2.3M1587.4,375.6l-1.0,2.0M1585.5,379.5l-0.3,2.0M1628.6,548.7l-2.1,0.9M1654.3,609.2l2.8,-2.9M1660.7,599.2l3.3,-1.2M1666.2,585.8l1.2,-2.6M1668.7,580.2l0.1,-2.8M1671.6,572.3l-1.1,-3.3M1663.6,557.7l-3.7,0.0M1431.3,376.3l-1.2,-3.1M1429.5,371.8l3.1,-2.0M1434.9,368.4l1.1,2.3M1342.3,418.2l-0.1,1.7M1342.0,449.8l-0.3,2.2M1345.2,462.8l1.1,0.8M1347.2,464.2l0.6,1.8M1510.7,331.1l1.0,-3.6M1510.2,323.9l-0.3,-1.8M1509.7,320.6l1.3,-2.1M1535.7,321.7l2.3,2.7M1306.4,414.6l-0.6,1.6M1304.5,423.2l0.8,2.1M1306.6,448.2l2.2,1.7M1548.3,416.1l1.8,-3.4M1550.7,411.6l-1.5,-3.6M1649.5,406.5l0.0,3.7M1641.3,423.7l-2.4,2.9M1476.5,339.5l-1.1,0.9M1466.6,339.3l-3.4,0.3M1445.9,337.0l-2.6,-2.8M1431.7,323.1l-0.3,-2.3M1429.2,316.9l-2.1,1.6M1426.3,319.0l-2.1,-0.5M1492.4,653.9l-3.9,-0.4M1489.7,636.0l4.1,-0.6M1503.7,634.9l1.3,2.3M1515.6,648.8l1.7,-1.3M1668.7,688.1l-2.0,-1.5M1661.6,679.6l1.5,-2.2M1664.4,674.1l-0.9,-1.8M1343.2,270.6l-2.9,2.4M1327.8,280.3l-2.0,-1.0M1334.9,270.4l3.8,-0.8M1342.2,268.9l3.1,1.2M1346.2,270.4l1.2,0.8M1508.8,673.7l3.4,1.9M1493.4,685.9l-3.0,-2.2M1482.8,682.5l-1.4,1.7M1488.5,340.6l1.8,-1.2M1493.5,348.8l-1.9,2.0M1562.1,545.3l-2.6,-1.5M1559.4,543.7l-2.3,-0.9M1553.7,540.3l-3.1,-1.2M1539.8,536.7l-2.7,-2.1M1464.7,351.5l-0.8,2.8M1472.7,365.5l2.7,1.5M1482.6,369.9l1.8,1.0M1564.8,652.2l0.5,-1.7M1583.3,643.4l2.7,-1.3M1588.5,640.9l2.0,-2.1M1595.3,628.0l0.3,-3.7M1485.2,470.9l-1.5,3.6M1478.4,481.4l-0.3,-2.7M1475.5,476.3l-1.3,0.0M1689.1,567.3l1.3,-3.5M1691.7,556.0l-2.3,-1.0M1547.8,671.0l-2.2,1.2M1538.8,678.7l-3.0,-0.0M1431.8,321.9l-1.6,0.8M1571.1,610.7l1.7,-2.0M1573.2,608.2l-2.1,-0.7M1556.2,594.1l-2.5,0.2M1380.1,435.4l3.0,0.4M1390.0,437.6l3.4,-2.0M1475.6,462.0l-1.7,-0.4M1460.3,453.8l-3.6,-0.8M1441.0,459.7l-2.0,2.0M1682.3,637.3l-0.8,1.4M1680.4,643.7l-0.5,1.7M1679.3,647.2l-0.3,1.7M1679.2,654.0l-0.1,3.0M1650.0,413.3l1.0,3.8M1651.5,421.2l2.7,2.9M1444.8,418.1l-1.3,3.5M1443.6,436.4l-0.4,3.8M1441.4,446.4l-1.4,-2.2M1418.9,405.4l0.5,4.2M1419.5,410.7l-1.1,3.6M1413.1,419.3l-3.6,-1.8M1398.5,398.5l0.4,-1.2M1509.4,314.8l-0.9,3.4M1515.3,314.4l3.9,-1.1M1467.7,429.4l3.4,-0.8M1476.9,429.2l1.5,1.9M1490.4,435.1l3.0,-0.3M1497.5,436.5l0.0,3.4M1494.9,449.4l-0.1,2.9M1494.8,455.7l0.6,2.7M1495.4,458.9l1.8,2.3M1431.8,297.0l1.8,-0.6M1533.8,360.1l3.4,1.6M1541.3,362.6l-0.4,3.4M1541.8,371.4l0.4,2.8M1542.4,376.3l2.1,2.9M1545.1,386.7l-0.1,1.4M1545.0,388.3l2.1,2.2M1647.2,545.4l2.2,2.9M1451.8,582.5l-3.1,-1.1M1447.6,580.9l-3.0,1.2M1436.3,578.9l-1.2,-2.8M1734.4,408.6l-2.9,-2.4M1727.6,404.7l-2.0,0.2M1719.6,412.0l-1.2,1.0M1721.7,418.3l0.0,1.4M1527.6,462.3l2.7,-0.9M1530.6,461.3l2.4,-3.4M1535.4,454.6l3.1,-0.6M1546.2,455.6l-2.2,1.5M1543.8,457.3l-2.3,2.1M1541.1,459.9l-0.8,-3.6M1540.0,455.3l-1.1,-1.0M1538.8,454.2l-3.0,-1.0M1432.8,475.2l-2.8,0.2M1422.7,474.4l-2.1,0.6M1388.4,443.1l1.5,1.0M1391.3,445.0l0.3,4.1M1385.9,461.1l-2.5,-0.8M1379.6,464.3l-1.3,-0.0M1376.5,466.0l-0.6,-1.1M1381.0,252.2l-2.1,-0.3M1370.1,256.0l0.0,2.8M1366.3,265.3l-3.5,0.3M1356.5,264.7l-0.0,-3.3M1355.1,243.5l3.3,-1.6M1755.5,501.0l2.0,0.2M1404.5,512.9l3.3,1.8M1416.0,528.8l2.3,2.3M1377.9,472.6l-2.5,-1.9M1364.3,465.5l-1.8,-3.5M1442.9,602.1l2.8,0.1M1451.4,605.6l1.3,1.1M1454.2,607.9l-0.8,0.9M1563.1,394.9l-1.7,0.9M1552.1,392.6l0.8,-1.7M1654.2,536.2l-2.8,3.1M1649.2,541.6l0.2,2.4M1666.0,552.3l2.2,-0.6M1677.7,556.8l1.0,1.9M1681.1,567.2l2.5,-0.4M1509.0,453.9l-3.1,1.0M1495.7,436.4l-0.2,-2.1M1607.1,644.4l-3.7,1.6M1608.0,626.9l-1.4,-1.6M1593.1,610.8l1.8,-3.2M1596.2,605.4l2.2,-2.2M1402.5,568.8l-1.9,0.9M1392.8,573.3l-2.3,3.1M1390.4,587.6l-0.8,2.6M1389.2,591.8l-0.5,2.0M1382.1,604.1l-2.6,2.3M1780.6,512.4l1.5,1.7M1782.4,514.5l2.5,1.7M1784.1,525.5l-3.2,-1.0M1504.2,347.0l-2.9,0.8M1482.8,339.4l-2.8,2.4M1482.6,347.7l1.2,0.7M1486.9,352.0l1.0,2.1M1494.3,363.1l2.2,0.4M1587.4,617.6l-0.7,-2.0M1586.7,615.3l-0.8,-3.7M1585.8,611.4l-2.1,-2.0M1582.5,608.3l-1.0,-1.2M1677.9,520.8l3.5,-0.6M1682.3,520.0l3.2,-0.6M1691.4,516.7l-0.1,3.0M1692.6,525.1l1.6,1.6M1701.9,529.2l1.3,2.8M1704.7,535.2l3.0,1.1M1709.5,537.0l1.7,2.1M1712.2,542.6l-1.7,0.8M1438.4,383.9l0.6,1.4M1319.9,260.9l-2.3,0.7M1314.4,261.2l-0.3,-2.8M1313.9,256.2l3.6,0.4M1338.5,250.6l3.1,-0.3M1527.0,448.7l-0.5,-1.4M1525.6,442.2l-2.0,-2.4M1522.7,438.7l-0.4,-2.7M1522.8,429.5l-1.0,-1.6M1521.6,419.4l0.2,-3.6M1528.4,410.1l3.8,0.2M1541.2,420.0l-2.5,1.6M1514.8,617.2l1.9,0.8M1450.2,357.8l3.0,-1.9M1452.3,347.1l-2.8,-2.1M1440.6,355.5l-2.0,-2.8M1367.8,361.6l-0.7,-1.9M1363.4,354.5l-2.5,-1.6M1688.6,629.5l-1.4,-0.7M1682.3,624.7l-1.4,0.8M1680.2,625.9l-1.5,0.2M1665.5,622.4l-1.3,0.4M1354.4,445.4l-1.1,2.4M1733.2,568.4l-1.2,3.7M1740.6,585.8l0.9,1.9M1741.4,602.1l-0.1,3.5M1743.5,615.0l1.8,3.5M1746.8,621.4l-1.9,2.7M1564.4,522.4l-1.6,-1.2M1561.3,520.2l-2.5,0.3M1742.7,393.4l1.4,1.5M1744.3,395.2l1.7,-2.4M1552.8,387.3l3.6,-0.4M1561.2,397.6l-1.5,3.9M1558.5,404.1l0.2,1.4M1593.9,569.2l2.7,0.1M1599.5,569.4l1.4,-0.3M1602.0,568.8l-0.1,-1.3M1593.9,563.6l-2.0,1.6M1551.1,337.2l-2.6,-1.4M1548.5,335.8l-0.6,-3.2M1547.6,331.0l-1.0,-2.2M1546.3,328.2l-1.2,-4.0M1489.6,458.2l-1.3,-1.5M1336.2,288.8l2.2,0.7M1347.6,300.2l1.7,1.2M1353.5,303.5l1.5,-3.2M1357.5,294.7l0.9,-1.2M1333.1,613.1l2.5,0.4M1339.2,610.1l0.5,-2.8M1338.8,600.2l-2.3,-0.4M1442.7,660.6l1.5,-0.2M1445.5,660.2l1.4,-1.2M1327.4,768.9l2.6,0.1M1332.8,769.0l2.5,2.9M1460.6,772.5l-1.2,-1.4M1459.0,743.9l3.0,1.7M1465.3,749.3l0.2,1.5M1328.6,666.5l3.1,1.8M1347.1,666.9l-1.1,2.7M1344.8,672.4l0.8,1.5M1388.6,745.6l-1.2,1.5M1390.7,751.8l1.5,2.8M1395.1,765.5l3.0,-0.8M1343.4,615.8l-2.5,-2.4M1340.5,613.0l0.1,-1.5M1468.9,774.2l1.6,-1.4M1316.9,707.5l-0.8,-2.0M1372.2,657.4l-0.6,1.4M1372.2,665.2l0.9,-0.9M1367.9,750.0l-0.7,-2.0M1297.5,660.1l-2.1,-3.5M1294.1,654.5l-0.2,-1.8M1316.4,741.1l-3.3,-0.2M1299.6,736.8l-1.9,-1.9M1295.6,732.8l-2.8,-1.3M1355.0,704.9l-0.8,1.3M1354.2,706.3l1.2,2.7M1331.5,776.4l-1.4,1.7M1308.7,660.9l-0.1,-3.8M1370.4,740.3l1.0,-2.2M1387.3,745.4l-0.2,1.9M1406.7,762.1l1.2,-1.2M1319.7,688.1l1.5,2.4M1322.6,692.9l2.0,2.3M1425.3,658.7l2.5,0.8M1432.5,660.8l-0.2,1.7M1404.0,748.9l3.0,-1.3M1408.3,747.2l1.8,0.0M1411.5,747.2l1.5,-1.3M1413.3,745.6l0.8,-3.0M1414.3,741.7l3.0,-1.7M1423.0,733.5l2.3,-3.2M1404.5,714.8l-0.4,-2.6M1403.8,710.4l-2.0,-0.6M1451.0,750.0l-1.4,0.5M1445.2,758.0l-0.2,3.4M1449.1,732.9l-3.5,0.2M1375.6,640.2l-0.1,2.8M1375.5,643.7l1.0,1.2M1396.6,603.1l2.9,1.6M1384.1,697.6l-1.1,-3.7M1382.0,690.7l-1.9,-1.9M1378.8,687.5l-2.4,-1.3M1376.2,686.1l-1.9,-2.1M1373.5,683.1l0.1,-3.9M1373.7,675.8l2.0,-2.9M1474.8,706.6l0.2,1.8M1483.8,726.3l0.5,2.7M1466.0,758.6l2.0,-2.9M1378.2,743.3l-2.0,1.8M1310.4,762.1l-2.3,1.3M1300.0,764.8l-1.1,-2.0M1297.7,760.4l-0.9,-2.7M1347.1,609.1l-1.5,0.8M1337.2,608.9l-2.8,1.4M1328.4,611.0l-2.2,-2.3M1434.0,724.2l-1.0,-2.4M1461.3,663.5l3.2,1.9M1465.4,665.9l-0.1,3.1M1469.1,678.8l0.9,3.0M1348.5,621.7l-0.1,2.8M1342.5,631.4l-1.5,0.6M1335.7,638.9l-1.9,-1.1M1407.4,641.6l-3.7,1.1M1444.8,729.2l3.1,-1.6M1450.7,726.2l1.2,0.7M1364.9,777.7l2.2,-0.0M1369.5,777.6l2.9,2.5M1407.3,735.6l-2.6,-2.6" fill="none" stroke="#86d0ee" stroke-width="1.4" opacity="0.6"/>
<path d="M1456.9,287.3l3.9,0.9M1438.0,278.6l2.1,-0.4M1746.3,678.6l0.9,1.2M1766.1,676.1l1.8,0.6M1779.8,676.3l0.5,2.6M1782.7,687.5l1.4,1.2M1790.8,565.7l1.8,2.6M1800.9,580.2l-1.2,1.0M1798.7,582.3l-1.8,2.2M1585.0,451.5l1.1,0.7M1641.1,688.2l0.9,3.4M1727.7,647.3l3.6,-0.2M1738.2,648.1l0.5,2.8M1739.2,653.3l3.4,0.2M1744.5,650.4l1.7,3.6M1746.5,654.5l-0.1,2.3M1641.6,404.8l0.1,-2.3M1647.6,397.6l0.9,-1.7M1658.2,394.2l1.4,1.5M1663.3,405.9l1.7,0.9M1675.9,405.7l2.2,-0.5M1519.6,591.1l1.7,0.5M1596.8,662.3l1.3,1.8M1555.4,356.9l-0.5,-3.8M1420.6,432.8l2.4,-0.5M1707.0,452.3l1.1,1.4M1564.2,535.9l-2.5,1.1M1546.8,534.4l-1.7,-1.2M1535.2,530.9l-1.1,-2.8M1674.8,334.2l2.7,0.3M1417.7,488.3l-4.1,-0.8M1405.4,291.6l-2.1,0.0M1402.0,291.6l-1.8,0.5M1398.9,292.4l-1.3,-0.2M1390.8,281.7l3.7,0.5M1446.5,553.5l-1.7,1.5M1426.9,566.7l-0.2,2.3M1449.0,558.5l3.8,1.0M1456.5,543.0l-2.3,2.5M1449.8,550.4l2.4,-0.1M1652.0,512.7l2.2,0.5M1648.5,338.2l0.0,-1.7M1647.6,324.5l-1.7,-3.7M1312.5,389.3l1.4,-1.6M1318.9,382.3l-1.4,-0.1M1313.2,383.9l-0.6,4.1M1309.8,397.0l0.6,1.5M1311.0,400.0l3.7,1.4M1661.5,436.9l-0.9,-1.5M1456.6,623.6l0.1,2.9M1457.8,637.1l-2.4,1.2M1757.3,408.8l-1.2,-2.6M1755.4,404.6l-2.7,-1.2M1456.1,561.1l-0.1,-1.4M1450.7,554.4l-3.2,-1.8M1446.5,552.1l-0.4,-1.3M1349.8,424.5l-0.4,-2.3M1744.3,631.7l-2.5,-2.0M1737.2,629.0l-1.1,-1.5M1766.9,616.4l-1.3,-1.0M1752.6,625.4l-2.6,0.5M1599.0,607.8l-0.2,2.0M1645.1,602.6l0.4,-2.6M1645.6,599.5l3.1,-1.7M1475.2,391.8l-0.2,2.5M1475.0,395.9l0.5,2.1M1596.4,487.5l-0.6,2.8M1592.4,500.9l2.4,1.6M1472.5,425.8l0.2,3.2M1760.4,578.1l-1.0,-2.1M1766.0,566.3l1.1,0.8M1458.8,320.0l0.7,-1.8M1736.3,702.0l1.9,0.8M1651.7,598.4l-0.1,-1.5M1651.5,595.5l-0.8,-1.3M1650.0,593.2l-1.9,-0.5M1520.5,682.3l-1.7,2.3M1647.0,361.6l3.2,-0.9M1726.0,560.6l1.3,0.2M1720.3,457.2l0.1,-2.6M1708.6,443.8l-2.6,2.3M1704.2,447.7l-0.7,1.2M1731.2,366.1l3.0,-0.9M1738.1,365.5l-1.4,-3.0M1722.5,349.8l1.8,1.5M1738.2,668.4l-0.2,1.4M1399.4,253.3l1.4,1.4M1541.2,706.3l0.1,2.4M1556.5,731.1l0.8,3.1M1438.0,565.5l-1.2,-0.1M1457.0,535.0l1.0,2.3M1467.4,536.0l-0.8,-1.4M1353.7,306.5l-2.1,-3.0M1333.3,313.4l-1.8,3.3M1748.8,665.0l0.3,2.9M1792.3,576.0l-1.5,2.2M1387.4,301.6l-2.7,-2.2M1526.8,633.4l1.4,-3.3M1535.4,636.3l-1.7,0.8M1775.0,669.8l0.9,1.6M1793.5,677.0l1.5,-0.3M1639.1,406.2l-1.2,1.0M1629.6,415.6l-0.9,3.6M1624.3,431.7l-1.3,0.4M1347.8,385.4l1.8,-3.7M1371.2,348.7l1.5,-2.0M1646.6,541.7l3.5,-0.8M1657.3,540.5l1.6,-1.3M1669.4,536.0l0.1,-3.0M1661.3,526.6l-1.0,0.9M1540.7,395.9l3.2,-1.6M1541.0,377.9l-1.5,1.0M1539.4,379.0l-3.1,2.7M1399.0,243.3l-0.6,1.2M1530.9,449.7l-0.7,3.3M1546.2,462.0l1.5,-0.2M1544.9,450.4l0.1,-2.5M1568.9,538.9l0.5,1.6M1573.3,550.8l0.8,1.6M1377.5,503.6l-2.1,1.2M1639.0,376.6l1.0,2.3M1559.5,421.5l3.6,-1.8M1566.5,418.0l3.8,-0.6M1456.9,552.8l-0.2,4.0M1469.4,564.5l-0.2,-3.2M1603.5,469.2l1.3,3.9M1401.8,549.2l-0.5,-2.5M1386.6,549.1l-3.4,0.1M1453.7,554.1l3.2,2.4M1569.1,370.1l-0.7,1.9M1401.3,263.0l1.4,-2.0M1406.0,260.8l2.0,-1.3M1807.2,561.0l-2.6,-1.8M1807.2,549.1l4.0,0.5M1812.9,549.8l-0.9,-1.5M1627.3,705.0l-0.3,-1.8M1648.4,694.1l1.3,-0.1M1355.9,315.8l-2.6,-1.1M1568.9,665.3l-2.5,-0.3M1555.2,676.9l1.0,1.9M1740.7,437.3l1.7,-1.0M1742.4,436.2l2.7,1.0M1751.0,441.7l-0.3,1.9M1747.4,464.8l-1.9,-1.1M1382.7,261.5l0.9,2.1M1386.5,268.5l-0.4,1.4M1378.7,285.7l-1.6,3.7M1370.3,285.6l0.3,-1.2M1370.9,283.4l1.6,-1.4M1542.0,610.3l-1.5,2.6M1404.5,352.9l0.2,-1.7M1404.5,348.3l-1.6,-1.4M1400.5,343.6l-3.2,-2.2M1395.6,340.2l-2.9,-0.9M1592.8,677.8l3.0,-1.4M1553.4,528.5l1.3,-2.7M1535.4,566.9l2.0,3.4M1538.7,572.4l0.9,2.4M1343.2,440.7l1.0,-3.5M1346.0,433.2l-1.9,0.1M1336.8,435.3l0.3,1.2M1590.4,324.0l-2.6,-2.1M1580.6,656.0l-2.6,-1.6M1553.8,556.0l0.0,-3.6M1556.2,541.1l2.0,-1.1M1567.4,537.3l2.1,-2.6M1570.4,530.4l-1.5,-3.7M1501.0,630.4l3.3,-0.2M1523.8,613.6l3.0,-2.2M1529.5,609.4l2.5,-0.4M1708.6,634.1l1.6,1.3M1720.5,643.7l1.1,0.7M1722.3,644.8l3.9,-1.0M1683.8,539.0l-2.4,0.5M1678.3,543.8l-3.2,0.7M1667.9,544.0l-1.3,-3.4M1665.3,537.3l-1.6,-3.2M1662.5,531.7l-1.6,-1.0M1514.6,306.7l1.5,0.9M1443.0,293.1l2.0,3.1M1445.0,296.3l0.9,2.4M1367.2,444.3l0.6,-1.7M1368.4,436.2l-2.2,-3.2M1361.5,437.4l-2.9,1.6M1740.5,474.6l2.6,2.9M1748.5,480.2l-0.2,-3.8M1748.2,475.7l-1.6,-3.8M1746.1,466.5l-0.4,-3.6M1379.1,339.0l-3.3,0.8M1742.8,645.9l2.3,-0.6M1759.8,638.7l1.1,-0.6M1591.2,646.9l-0.4,1.5M1607.8,666.3l3.8,1.6M1790.9,670.4l2.8,-1.9M1800.8,678.9l-3.6,0.6M1794.2,679.4l-1.2,-0.1M1776.6,681.3l-3.5,0.7M1295.7,331.7l0.9,2.4M1297.0,337.4l1.1,2.9M1292.6,336.0l-3.1,-1.2M1409.0,343.1l-0.1,-1.4M1566.6,702.4l-1.8,2.6M1575.9,699.9l-1.7,3.0M1568.8,710.2l-1.7,2.5M1577.0,632.4l1.3,-1.3M1788.5,531.8l-2.2,-3.2M1779.6,521.9l-0.9,-1.7M1567.8,653.8l-0.5,1.4M1321.2,286.5l1.0,1.5M1680.5,432.7l-2.1,-3.5M1678.2,428.8l-0.3,-4.0M1761.2,515.0l-0.7,-4.1M1354.5,301.0l3.7,0.5M1374.8,304.9l3.7,-0.5M1739.8,440.5l1.6,1.8M1476.1,576.6l-1.9,1.6M1473.4,579.0l-3.2,-0.1M1761.6,585.0l-2.1,0.3M1478.1,379.0l1.0,1.0M1479.3,386.2l1.2,3.3M1481.8,393.4l-0.5,3.4M1481.2,397.7l-0.2,3.7M1478.6,406.8l-1.9,0.5M1512.5,307.6l1.2,-0.6M1724.3,670.7l0.7,1.9M1725.4,673.5l1.0,2.2M1727.2,677.3l2.5,1.6M1742.5,675.3l-0.9,2.6M1734.9,687.7l-0.9,2.1M1733.5,694.2l0.7,1.3M1465.8,394.4l1.5,-3.5M1712.0,450.2l0.1,-2.2M1639.1,609.4l-0.6,-1.5M1633.6,605.5l-0.5,-1.2M1715.5,470.5l0.3,1.2M1733.4,482.7l1.4,2.2M1752.5,497.0l-0.2,3.0M1685.0,452.6l-1.3,1.5M1502.5,423.5l0.6,-1.6M1501.4,413.9l0.6,-3.7M1495.2,394.5l-1.5,1.5M1766.9,504.9l-0.4,-2.5M1603.1,342.3l0.8,4.0M1604.2,348.4l3.1,2.8M1636.0,370.7l2.7,-1.1M1647.9,633.1l-2.1,3.2M1463.2,618.5l-0.4,2.8M1462.5,622.8l0.7,3.0M1714.9,627.0l-1.7,-3.2M1712.1,621.7l0.4,-1.3M1621.6,681.2l-0.5,1.2M1442.0,290.1l-2.2,0.3M1532.5,565.7l2.1,-1.0M1544.3,561.1l3.0,1.0M1547.7,565.7l-0.9,2.4M1790.1,678.2l-0.7,2.2M1789.4,680.4l1.6,0.5M1791.9,687.1l-1.2,-0.1M1593.7,441.9l2.0,0.9M1606.2,443.8l2.7,3.2M1433.9,289.7l-1.8,1.2M1436.8,292.2l-0.5,3.6M1428.1,561.3l-3.9,-1.4M1416.7,554.7l-0.4,-2.0M1415.9,550.6l3.2,1.2M1720.1,404.8l-1.9,-2.1M1372.4,302.9l-0.7,1.9M1368.7,309.3l0.6,1.7M1362.9,339.5l-3.7,0.5M1352.7,341.3l-2.1,-0.6M1348.9,340.2l-3.9,1.5M1497.4,468.9l0.5,-3.7M1746.8,565.7l-2.2,-1.7M1312.6,410.6l1.6,0.1M1322.1,423.9l2.7,0.3M1328.2,426.3l0.4,2.9M1620.5,626.7l-1.3,-1.7M1658.5,345.8l3.0,-0.1M1662.7,345.7l3.7,-1.6M1680.7,335.4l-0.7,-1.1M1377.8,382.9l-2.5,-2.4M1314.7,326.6l-1.5,3.8M1308.0,328.6l-0.5,-3.2M1497.7,327.9l-0.8,-1.0M1642.7,388.4l-1.2,-1.8M1783.2,651.1l1.6,-2.8M1733.7,622.1l1.3,2.1M1652.9,577.9l1.3,-0.3M1655.4,556.2l-2.2,-0.7M1518.7,510.2l-0.4,2.9M1657.0,632.0l-2.3,-1.1M1474.2,316.2l2.9,1.5M1373.8,244.8l1.7,-0.2M1377.9,245.4l3.1,2.8M1575.1,358.5l2.5,-0.8M1625.4,550.0l-1.4,1.6M1659.9,601.3l0.6,-1.5M1665.6,597.4l1.4,-2.4M1343.0,404.7l-0.7,3.4M1340.6,438.9l0.4,2.2M1352.5,471.3l1.5,0.4M1354.3,471.8l1.1,1.2M1301.5,431.3l0.8,2.2M1545.5,427.1l-0.4,-3.4M1548.5,405.2l0.5,-1.1M1552.4,400.4l1.3,0.3M1649.5,411.7l-1.4,1.4M1644.7,418.8l-2.2,3.1M1642.1,422.4l-0.6,1.1M1431.3,320.0l-1.0,-1.5M1481.6,653.8l1.0,-4.0M1483.5,646.5l1.2,-3.4M1668.9,683.4l-0.2,3.6M1346.7,258.8l-1.0,1.0M1344.6,261.0l-1.0,1.5M1325.5,272.6l3.3,-1.4M1511.2,681.3l-1.2,1.7M1501.6,688.0l-2.9,1.0M1464.5,342.1l3.6,0.2M1565.2,545.2l-2.7,0.1M1464.4,346.3l0.2,2.7M1463.1,357.0l1.1,-0.4M1568.3,655.5l-1.5,-0.8M1565.3,654.0l-0.4,-1.6M1565.3,650.5l2.1,-2.7M1482.4,479.6l-1.1,1.9M1473.5,476.4l-2.0,-2.3M1682.2,551.3l-0.9,-0.9M1541.0,678.5l-1.3,0.2M1534.4,678.7l-2.4,-2.5M1528.2,671.8l-0.2,-3.9M1436.6,307.5l-0.2,2.8M1427.9,327.6l-2.6,1.9M1553.4,594.3l-2.6,1.8M1369.6,435.5l2.8,-0.7M1375.7,434.0l3.3,1.1M1448.3,456.3l-2.1,1.4M1444.4,458.9l-3.0,0.7M1687.3,638.1l-3.8,-0.5M1655.8,425.9l-0.4,2.2M1413.8,398.7l0.9,1.1M1407.8,416.5l-2.0,-3.0M1402.7,410.2l-0.9,-2.1M1507.6,321.1l-1.6,1.6M1495.2,434.5l2.2,1.9M1635.4,547.1l-2.2,0.2M1628.4,545.0l-3.9,1.1M1572.9,434.5l-2.5,1.0M1557.1,443.3l-2.9,2.5M1670.9,687.2l-1.9,-1.4M1660.7,684.7l-1.9,0.9M1651.4,694.5l4.1,0.1M1737.8,401.5l2.2,1.2M1741.0,403.3l0.7,2.3M1742.1,407.1l-1.3,0.7M1531.2,466.2l-2.7,-3.0M1435.8,476.4l-2.5,-1.0M1415.4,475.5l-1.1,0.9M1377.9,464.3l-0.8,1.0M1371.5,253.6l-1.3,2.1M1370.2,260.7l-0.6,1.6M1353.5,251.0l-0.4,-3.7M1766.3,502.4l3.4,-0.0M1416.3,527.2l-0.3,1.4M1420.2,533.0l1.1,1.4M1646.9,505.8l2.2,-1.5M1660.6,492.0l3.1,-1.4M1384.0,474.8l-3.5,-1.2M1374.7,470.2l-1.7,-1.3M1372.8,468.8l-2.8,-0.2M1558.8,391.6l2.0,1.6M1560.4,396.4l-1.2,0.9M1553.4,389.7l1.8,-3.3M1649.6,546.2l1.9,1.1M1651.6,547.4l2.1,0.6M1654.4,548.2l2.9,1.6M1683.8,566.7l2.1,-0.7M1516.4,448.9l-2.0,1.8M1512.6,452.4l-3.1,1.3M1499.1,457.3l-1.6,-1.0M1497.5,456.3l-1.1,-3.3M1611.1,630.5l-1.5,-1.7M1596.8,621.0l-1.2,-2.9M1387.6,585.2l1.3,1.2M1388.6,594.1l-3.1,1.9M1384.1,596.9l-0.9,3.3M1787.1,517.6l0.8,2.4M1787.0,524.2l-1.6,0.7M1772.1,525.8l-1.4,1.0M1481.3,344.9l0.9,1.8M1488.3,357.8l2.8,2.4M1712.5,540.7l-0.3,1.6M1514.7,428.4l-0.3,3.9M1438.9,387.6l0.7,2.2M1325.8,251.1l3.1,-1.4M1335.3,248.5l2.7,1.8M1346.7,249.9l3.7,0.8M1540.4,418.8l0.7,1.0M1440.6,357.3l-0.1,-1.7M1687.2,628.8l-0.5,-1.2M1661.0,623.5l-0.7,1.3M1356.1,459.0l-2.1,2.1M1731.1,574.6l1.1,3.0M1741.4,606.1l0.9,2.8M1555.0,525.7l-1.1,2.6M1590.6,561.2l1.0,3.4M1601.8,567.1l-1.8,-1.6M1561.2,353.5l0.9,-2.8M1563.1,347.4l0.2,-3.4M1488.9,460.6l0.3,-1.2M1344.8,297.6l1.3,1.2M1350.0,301.9l2.7,1.2M1358.5,293.4l2.8,-2.3M1318.6,776.0l3.0,-2.1M1460.0,764.8l3.8,-0.9M1466.2,763.3l2.3,1.4M1334.4,669.9l3.5,0.7M1341.5,667.7l3.5,-0.5M1376.8,760.0l-1.7,0.7M1315.6,704.3l-1.7,-1.7M1376.4,655.4l-2.0,1.0M1320.0,743.6l-2.4,-1.6M1302.4,737.1l-2.1,-0.3M1355.7,712.8l-2.5,2.0M1323.4,780.8l-1.1,3.3M1322.0,785.2l-0.7,1.9M1308.5,652.7l0.7,-2.9M1372.9,736.6l1.8,0.6M1375.6,737.4l3.8,1.6M1383.3,740.6l2.4,2.8M1408.1,760.7l3.8,-1.8M1476.5,704.0l1.6,0.2M1302.1,620.3l-3.2,-0.0M1322.5,696.3l1.7,-2.9M1444.3,724.3l1.0,2.3M1394.5,603.4l1.6,-3.2M1479.5,715.8l-0.2,1.2M1481.5,719.8l1.2,3.3M1470.8,750.5l-1.2,-2.9M1466.1,676.1l1.9,1.8M1405.0,630.0l0.1,1.7M1408.6,641.2l-1.2,0.4M1437.8,728.1l2.4,1.4M1362.7,773.8l1.1,2.1M1404.5,732.9l-0.7,-2.2M1403.3,729.4l0.1,-3.5" fill="none" stroke="#86d0ee" stroke-width="2.0" opacity="0.6"/>
<polyline points="1167.5,330 1200,350 1225,360" fill="none" stroke="#b9d9a0" stroke-width="0.9" stroke-dasharray="5 2 1 2" opacity="0.8"/>
<polyline points="1200,350 1187.5,392.5 1175,435 1185,480 1187.5,555 1195,592.5 1200,590 1220,627.5 1260,665 1275,705 1312.5,740 1347.5,792.5" fill="none" stroke="#b9d9a0" stroke-width="0.9" stroke-dasharray="5 2 1 2" opacity="0.8"/>
<polyline points="1282.5,442.5 1260,485 1240,525 1195,580" fill="none" stroke="#b9d9a0" stroke-width="0.9" stroke-dasharray="5 2 1 2" opacity="0.8"/>
<polyline points="1397.5,230 1397.5,260 1387.5,295 1385,320" fill="none" stroke="#b9d9a0" stroke-width="0.9" stroke-dasharray="5 2 1 2" opacity="0.8"/>
<polyline points="1142.5,583.8 1165,583.8" fill="none" stroke="#b9d9a0" stroke-width="0.9" stroke-dasharray="5 2 1 2" opacity="0.8"/>
<polyline points="1260,242.5 1275,250 1295,260" fill="none" stroke="#b9d9a0" stroke-width="0.9" stroke-dasharray="5 2 1 2" opacity="0.8"/></g>
<polygon points="1697.5,332.5 1700,341.7 1696.7,353.3 1694.2,363.3 1695,376.7 1696.7,386.7 1695.8,393.3 1700,391.7 1701.7,395 1696.7,398.3 1697.5,406.7 1686.7,410 1683.3,410.8 1683.3,416.7 1678.3,417.5 1677.5,413.3 1673.3,412.5 1668.3,416.7 1666.7,420 1660.8,423.3 1660,416.7 1646.7,418.3 1646.7,431.7 1640,435 1631.7,438.3 1626.7,443.3 1620,444.2 1620,450 1626.7,448.3 1617.5,460 1613.3,466.7 1613.3,470 1600.8,472.5 1600.8,480 1595.8,485 1595.8,490 1589.2,483.3 1586.7,490 1585.8,500 1587.5,500 1593.3,506.7 1590,515 1581.7,516.7 1581.7,521.7 1601.7,524.2 1607.5,525.8 1626.7,556.7 1636.7,621.7 1623.3,626.7 1621.7,631.7 1630,640 1645,645 1703.3,650 1720,646.7 1733.3,656.7 1728.3,670 1730,700 1850,700 1850,320 1697,320" fill="#90c671"/>
<polygon points="1556,686 1640,686 1640,640 1850,640 1850,900 1630,900 1630,795 1556,795" fill="#90c671"/>
<polygon points="1423.8,382.5 1428.8,382.5 1428.8,391.2 1438.8,391.2 1438.8,400 1425,400 1425,395 1420,395 1420,387.5 1423.8,387.5" fill="#90c671"/>
<polygon points="1253,752.5 1258,752.5 1258,761.2 1276.2,762.5 1276.2,781.2 1258,781.2 1258,802.5 1253,802.5" fill="#90c671"/>
<polygon points="1743.3,640 1755,640 1764.2,646.7 1780,648.3 1780,654.2 1756.7,654.2 1743.3,656.7" fill="#90c671"/>
<polygon points="1783.3,671.7 1791.7,671.7 1791.7,681.7 1783.3,681.7" fill="#90c671"/>
<polygon points="1778.3,690.8 1796.7,690.8 1796.7,696.7 1778.3,696.7" fill="#90c671"/>
<polygon points="1547.5,780 1557.5,780 1560,792.5 1550,793" fill="#90c671"/>
<polygon points="1145.1,690.9 1153.8,690.9 1153.8,701.5 1148.7,704.3 1145.1,704.3" fill="#90c671"/>
<polygon points="1177.8,697.2 1187.2,695.6 1187.2,705.1 1200.6,703.5 1200.6,708.2 1177.8,708.2" fill="#90c671"/>
<polygon points="1200.6,706.6 1205.7,706.6 1205.7,725.5 1200.6,725.5" fill="#90c671"/>
<polygon points="1219.9,687.8 1233.6,687.4 1233.6,705.5 1219.9,706.3" fill="#90c671"/>
<polygon points="1229.7,711.4 1238.3,711.4 1238.3,720 1238.7,725.5 1220.3,725.5 1220.3,720 1225,720 1225,715.3 1229.7,715.3" fill="#90c671"/>
<polygon points="1701.7,425.8 1706.7,425 1708.3,429.2 1713.3,428.3 1715.8,425 1720,424.2 1724.2,420 1726.7,416.7 1733.3,418.3 1739.2,420 1740,423.3 1748.3,424.2 1751.7,428.3 1751.7,431.7 1755.8,430.8 1761.7,428.3 1767.5,430.8 1770.8,435 1767.5,441.7 1765.8,451.7 1763.3,455.8 1754.2,455.8 1753.3,451.7 1750.8,450 1751.7,436.7 1743.3,436.7 1736.7,435 1730.8,435 1730,441.7 1724.2,443.3 1724.2,461.7 1726.7,465 1730,468.3 1739.2,469.2 1739.2,480 1733.3,482.5 1730,486.7 1726.7,493.3 1720,491.7 1713.3,491.7 1715,486.7 1718.3,480 1717.5,470 1715.8,465 1713.3,453.3 1717.5,450 1718.3,436.7 1715.8,433.3 1710,435 1706.7,439.2 1705,433.3 1702.5,430" fill="#fef8e0"/>
<polygon points="1716.7,393.3 1720.8,395 1722.5,403.3 1725,413.3 1724.2,420 1720,423.3 1721.7,415 1720,406.7 1717.5,398.3" fill="#fef8e0"/>
<polygon points="1745,488.3 1760,485 1771.7,484.2 1774.2,476.7 1773.3,470 1776.7,476.7 1780,480.8 1783.3,486.7 1793.3,486.7 1800,485 1808.3,487.5 1813.3,489.2 1816.7,491.7 1820.8,492.5 1826.7,500 1760,500 1756.7,492.5 1746.7,491.7" fill="#fef8e0"/>
<polygon points="1760,490 1760,515 1770,513.3 1771.7,521.7 1767.5,531.7 1780,538.3 1781.7,545 1776.7,556.7 1770,568.3 1766.7,575 1755,581.7 1760,586.7 1766.7,590 1766.7,594.2 1760,595 1741.7,593.3 1733.3,596.7 1728.3,605 1724.2,610 1726.7,616.7 1728.3,628.3 1726.7,635 1720,643.3 1726.7,650 1733.3,656.7 1743.3,656.7 1743.3,640 1755,640 1764.2,646.7 1780,648.3 1780,654.2 1781.7,670 1780.8,670 1778.3,681.7 1773.3,688.3 1770.8,698.3 1775,705 1793.3,708.3 1805,705 1805.8,695.8 1813.3,693.3 1830,691.7 1830,670 1830,490" fill="#fef8e0"/>
<polygon points="1679.2,517.5 1689.2,516.7 1689.2,523.3 1680,524.2" fill="#fef8e0"/>
<polygon points="1739.2,520.8 1750,519.2 1754.2,530 1748.3,531.7 1748.3,538.3 1762.5,536.7 1762.5,545 1756.7,556.7 1743.3,558.3 1741.7,550 1736.7,548.3 1737.5,541.7 1743.3,538.3 1740,530" fill="#fef8e0"/>
<polygon points="1670.8,525 1678.3,525.8 1678.3,543.3 1671.7,543.3" fill="#fef8e0"/>
<polygon points="1716.7,580.8 1724.2,581.7 1724.2,590 1720,596.7 1714.2,598.3 1715,591.7" fill="#fef8e0"/>
<polygon points="1690,582.5 1694.2,583.3 1693.3,590 1690,589.2" fill="#fef8e0"/>
<polygon points="1704.2,630 1715,629.2 1720,636.7 1715,643.3 1706.7,646.7 1703.3,640" fill="#fef8e0"/>
<polygon points="1673.3,571.7 1680,573.3 1680,585 1675,588.3 1671.7,583.3" fill="#fef8e0"/>
<polygon points="1746.7,498.3 1750.8,498.3 1750.8,504.2 1746.7,504.2" fill="#fef8e0"/>
<polygon points="1735,508.3 1740.8,508.3 1740.8,515 1735,515" fill="#fef8e0"/>
<polygon points="1555,751.7 1576.7,753.3 1581.7,760 1593.3,761.7 1595,768.3 1610,770 1623.3,776.7 1630,776.7 1635,786.7 1638.3,793.3 1555,793.3" fill="#fef8e0"/>
<polygon points="1617.5,750.8 1625,751.7 1625,766.7 1620,760" fill="#fef8e0"/>
<polygon points="1650,761.7 1653.3,761.7 1654.2,775 1650,770" fill="#fef8e0"/>
<polygon points="1703.3,628.3 1715,628.3 1716.7,636.7 1710,646.7 1705,645 1703.3,636.7" fill="#fef8e0"/>
<polygon points="1765,822.5 1772.5,821.9 1773.1,828.1 1765.6,828.1" fill="#fef8e0"/>
<polygon points="1643.3,543.3 1653.3,548.3 1656.7,561.7 1660,563.3 1660,580 1653.3,581.7 1650,583.3 1646.7,573.3 1643.3,556.7" fill="#fef8e0"/>
<clipPath id="crc"><polygon points="1701.7,425.8 1706.7,425 1708.3,429.2 1713.3,428.3 1715.8,425 1720,424.2 1724.2,420 1726.7,416.7 1733.3,418.3 1739.2,420 1740,423.3 1748.3,424.2 1751.7,428.3 1751.7,431.7 1755.8,430.8 1761.7,428.3 1767.5,430.8 1770.8,435 1767.5,441.7 1765.8,451.7 1763.3,455.8 1754.2,455.8 1753.3,451.7 1750.8,450 1751.7,436.7 1743.3,436.7 1736.7,435 1730.8,435 1730,441.7 1724.2,443.3 1724.2,461.7 1726.7,465 1730,468.3 1739.2,469.2 1739.2,480 1733.3,482.5 1730,486.7 1726.7,493.3 1720,491.7 1713.3,491.7 1715,486.7 1718.3,480 1717.5,470 1715.8,465 1713.3,453.3 1717.5,450 1718.3,436.7 1715.8,433.3 1710,435 1706.7,439.2 1705,433.3 1702.5,430"/><polygon points="1716.7,393.3 1720.8,395 1722.5,403.3 1725,413.3 1724.2,420 1720,423.3 1721.7,415 1720,406.7 1717.5,398.3"/><polygon points="1745,488.3 1760,485 1771.7,484.2 1774.2,476.7 1773.3,470 1776.7,476.7 1780,480.8 1783.3,486.7 1793.3,486.7 1800,485 1808.3,487.5 1813.3,489.2 1816.7,491.7 1820.8,492.5 1826.7,500 1760,500 1756.7,492.5 1746.7,491.7"/><polygon points="1760,490 1760,515 1770,513.3 1771.7,521.7 1767.5,531.7 1780,538.3 1781.7,545 1776.7,556.7 1770,568.3 1766.7,575 1755,581.7 1760,586.7 1766.7,590 1766.7,594.2 1760,595 1741.7,593.3 1733.3,596.7 1728.3,605 1724.2,610 1726.7,616.7 1728.3,628.3 1726.7,635 1720,643.3 1726.7,650 1733.3,656.7 1743.3,656.7 1743.3,640 1755,640 1764.2,646.7 1780,648.3 1780,654.2 1781.7,670 1780.8,670 1778.3,681.7 1773.3,688.3 1770.8,698.3 1775,705 1793.3,708.3 1805,705 1805.8,695.8 1813.3,693.3 1830,691.7 1830,670 1830,490"/><polygon points="1679.2,517.5 1689.2,516.7 1689.2,523.3 1680,524.2"/><polygon points="1739.2,520.8 1750,519.2 1754.2,530 1748.3,531.7 1748.3,538.3 1762.5,536.7 1762.5,545 1756.7,556.7 1743.3,558.3 1741.7,550 1736.7,548.3 1737.5,541.7 1743.3,538.3 1740,530"/><polygon points="1670.8,525 1678.3,525.8 1678.3,543.3 1671.7,543.3"/><polygon points="1716.7,580.8 1724.2,581.7 1724.2,590 1720,596.7 1714.2,598.3 1715,591.7"/><polygon points="1690,582.5 1694.2,583.3 1693.3,590 1690,589.2"/><polygon points="1704.2,630 1715,629.2 1720,636.7 1715,643.3 1706.7,646.7 1703.3,640"/><polygon points="1673.3,571.7 1680,573.3 1680,585 1675,588.3 1671.7,583.3"/><polygon points="1746.7,498.3 1750.8,498.3 1750.8,504.2 1746.7,504.2"/><polygon points="1735,508.3 1740.8,508.3 1740.8,515 1735,515"/><polygon points="1555,751.7 1576.7,753.3 1581.7,760 1593.3,761.7 1595,768.3 1610,770 1623.3,776.7 1630,776.7 1635,786.7 1638.3,793.3 1555,793.3"/><polygon points="1617.5,750.8 1625,751.7 1625,766.7 1620,760"/><polygon points="1650,761.7 1653.3,761.7 1654.2,775 1650,770"/><polygon points="1703.3,628.3 1715,628.3 1716.7,636.7 1710,646.7 1705,645 1703.3,636.7"/><polygon points="1765,822.5 1772.5,821.9 1773.1,828.1 1765.6,828.1"/><polygon points="1643.3,543.3 1653.3,548.3 1656.7,561.7 1660,563.3 1660,580 1653.3,581.7 1650,583.3 1646.7,573.3 1643.3,556.7"/></clipPath>
<use href="#sp" clip-path="url(#crc)"/>
<polygon points="1220.8,236.7 1233.3,234.7 1240,230 1248.3,222.5 1249.2,225.8 1246.7,251.7 1235,261.7 1233.3,268.3 1238.3,276.7 1235,290 1228.3,296.7 1221.7,305 1213.3,300 1208.3,296.7 1207.5,288.3 1205.8,280 1206.7,273.3 1219.2,272.5 1219.2,264.2 1223.3,263.3 1222.5,240" fill="#5b9a42"/>
<polygon points="1198.3,314.2 1203.3,310 1212.5,309.2 1212.5,315 1206.7,320 1199.2,319.2" fill="#5b9a42"/>
<polygon points="1173.7,315 1176.7,311.7 1180,314.2 1184.2,319.2 1189.2,320 1189.2,324.2 1180,324.2 1175,321.7" fill="#5b9a42"/>
<polygon points="1140.8,354.2 1151.7,353.7 1151.7,357.5 1141.7,357.5" fill="#5b9a42"/>
<polygon points="1310,205 1317.5,206.2 1326.2,205 1332.5,208.8 1333.8,219.5 1328.8,219.5 1320,212.5 1312.5,208.8" fill="#5b9a42"/>
<polygon points="1346.2,219.5 1353.8,215.5 1360,219.2 1358.8,222.5 1346.2,222.5" fill="#5b9a42"/>
<polygon points="1362.5,221.2 1368.8,215 1375,216.8 1380.5,220 1380.5,231.2 1365.5,231.2 1365.5,226.2 1362.5,226.2" fill="#5b9a42"/>
<polygon points="1398.8,228.8 1408.8,228 1413.8,234.2 1416.2,240.5 1415.5,248.8 1403.8,249.5 1403,236.2 1400,232.5" fill="#5b9a42"/>
<polygon points="1305.5,270 1337.5,269.5 1337.5,279.5 1328.8,280 1328.8,288.8 1320,289.5 1319.5,295 1305,298.8 1301.2,298 1301.2,287.5 1305.5,282.5" fill="#5b9a42"/>
<polygon points="1423,272 1432.5,274.2 1431.2,277.5 1423,277.5" fill="#5b9a42"/>
<polygon points="1497.5,282.5 1502.5,288 1508.8,294.2 1506.2,295 1500,290" fill="#5b9a42"/>
<polygon points="1516.2,296.8 1521.2,296.8 1522.5,305 1531.2,306.2 1532,313.8 1525,312.5 1520,303.8" fill="#5b9a42"/>
<polygon points="1536.2,316.2 1550,320.5 1557.5,325.5 1566.2,326.8 1565,335 1555,335 1551.2,330 1550,335.5 1545,335 1543.8,330 1536.2,329.5" fill="#5b9a42"/>
<polygon points="1403.8,230 1410,230 1415,242.5 1413.8,248.8 1403.8,248.8" fill="#5b9a42"/>
<polygon points="1626.2,324.5 1632.5,324.5 1632.5,330 1635.5,331.2 1635.5,335.5 1621.2,335.5 1622.5,331.2 1626.2,330" fill="#5b9a42"/>
<polygon points="1713.8,335 1727.5,335 1728,340 1715,340" fill="#5b9a42"/>
<polygon points="1262.5,346.2 1267,346.2 1267,370 1260,370 1260,365 1254.5,365 1254.5,356.2 1262.5,356.2" fill="#5b9a42"/>
<polygon points="1346.2,413.8 1367.5,416.2 1367.5,421.2 1382.5,422.5 1395,430 1400,437.5 1406.2,440 1406.2,447.5 1422.5,447.5 1422.5,461.2 1406.2,461.2 1406.2,452.5 1398.8,450 1403.8,460 1406.2,472.5 1408.8,485 1406.2,488.8 1387.5,490 1387.5,496.2 1375,496.2 1370,495 1362.5,493.8 1355,490 1351.2,480 1350,470 1352.5,457.5 1350,452.5 1340,452.5 1340,440 1352.5,438.8 1353.8,426.2 1346.2,425" fill="#5b9a42"/>
<polygon points="1445,470 1457.5,470 1473.8,487.5 1445,487.5" fill="#5b9a42"/>
<polygon points="1417.5,489.5 1425,489.5 1425,498 1417.5,498" fill="#5b9a42"/>
<polygon points="1406.2,486.2 1410,486.2 1410,497.5 1406.2,497.5" fill="#5b9a42"/>
<polygon points="1440,478.8 1443.8,478.8 1443.8,495 1440,495 1440,505 1436.2,505 1436.2,495 1440,492.5" fill="#5b9a42"/>
<polygon points="1447.5,507.5 1456.2,507.5 1456.2,511.2 1453.8,511.2 1453.8,516.2 1450,516.2 1450,511.2 1447.5,511.2" fill="#5b9a42"/>
<polygon points="1492.5,418.8 1528.8,418 1528.8,436.2 1547.5,436.2 1547.5,458.8 1537.5,458.8 1537.5,505 1508.8,505 1508.8,497.5 1501.2,497.5 1501.2,487.5 1490,486.2 1488.8,477.5 1492.5,475" fill="#5b9a42"/>
<polygon points="1547.5,487.5 1568.8,487.5 1568.8,502.5 1562.5,505 1547.5,502.5" fill="#5b9a42"/>
<polygon points="1270,532 1273.8,532 1273.8,541.2 1270,541.2" fill="#5b9a42"/>
<polygon points="1203,547 1208,547 1207.5,556.2 1202.5,557.5" fill="#5b9a42"/>
<polygon points="1265,560 1278.8,560 1278.8,570 1276.2,573.8 1265,573.8" fill="#5b9a42"/>
<polygon points="1370,572 1375,572 1375,578.8 1371.2,578.8 1371.2,583.8 1365,583.8 1365,578.8 1370,577.5" fill="#5b9a42"/>
<polygon points="1541.2,526.2 1553.8,527.5 1552.5,533.8 1545,533.8" fill="#5b9a42"/>
<polygon points="1492,508.8 1497.5,508.8 1497.5,516.2 1492,515" fill="#5b9a42"/>
<polygon points="1400,437.5 1406.2,440 1410,447.5 1422.5,448.8 1421.2,461.2 1407.5,461.2 1407.5,452.5 1400,450" fill="#5b9a42"/>
<polygon points="1400,462.5 1406.2,462.5 1407.5,480 1410,488.8 1400,488.8" fill="#5b9a42"/>
<polygon points="1557.5,537.5 1562.5,537.5 1565,545 1575,547.5 1575,552.5 1583.8,553.8 1583.8,558.8 1576.2,558.8 1576.2,573.8 1565,573.8 1565,565 1567.5,558.8 1557.5,557.5 1560,550" fill="#5b9a42"/>
<polygon points="1588.8,545 1600,545 1600,553.8 1607.5,553.8 1608.8,572.5 1605,573.8 1605,581.2 1596.2,581.2 1596.2,572.5 1592.5,571.2 1597.5,562.5 1588.8,553.8" fill="#5b9a42"/>
<polygon points="1541.2,526.2 1552.5,527.5 1553.8,532.5 1545,533.8" fill="#5b9a42"/>
<polygon points="1492.5,508.8 1497.5,508.8 1498.8,515 1492.5,515" fill="#5b9a42"/>
<polygon points="1466.2,563.8 1475,558.8 1482.5,560 1475,566.2 1467.5,568.8" fill="#5b9a42"/>
<polygon points="1553.8,575 1562.5,577.5 1563.8,585 1557.5,583.8" fill="#5b9a42"/>
<polygon points="1431.2,573.8 1437.5,576.2 1443.8,582.5 1445,588.8 1440,588.8 1433.8,580" fill="#5b9a42"/>
<polygon points="1448.8,582.5 1462.5,583.8 1462.5,587.5 1453.8,587.5 1453.8,591.2 1448.8,591.2" fill="#5b9a42"/>
<polygon points="1472.5,582.5 1487.5,580 1490,586.2 1477.5,588.8" fill="#5b9a42"/>
<polygon points="1653.8,582.5 1670,581.2 1668.8,590 1660,593.8 1652.5,592.5" fill="#5b9a42"/>
<polygon points="1248,673.8 1252.5,673.8 1252.5,676.2 1255.5,676.2 1255.5,681.2 1252,681.2 1252,686.2 1250,686.2 1250,681.2 1248,681.2" fill="#5b9a42"/>
<polygon points="1253,752.5 1258,753.8 1258,761.2 1253,762.5" fill="#5b9a42"/>
<polygon points="1407.5,698.8 1416.2,706.2 1416.2,717.5 1422.5,720 1423.8,727.5 1412.5,730 1406.2,720 1398.8,715 1397.5,705" fill="#5b9a42"/>
<polygon points="1421.2,613.8 1430,611.2 1433.8,620 1432.5,627.5 1425,628.8 1422,621.2" fill="#5b9a42"/>
<polygon points="1482.5,625 1490.5,625 1490.5,635 1482.5,635" fill="#5b9a42"/>
<polygon points="1392.5,646.2 1397.5,646.2 1397.5,653 1392.5,653" fill="#5b9a42"/>
<polygon points="1503.3,620 1520,610 1521.7,601.7 1528.3,604.2 1539.2,603.3 1539.2,620 1545,625 1550.8,625 1550.8,627.5 1556.7,627.5 1557.5,620.8 1570,620 1570,601.7 1590,600.8 1590.8,610 1592.5,615.8 1595,621.7 1598.3,625.8 1597.5,636.7 1600,646.7 1599.2,658.3 1601.7,663.3 1601.7,668.3 1615,670 1623.3,668.3 1633.3,670.8 1643.3,670 1645,646.7 1650,637.5 1673.3,640 1701.7,639.2 1702.5,651.7 1710,656.7 1710.8,673.3 1720,675 1720,760 1683.3,760 1683.3,751.7 1686.7,743.3 1683.3,736.7 1680,743.3 1673.3,746.7 1660,750 1650,750 1646.7,746.7 1633.3,748.3 1628.3,746.7 1623.3,733.3 1621.7,723.3 1613.3,718.3 1611.7,711.7 1593.3,705 1594.2,688.3 1570,688.3 1568.3,703.3 1558.3,706.7 1556.7,711.7 1566.7,713.3 1573.3,711.7 1573.3,705 1579.2,705 1580,713.3 1583.3,718.3 1576.7,726.7 1573.3,736.7 1571.7,751.7 1560,751.7 1556.7,745 1550,746.7 1545,740 1543.3,726.7 1538.3,720 1536.7,713.3 1543.3,711.7 1541.7,705 1530,701.7 1528.3,696.7 1515,697.5 1510,693.3 1504.2,655" fill="#5b9a42"/>
<polygon points="1600,628.3 1610,627.5 1616.7,635 1623.3,641.7 1630,646.7 1628.3,656.7 1621.7,656.7 1620,646.7 1613.3,643.3 1600,642.5" fill="#5b9a42"/>
<polygon points="1450,660 1458.3,660 1466.7,666.7 1473.3,673.3 1480,683.3 1486.7,696.7 1491.7,706.7 1465.8,706.7 1465.8,695 1430,695 1428.3,685 1441.7,685 1443.3,676.7 1450,670" fill="#5b9a42"/>
<polygon points="1480,658.3 1503.3,659.2 1510,693.3 1515,697.5 1500,695 1495,686.7 1490,676.7 1483.3,666.7" fill="#5b9a42"/>
<polygon points="1446.7,735 1485,734.2 1485,721.7 1490,726.7 1500,733.3 1506.7,736.7 1508.3,730 1515,736.7 1523.3,743.3 1531.7,753.3 1535,760 1446.7,760" fill="#5b9a42"/>
<polygon points="1446.2,765 1497.5,765 1497.5,772 1503.8,772 1503.8,771.2 1522.5,771.2 1522.5,781.2 1528.8,781.2 1528.8,771.2 1540,770 1537.5,760 1446.2,760" fill="#5b9a42"/>
<polygon points="1538.3,748.3 1545,741.7 1553.3,746.7 1556.7,753.3 1558.3,760 1543.3,760" fill="#5b9a42"/>
<polygon points="1547.5,742.5 1557.5,750 1560,762.5 1550,762.5 1542.5,752.5" fill="#5b9a42"/>
<polygon points="1421.7,613.3 1427.5,611.7 1433.3,616.7 1433.3,623.3 1428.3,626.7 1423.3,623.3" fill="#5b9a42"/>
<polygon points="1482.5,625 1490,625.8 1490,634.2 1482.5,634.2" fill="#5b9a42"/>
<polygon points="1400.8,703.3 1406.7,698.3 1416.7,706.7 1416.7,716.7 1422.5,720 1422.5,728.3 1413.3,728.3 1410,721.7 1403.3,716.7" fill="#5b9a42"/>
<polygon points="1421.7,591.7 1430,591.7 1435,598.3 1421.7,600" fill="#5b9a42"/>
<polygon points="1436.7,580 1443.3,580 1445,586.7 1439.2,588.3" fill="#5b9a42"/>
<polygon points="1448.3,581.7 1463.3,582.5 1463.3,587.5 1455.8,587.5 1455.8,591.7 1450,591.7" fill="#5b9a42"/>
<polygon points="1473.3,583.3 1490,581.7 1493.3,587.5 1483.3,589.2 1475,587.5" fill="#5b9a42"/>
<polygon points="1465.8,596.7 1471.7,595 1473.3,600.8 1466.7,601.7" fill="#5b9a42"/>
<polygon points="1480,600.8 1496.7,599.2 1497.5,604.2 1481.7,605.8" fill="#5b9a42"/>
<polygon points="1502.5,611.7 1508.3,610 1510,615.8 1504.2,617.5" fill="#5b9a42"/>
<polygon points="1512.5,598.3 1516.7,597.5 1517.5,605 1513.3,605" fill="#5b9a42"/>
<polygon points="1650,596.7 1658.3,591.7 1668.3,591.7 1666.7,598.3 1661.7,603.3 1655,605 1655,610 1653.3,601.7" fill="#5b9a42"/>
<polygon points="1653.3,583.3 1670,583.3 1670,590.8 1658.3,590.8 1653.3,595" fill="#5b9a42"/>
<polygon points="1556.7,580 1564.2,580 1562.5,585.8 1558.3,584.2" fill="#5b9a42"/>
<polygon points="1595.8,580 1605.8,580 1605.8,581.7 1595.8,581.7" fill="#5b9a42"/>
<polygon points="1715,335.8 1726.7,335 1727.5,340.8 1730,341.7 1730,356.7 1726.7,357.5 1725.8,371.7 1716.7,372.5 1716.7,375 1720.8,376.7 1720.8,380.8 1727.5,381.7 1728.3,391.7 1733.3,392.5 1733.3,395.8 1730.8,405 1725,405 1722.5,398.3 1720,393.3 1716.7,391.7 1710,393.3 1705,391.7 1701.7,389.2 1696.7,389.2 1700,380 1703.3,371.7 1705.8,361.7 1708.3,350 1710.8,343.3" fill="#5b9a42"/>
<polygon points="1646.7,417.5 1660,416.3 1660,453.3 1655.8,453.3 1655.8,458.3 1641.7,458.3 1640.8,467.5 1631.7,467.5 1631.7,482.5 1638.3,484.2 1650,483.3 1650,487.5 1668.3,487.5 1668.3,500 1622.5,500 1622.5,490 1626.7,480 1622.5,470 1613.3,469.2 1617.5,460 1626.7,448.3 1631.7,438.3 1640,435 1646.7,431.7" fill="#5b9a42"/>
<polygon points="1688.3,458.3 1711.7,457.5 1715.8,465 1717.5,470 1716.7,480 1713.3,486.7 1706.7,490 1702.5,496.7 1702.5,486.7 1689.2,486.7" fill="#5b9a42"/>
<polygon points="1735,410 1744.2,410 1744.2,415.8 1740,418.3 1735,415.8" fill="#5b9a42"/>
<polygon points="1560,487.5 1569.2,487.5 1569.2,500 1560,500" fill="#5b9a42"/>
<polygon points="1626.7,325 1632.5,325 1633.3,330.8 1635,335.8 1621.7,335.8 1621.7,331.7 1626.7,330" fill="#5b9a42"/>
<polygon points="1560,327.5 1565.8,328.3 1565,335 1560,334.2" fill="#5b9a42"/>
<polygon points="1783.3,485.8 1793.3,485 1796.7,493.3 1793.3,496.7 1786.7,493.3" fill="#5b9a42"/>
<polygon points="1801.7,490 1806.7,490 1808.3,495 1801.7,495.8" fill="#5b9a42"/>
<polygon points="1613.3,490 1670,490 1670,506.7 1666.7,518.3 1670.8,523.3 1670.8,543.3 1675,545 1675,558.3 1670,561.7 1656.7,561.7 1653.3,558.3 1651.7,548.3 1646.7,545 1640,543.3 1610,540 1607.5,526.7 1615,525 1613.3,510" fill="#5b9a42"/>
<polygon points="1588.3,545 1600,544.2 1600,553.3 1608.3,553.3 1607.5,571.7 1593.3,571.7 1593.3,563.3 1598.3,560 1588.3,553.3" fill="#5b9a42"/>
<polygon points="1595.8,572.5 1605.8,572.5 1605.8,581.7 1595.8,581.7" fill="#5b9a42"/>
<polygon points="1560,540 1566.7,545 1576.7,553.3 1576.7,571.7 1563.3,571.7 1566.7,563.3 1560,558.3" fill="#5b9a42"/>
<polygon points="1653.3,582.5 1670,581.7 1670,590 1666.7,596.7 1661.7,605 1654.2,605 1653.3,611.7 1652.5,603.3 1648.3,600 1651.7,590" fill="#5b9a42"/>
<polygon points="1570,601.7 1588.3,600.8 1589.2,606.7 1592.5,610 1593.3,621.7 1598.3,626.7 1600,636.7 1605,628.3 1615,628.3 1623.3,640 1630,650 1626.7,658.3 1620,656.7 1615,646.7 1608.3,643.3 1601.7,645 1600.8,658.3 1613.3,658.3 1610,670 1560,670 1560,618.3 1568.3,618.3 1570,610" fill="#5b9a42"/>
<polygon points="1645,645 1650,636.7 1663.3,638.3 1673.3,640 1686.7,641.7 1701.7,638.3 1703.3,646.7 1701.7,656.7 1710,656.7 1710,670 1644.2,670" fill="#5b9a42"/>
<polygon points="1728.3,616.7 1749.2,615.8 1749.2,621.7 1739.2,625 1729.2,626.7" fill="#5b9a42"/>
<polygon points="1742.5,593.3 1746.7,594.2 1750.8,598.3 1750.8,606.7 1746.7,606.7 1745.8,600.8 1742.5,600" fill="#5b9a42"/>
<polygon points="1756.7,597.5 1760,597.5 1760,605.8 1756.7,605.8" fill="#5b9a42"/>
<polygon points="1789.2,606.7 1801.7,598.3 1813.3,596.7 1817.5,596.7 1818.3,631.7 1815,643.3 1808.3,643.3 1800,638.3 1796.7,626.7 1790,623.3" fill="#5b9a42"/>
<polygon points="1728.3,665 1738.3,658.3 1756.7,654.2 1780,654.2 1781.7,670 1728.3,670" fill="#5b9a42"/>
<polygon points="1783.3,490 1806.7,490 1805,495.8 1793.3,496.7" fill="#5b9a42"/>
<polygon points="1560,490 1568.3,490 1568.3,503.3 1560,505.8" fill="#5b9a42"/>
<polygon points="1701.7,490 1708.3,490 1702.5,497.5" fill="#5b9a42"/>
<polygon points="1808.3,644.2 1813.3,644.2 1813.3,651.7 1808.3,651.7" fill="#5b9a42"/>
<polygon points="1560,660 1600,660 1600,665 1608.3,668.3 1618.3,670 1626.7,668.3 1643.3,670 1645,660 1710,660 1710,675 1725,675.8 1726.7,705 1723.3,710 1718.3,715 1715,723.3 1714.2,731.7 1710,740 1707.5,748.3 1708.3,756.7 1710.8,761.7 1706.7,763.3 1701.7,758.3 1699.2,755 1703.3,750 1701.7,740 1696.7,738.3 1698.3,733.3 1693.3,736.7 1691.7,740 1686.7,743.3 1688.3,746.7 1683.3,750 1682.5,770 1676.7,770 1670,776.7 1666.7,785 1663.3,780 1656.7,775 1655,751.7 1640,750.8 1636.7,745 1630,748.3 1625.8,741.7 1621.7,731.7 1623.3,716.7 1613.3,716.7 1610,713.3 1615,708.3 1593.3,706.7 1593.3,690 1568.3,688.3 1568.3,701.7 1560,704.2" fill="#5b9a42"/>
<polygon points="1728.3,665 1733.3,661.7 1780,661.7 1780.8,670 1778.3,681.7 1773.3,688.3 1770.8,698.3 1768.3,710 1771.7,716.7 1770,723.3 1764.2,722.5 1760,716.7 1756.7,711.7 1748.3,706.7 1740,705 1731.7,705.8 1729.2,693.3" fill="#5b9a42"/>
<polygon points="1560,718.3 1571.7,719.2 1572.5,713.3 1573.3,705 1578.3,705.8 1579.2,715 1584.2,716.7 1581.7,723.3 1578.3,726.7 1576.7,735 1571.7,743.3 1568.3,750.8 1560,750.8" fill="#5b9a42"/>
<polygon points="1571.7,768.3 1578.3,766.7 1585,767.5 1591.7,771.7 1595.8,776.7 1586.7,776.7 1580,775 1573.3,773.3" fill="#5b9a42"/>
<polygon points="1558.3,771.7 1566.7,773.3 1563.3,781.7 1558.3,783.3" fill="#5b9a42"/>
<polygon points="1741.7,784.2 1751.7,784.2 1760,780 1766.7,773.3 1772.5,766.7 1774.2,773.3 1771.7,786.7 1768.3,798.3 1765,806.7 1760,813.3 1753.3,816.7 1755,811.7 1750,808.3 1743.3,806.7 1740,801.7 1743.3,795 1739.2,791.7" fill="#5b9a42"/>
<polygon points="1783.3,791.7 1788.3,786.7 1798.3,785 1800,776.7 1805,776.7 1806.7,786.7 1811.7,793.3 1820,801.7 1826.7,840 1780,840 1780,830 1790,821.7 1793.3,816.7 1781.7,810 1770,808.3 1770,801.7 1783.3,800" fill="#5b9a42"/>
<polygon points="1806.7,695.8 1813.3,693.3 1826.7,691.7 1826.7,711.7 1810,711.7 1810,705 1806.7,704.2" fill="#5b9a42"/>
<polygon points="1739.2,820 1750,815.8 1758.3,813.3 1756.7,820 1746.7,824.2" fill="#5b9a42"/>
<polygon points="1777.5,828.8 1785,823.8 1795,820 1802.5,815 1807.5,810 1820,807.5 1822.5,807.5 1822.5,842.5 1813.1,845 1810,841.9 1805,845 1797.5,847.5 1791.2,850 1786.2,855 1783.8,861.2 1777.5,862.5 1773.8,857.5 1776.2,845" fill="#5b9a42"/>
<polygon points="1145.1,683 1163.6,680.3 1163.6,689.3 1145.1,690.1" fill="#5b9a42"/>
<polygon points="1145.1,710.2 1163.6,710.2 1163.6,727.9 1145.1,727.9" fill="#5b9a42"/>
<polygon points="1177.8,670.5 1200.6,668.9 1200.6,701.9 1187.2,701.9 1187.2,695.6 1177.8,697.2 1173,690.9 1168.3,690.9 1168.3,685.4 1173,685.4 1173,679.5 1181.7,679.1 1181.7,673.6 1177.8,673.6" fill="#5b9a42"/>
<polygon points="1202.2,688.6 1219.9,688.2 1219.9,706.3 1202.2,706.6" fill="#5b9a42"/>
<polygon points="1195.1,708.2 1200.6,708.2 1200.6,725.5 1190.4,727.9 1195.1,720.8" fill="#5b9a42"/>
<polygon points="1225,715.3 1232.8,716.9 1233.6,720 1238.7,720 1238.7,724 1233.6,724 1229.7,725.5 1225,725.5" fill="#5b9a42"/>
<polygon points="1158.9,697.2 1166,700.4 1163.6,706.6 1159.7,705.1" fill="#5b9a42"/>
<polygon points="1568.3,688.3 1593.3,690 1593.3,706.7 1578.3,705.8 1578.3,710 1573.3,710 1573.3,705 1568.3,704.2" fill="#90c671"/>
<polygon points="1659.2,723.3 1669.2,723.3 1669.2,733.3 1659.2,733.3" fill="#90c671"/>
<polygon points="1631.7,671.7 1650,673.3 1650,683.3 1643.3,685 1640,678.3 1631.7,678.3" fill="#90c671"/>
<polygon points="1710.8,660 1725.8,660 1725.8,675 1710.8,675" fill="#90c671"/>
<polygon points="1683.3,750 1698.3,743.3 1701.7,758.3 1706.7,763.3 1701.7,766.7 1699.7,771.7 1682.5,770" fill="#90c671"/>
<polygon points="1600.8,658.3 1615,658.3 1615,668.3 1601.7,668.3" fill="#90c671"/>
<polygon points="1633.3,673.3 1643.3,673.3 1650,676.7 1650,683.3 1643.3,684.2 1643.3,680 1633.3,680" fill="#90c671"/>
<polygon points="1709.2,723.3 1720,723.3 1720,732.5 1709.2,732.5" fill="#90c671"/>
<polygon points="1654.2,670.8 1659.2,670.8 1659.2,675.8 1654.2,675.8" fill="#90c671"/>
<polygon points="1732.5,578.3 1740,578.3 1740,585 1732.5,585" fill="#90c671"/>
<polygon points="1600,643.3 1613.3,644.2 1616.7,651.7 1623.3,656.7 1628.3,651.7 1625,646.7 1633.3,643.3 1645,643.3 1645,646.7 1643.3,670 1633.3,670.8 1623.3,668.3 1615,670 1615,658.3 1616.7,653.3 1606.7,653.3 1601.7,651.7" fill="#fef8e0"/>
<polygon points="1601.7,645 1615,644.2 1615.8,651.7 1610,654.2 1601.7,652.5" fill="#fef8e0"/>
<polygon points="1630,640.8 1643.3,640.8 1646.7,645 1644.2,670 1610,670 1613.3,658.3 1626.7,658.3 1630,650" fill="#fef8e0"/>
<polygon points="1779.2,430.8 1790,430 1796.7,431.3 1805,437 1812,445.3 1816.3,455.3 1818.7,468.3 1818.7,480 1817.5,485 1820,486.7 1820.8,492.5 1816.7,491.7 1813.3,489.2 1808.3,487.5 1800,485 1793.3,486.7 1783.3,486.7 1780,480 1775,473.3 1770,463.3 1766.7,453.3 1767.5,443.3 1771.7,436.7 1776.7,433.3" fill="#6cc9ee" stroke="#6cc9ee" stroke-width="1.2" stroke-linejoin="round"/>
<polygon points="1756.7,401.7 1763.3,402 1771.7,405.3 1776.7,407 1783.3,407.8 1788.3,411.2 1790.5,415 1788.3,420 1788,425 1784.2,428.7 1779.2,430 1775,431.7 1768.3,428.3 1761.7,426.7 1755,426.7 1750,423.3 1743.3,421.7 1740.8,419.2 1745,416.7 1751.7,420 1758.3,418.3 1761.7,413.3 1757.5,410 1756.7,405" fill="#6cc9ee" stroke="#6cc9ee" stroke-width="1.2" stroke-linejoin="round"/>
<polygon points="1737.5,399.7 1743.3,400 1746.7,403.3 1745.8,407.5 1740.8,406.7 1737,403.3" fill="#6cc9ee" stroke="#6cc9ee" stroke-width="1.2" stroke-linejoin="round"/>
<polygon points="1708.3,394.2 1713.3,395 1717.5,401.7 1720.8,410 1721.7,417.5 1718.3,422.5 1714.2,421.7 1709.2,416.7 1706.7,408.3 1706.3,400" fill="#6cc9ee" stroke="#6cc9ee" stroke-width="1.2" stroke-linejoin="round"/>
<polygon points="1622.5,540.8 1626.7,543.3 1633.3,544.2 1640,545 1645.8,547.5 1649.2,553.3 1651.7,561.7 1653.3,571.7 1652.5,583.3 1651.7,590 1648.3,596.7 1645,601.7 1640,606.7 1635,613.3 1628.3,618.3 1620,623.3 1610,625.8 1601.7,625.8 1595.8,621.7 1593.3,615.8 1593,610 1595.8,603.3 1600,599.2 1605.8,597.5 1609.2,595 1610.8,588.3 1609.2,580 1608.3,570 1609.2,560 1611.7,551.7 1616.7,544.2" fill="#6cc9ee" stroke="#6cc9ee" stroke-width="1.2" stroke-linejoin="round"/>
<polygon points="1720,713.3 1728.3,710 1738.3,709.7 1748.3,713.3 1755,721.7 1758.3,731.7 1760,743.3 1765,753.3 1767.5,763.3 1765.8,773.3 1760,779.2 1751.7,783.3 1743.3,783.3 1736.7,778.3 1731.7,771.7 1726.7,766.7 1718.3,766.7 1711.7,763.3 1708.3,756.7 1707.5,748.3 1710,740 1715,731.7 1715.8,723.3" fill="#6cc9ee" stroke="#6cc9ee" stroke-width="1.2" stroke-linejoin="round"/>
<polygon points="1630,758.3 1646.7,758.3 1648.3,768.3 1653.3,775 1660,780 1668.3,784.2 1668.3,778.3 1675,777.5 1676.7,786.7 1683.3,791.7 1690,798.3 1695,805 1693.3,813.3 1698.3,818.3 1705,826.7 1706.7,833.3 1708.3,840 1720,840 1723.8,850 1723.8,857.5 1727.5,862.5 1722.5,866.2 1720,871.2 1723.8,871.9 1726.9,876.2 1717.5,880 1715,870 1707.5,872.5 1700,868.8 1695,866.9 1685.6,875.6 1676.2,874.4 1666.2,875.6 1658.8,873.8 1653.8,868.8 1647.5,866.2 1643.8,862.5 1643.1,845 1648.8,830 1661.2,835 1671.2,831.2 1671.9,823.8 1662.5,818.1 1657.5,813.8 1654.4,808.8 1646.2,810 1642.5,805.6 1641.9,800.6 1645.6,798.1 1645.6,794.4 1643.8,792.8 1635,792.5 1633.3,781.7 1630,773.3" fill="#6cc9ee" stroke="#6cc9ee" stroke-width="1.2" stroke-linejoin="round"/>
<polygon points="1701.7,766.7 1710,765 1718.3,766.7 1726.7,766.7 1731.7,771.7 1736.7,778.3 1739.2,786.7 1740.8,793.3 1740,801.7 1743.3,806.7 1750,808.3 1754.2,811.7 1750,816.7 1743.3,820 1736.7,824.2 1728.3,822.5 1724.2,816.7 1720,806.7 1715,801.7 1710,793.3 1705,785 1700.8,776.7 1699.7,771.7" fill="#6cc9ee" stroke="#6cc9ee" stroke-width="1.2" stroke-linejoin="round"/>
<polygon points="1726.2,835 1745,833.1 1757.5,836.2 1768.8,838.1 1773.1,840 1773.1,851.2 1765,853.8 1757.5,856.2 1751.9,859.4 1751.2,863.8 1741.2,863.1 1740,859.4 1733.8,855.6 1730,857.5 1725,850" fill="#6cc9ee" stroke="#6cc9ee" stroke-width="1.2" stroke-linejoin="round"/>
<polygon points="1725,820 1732.5,815 1740,817.5 1745,820 1738.8,823.8 1730,825" fill="#6cc9ee" stroke="#6cc9ee" stroke-width="1.2" stroke-linejoin="round"/>
<polygon points="1813.1,843.1 1821.5,841.2 1821.9,848.8 1816.2,848.1" fill="#6cc9ee" stroke="#6cc9ee" stroke-width="1.2" stroke-linejoin="round"/>
<polygon points="1565,776.7 1571.7,774.2 1580,775 1586.7,779.2 1588.7,785 1585,790 1576.7,792 1568.3,790.8 1564.7,785.8" fill="#6cc9ee" stroke="#6cc9ee" stroke-width="1.2" stroke-linejoin="round"/>
<polygon points="1587.5,733.3 1593.3,730.8 1600,734.2 1600.8,741.7 1595,744.2 1588.3,741.7" fill="#6cc9ee" stroke="#6cc9ee" stroke-width="1.2" stroke-linejoin="round"/>
<polygon points="1578.3,748.3 1585,745.8 1590.8,750.8 1591.7,758.3 1585,760 1579.2,756.7" fill="#6cc9ee" stroke="#6cc9ee" stroke-width="1.2" stroke-linejoin="round"/>
<polygon points="1601.7,747.5 1607.5,745.8 1610,750.8 1607.5,755 1602.5,754.2" fill="#6cc9ee" stroke="#6cc9ee" stroke-width="1.2" stroke-linejoin="round"/>
<polygon points="1595,752.5 1600,750.8 1600.8,760 1595.8,761.7" fill="#6cc9ee" stroke="#6cc9ee" stroke-width="1.2" stroke-linejoin="round"/>
<polygon points="1684.2,726.7 1696.7,722.5 1703.3,728.3 1700,733.3 1693.3,736.7 1686.7,733.3" fill="#6cc9ee" stroke="#6cc9ee" stroke-width="1.2" stroke-linejoin="round"/>
<polygon points="1680.8,733.3 1684.2,731.7 1685,740 1680.8,741.7" fill="#6cc9ee" stroke="#6cc9ee" stroke-width="1.2" stroke-linejoin="round"/>
<polygon points="1771.7,708.3 1778.3,705.8 1785,709.2 1783.3,714.2 1775.8,715" fill="#6cc9ee" stroke="#6cc9ee" stroke-width="1.2" stroke-linejoin="round"/>
<polygon points="1803.3,665 1816.7,661.7 1818.3,670 1813.3,678.3 1808.3,675 1805,670" fill="#6cc9ee" stroke="#6cc9ee" stroke-width="1.2" stroke-linejoin="round"/>
<polygon points="1810,681.7 1816.7,685 1813.3,690" fill="#6cc9ee" stroke="#6cc9ee" stroke-width="1.2" stroke-linejoin="round"/>
<polygon points="1806.7,620.8 1813.3,619.2 1817.5,621.7 1817.5,631.7 1810,631.7 1806.7,626.7" fill="#6cc9ee" stroke="#6cc9ee" stroke-width="1.2" stroke-linejoin="round"/>
<polygon points="1769.2,510 1775,508.3 1776.7,512.5 1770.8,515" fill="#6cc9ee" stroke="#6cc9ee" stroke-width="1.2" stroke-linejoin="round"/>
<polygon points="1580,616.7 1584.2,615.8 1585,623.3 1580.8,625" fill="#6cc9ee" stroke="#6cc9ee" stroke-width="1.2" stroke-linejoin="round"/>
<polygon points="1566.7,606.7 1570,606.7 1570,613.3 1566.7,613.3" fill="#6cc9ee" stroke="#6cc9ee" stroke-width="1.2" stroke-linejoin="round"/>
<polygon points="1523.3,651.7 1530,655 1533.3,650 1538.3,648.3 1541.7,656.7 1540,666.7 1535,675 1531.7,676.7 1530,666.7 1526.7,658.3" fill="#6cc9ee" stroke="#6cc9ee" stroke-width="1.2" stroke-linejoin="round"/>
<polygon points="1587.5,732.5 1595,730.8 1600,736.7 1599.2,743.3 1591.7,745 1586.7,740" fill="#6cc9ee" stroke="#6cc9ee" stroke-width="1.2" stroke-linejoin="round"/>
<polygon points="1578.3,746.7 1586.7,745 1591.7,751.7 1590,758.3 1581.7,758.3 1578,752.5" fill="#6cc9ee" stroke="#6cc9ee" stroke-width="1.2" stroke-linejoin="round"/>
<polygon points="1601.7,745.8 1608.3,745 1610,751.7 1604.2,753.3" fill="#6cc9ee" stroke="#6cc9ee" stroke-width="1.2" stroke-linejoin="round"/>
<polygon points="1555,713.3 1560.8,713.3 1561.7,720 1555.8,721.7" fill="#6cc9ee" stroke="#6cc9ee" stroke-width="1.2" stroke-linejoin="round"/>
<polygon points="1533.3,730 1540,728.3 1542.5,735 1540,740 1534.2,739.2" fill="#6cc9ee" stroke="#6cc9ee" stroke-width="1.2" stroke-linejoin="round"/>
<polygon points="1580.8,616.7 1584.2,615.8 1585.8,623.3 1581.7,625.8" fill="#6cc9ee" stroke="#6cc9ee" stroke-width="1.2" stroke-linejoin="round"/>
<polygon points="1480,608.3 1490,609.2 1492.5,615 1486.7,617.5 1480.8,614.2" fill="#6cc9ee" stroke="#6cc9ee" stroke-width="1.2" stroke-linejoin="round"/>
<polygon points="1414.2,620.8 1421.7,620 1423.3,626.7 1416.7,628.3" fill="#6cc9ee" stroke="#6cc9ee" stroke-width="1.2" stroke-linejoin="round"/>
<polygon points="1405,619.2 1411.7,618.3 1412.5,623.3 1405.8,623.7" fill="#6cc9ee" stroke="#6cc9ee" stroke-width="1.2" stroke-linejoin="round"/>
<polygon points="1683.3,725 1696.7,723.3 1700,730 1693.3,736.7 1685,735" fill="#6cc9ee" stroke="#6cc9ee" stroke-width="1.2" stroke-linejoin="round"/>
<polygon points="1680,733.3 1684.2,731.7 1684.2,741.7 1680.8,742.5" fill="#6cc9ee" stroke="#6cc9ee" stroke-width="1.2" stroke-linejoin="round"/>
<polygon points="1633.3,680 1636.7,679.2 1637.5,685.8 1634.2,686.7" fill="#6cc9ee" stroke="#6cc9ee" stroke-width="1.2" stroke-linejoin="round"/>
<polygon points="1460,770 1470,765.5 1482.5,766.2 1492.5,772.5 1498.8,783.8 1497.5,793 1475,793.8 1466.2,788.8 1458.8,780" fill="#6cc9ee" stroke="#6cc9ee" stroke-width="1.2" stroke-linejoin="round"/>
<polygon points="1566.2,776.2 1580,773.8 1583.8,790 1570,790 1565,783.8" fill="#6cc9ee" stroke="#6cc9ee" stroke-width="1.2" stroke-linejoin="round"/>
<polygon points="1435,736.2 1440,737.5 1436.2,755 1433.8,768.8 1430,770 1431.2,752.5" fill="#6cc9ee" stroke="#6cc9ee" stroke-width="1.2" stroke-linejoin="round"/>
<polygon points="1533.8,728.8 1541.2,727.5 1542.5,740 1535,743 1532,736.2" fill="#6cc9ee" stroke="#6cc9ee" stroke-width="1.2" stroke-linejoin="round"/>
<polygon points="1406.2,620 1422.5,618.8 1425,627.5 1415,630 1407.5,625" fill="#6cc9ee" stroke="#6cc9ee" stroke-width="1.2" stroke-linejoin="round"/>
<polygon points="1396.2,708.8 1403.8,707.5 1406.2,720 1398.8,721.2" fill="#6cc9ee" stroke="#6cc9ee" stroke-width="1.2" stroke-linejoin="round"/>
<polygon points="1410,722.5 1417.5,721.2 1418.8,728.8 1411.2,728.8" fill="#6cc9ee" stroke="#6cc9ee" stroke-width="1.2" stroke-linejoin="round"/>
<polygon points="1373.8,702.5 1383.8,703.8 1383.8,707.5 1375,707" fill="#6cc9ee" stroke="#6cc9ee" stroke-width="1.2" stroke-linejoin="round"/>
<polygon points="1397.5,753.8 1403,753 1403,757.5 1398,758" fill="#6cc9ee" stroke="#6cc9ee" stroke-width="1.2" stroke-linejoin="round"/>
<polygon points="1493.8,330 1502.5,330 1503.8,338.8 1496.2,340" fill="#6cc9ee" stroke="#6cc9ee" stroke-width="1.2" stroke-linejoin="round"/>
<polygon points="1425,430 1432.5,428.8 1438.8,435 1436.2,441.2 1430,437.5" fill="#6cc9ee" stroke="#6cc9ee" stroke-width="1.2" stroke-linejoin="round"/>
<polygon points="1341.2,395.5 1347.5,395.5 1350,400 1342.5,400.5" fill="#6cc9ee" stroke="#6cc9ee" stroke-width="1.2" stroke-linejoin="round"/>
<polygon points="1317.5,372.5 1322.5,372.5 1323,378.8 1318,378.8" fill="#6cc9ee" stroke="#6cc9ee" stroke-width="1.2" stroke-linejoin="round"/>
<polygon points="1493.8,326.2 1502.5,325 1505,335 1496.2,338.8" fill="#6cc9ee" stroke="#6cc9ee" stroke-width="1.2" stroke-linejoin="round"/>
<polygon points="1240,311.2 1245,311.2 1245,314.5 1240,314.5" fill="#6cc9ee" stroke="#6cc9ee" stroke-width="1.2" stroke-linejoin="round"/>
<polygon points="1247,312 1252,312 1252,315 1247,315" fill="#6cc9ee" stroke="#6cc9ee" stroke-width="1.2" stroke-linejoin="round"/>
<polygon points="1243.8,316.2 1248,316.2 1248,319.5 1243.8,319.5" fill="#6cc9ee" stroke="#6cc9ee" stroke-width="1.2" stroke-linejoin="round"/>
<polygon points="1250,317.5 1254,317.5 1254,321 1250,321" fill="#6cc9ee" stroke="#6cc9ee" stroke-width="1.2" stroke-linejoin="round"/>
<polygon points="1246.2,321 1250,321 1250,324 1246.2,324" fill="#6cc9ee" stroke="#6cc9ee" stroke-width="1.2" stroke-linejoin="round"/>
<polygon points="1253.8,321.5 1257.5,321.5 1257.5,324 1253.8,324" fill="#6cc9ee" stroke="#6cc9ee" stroke-width="1.2" stroke-linejoin="round"/>
<polygon points="1493.8,330 1502.5,330 1503.8,338.8 1496.2,340" fill="#6cc9ee" stroke="#6cc9ee" stroke-width="1.2" stroke-linejoin="round"/>
<polygon points="1432.5,430 1438.8,431.2 1438.8,440 1432.5,438.8" fill="#6cc9ee" stroke="#6cc9ee" stroke-width="1.2" stroke-linejoin="round"/>
<polygon points="1530,505 1536.2,505 1536.2,508.8 1530,508.8" fill="#6cc9ee" stroke="#6cc9ee" stroke-width="1.2" stroke-linejoin="round"/>
<polygon points="1161.2,692.5 1163.6,690.9 1166,694.1 1169.1,694.8 1171.5,697.2 1174.6,698.8 1177,703.5 1179.3,708.2 1184.1,709.8 1188.8,708.2 1193.5,706.6 1198.2,707.4 1199,712.9 1196.6,719.2 1193.5,724 1188.8,727.9 1184.1,727.9 1180.9,724 1177,720.8 1173,719.2 1169.9,716.9 1166.8,711.4 1163.6,706.6 1161.2,701.9 1159.7,697.2" fill="#6cc9ee" stroke="#6cc9ee" stroke-width="1.2" stroke-linejoin="round"/>
<polygon points="1178.6,683 1182.5,679.9 1187.2,679.1 1190.4,681.5 1188.8,684.6 1185.6,687 1184.1,690.9 1180.9,694.1 1179.3,690.9 1180.1,687" fill="#6cc9ee" stroke="#6cc9ee" stroke-width="1.2" stroke-linejoin="round"/>
<polygon points="1191.1,687 1195.1,684.6 1197.8,687.8 1196.6,692.5 1194.3,694.8 1191.9,692.5" fill="#6cc9ee" stroke="#6cc9ee" stroke-width="1.2" stroke-linejoin="round"/>
<polygon points="1170.7,687 1173,686.2 1173.8,690.1 1171.5,691.7" fill="#6cc9ee" stroke="#6cc9ee" stroke-width="1.2" stroke-linejoin="round"/>
<polygon points="1167.1,656.7 1171.1,656.7 1171.1,660.2 1167.1,660.2" fill="#6cc9ee" stroke="#6cc9ee" stroke-width="1.2" stroke-linejoin="round"/>
<polygon points="1169.1,666.5 1173,666.5 1173.8,669.7 1171.5,672.8 1169.9,670.5" fill="#6cc9ee" stroke="#6cc9ee" stroke-width="1.2" stroke-linejoin="round"/>
<polygon points="1225,654.7 1228.9,652.4 1231.7,654.7 1230.5,657.9 1226.5,659.4 1224.6,657.9" fill="#6cc9ee" stroke="#6cc9ee" stroke-width="1.2" stroke-linejoin="round"/>
<polygon points="1225,716.9 1230.5,718.5 1231.3,720.8 1226.5,720.8" fill="#6cc9ee" stroke="#6cc9ee" stroke-width="1.2" stroke-linejoin="round"/>
<polygon points="1169.9,719.2 1177,720.8 1180.9,725.5 1179.3,727.9 1171.5,727.5" fill="#6cc9ee" stroke="#6cc9ee" stroke-width="1.2" stroke-linejoin="round"/>
<polygon points="1239.1,697.2 1241.5,698 1242.3,701.9 1239.9,701.1" fill="#6cc9ee" stroke="#6cc9ee" stroke-width="1.2" stroke-linejoin="round"/>
<ellipse cx="1307" cy="774.7" rx="6.8" ry="3.6" transform="rotate(-50 1307 774.7)" fill="#6cc9ee"/>
<ellipse cx="1269" cy="766.7" rx="2.4" ry="2.4" transform="rotate(0 1269 766.7)" fill="#6cc9ee"/>
<ellipse cx="1275.5" cy="775.5" rx="2.6" ry="2.6" transform="rotate(0 1275.5 775.5)" fill="#6cc9ee"/>
<ellipse cx="1272" cy="771" rx="1.5" ry="3" transform="rotate(-30 1272 771)" fill="#6cc9ee"/>
<ellipse cx="1225.0" cy="518.75" rx="3.4" ry="2.125" transform="rotate(35 1225.0 518.75)" fill="#6cc9ee"/>
<ellipse cx="1250.0" cy="518.75" rx="3.4" ry="1.7" transform="rotate(35 1250.0 518.75)" fill="#6cc9ee"/>
<ellipse cx="1216.25" cy="530.0" rx="2.125" ry="3.8249999999999997" transform="rotate(35 1216.25 530.0)" fill="#6cc9ee"/>
<ellipse cx="1215.0" cy="540.0" rx="2.975" ry="4.675" transform="rotate(35 1215.0 540.0)" fill="#6cc9ee"/>
<ellipse cx="1237.5" cy="532.5" rx="4.675" ry="2.975" transform="rotate(35 1237.5 532.5)" fill="#6cc9ee"/>
<ellipse cx="1240.5" cy="538.0" rx="3.8249999999999997" ry="2.125" transform="rotate(35 1240.5 538.0)" fill="#6cc9ee"/>
<ellipse cx="1231.25" cy="542.5" rx="3.8249999999999997" ry="4.675" transform="rotate(35 1231.25 542.5)" fill="#6cc9ee"/>
<ellipse cx="1241.75" cy="544.0" rx="3.8249999999999997" ry="2.125" transform="rotate(35 1241.75 544.0)" fill="#6cc9ee"/>
<ellipse cx="1227.5" cy="552.5" rx="3.8249999999999997" ry="5.5249999999999995" transform="rotate(35 1227.5 552.5)" fill="#6cc9ee"/>
<ellipse cx="1223.75" cy="562.5" rx="2.125" ry="3.4" transform="rotate(35 1223.75 562.5)" fill="#6cc9ee"/>
<ellipse cx="1234.0" cy="550.0" rx="2.975" ry="2.125" transform="rotate(35 1234.0 550.0)" fill="#6cc9ee"/>
<ellipse cx="1220.0" cy="547.5" rx="1.7" ry="2.55" transform="rotate(35 1220.0 547.5)" fill="#6cc9ee"/>
<path d="M1225.4,268.7l-0.1,2.6M1233.6,263.7l2.2,2.7M1239.1,255.5l-3.1,0.4M1209.0,274.4l1.9,0.5M1225.2,238.2l-0.6,1.3M1357.6,435.1l0.8,1.1M1355.7,474.7l-3.2,0.5M1364.2,428.3l1.9,1.6M1392.5,453.5l-1.4,0.0M1394.4,450.2l-0.8,1.4M1387.1,439.3l2.0,0.9M1420.6,458.0l-3.0,0.9M1376.4,459.1l3.0,0.3M1354.3,441.4l2.1,1.1M1500.2,437.8l1.2,2.4M1507.3,445.4l-3.2,0.0M1496.7,438.8l3.0,0.9M1529.6,484.8l-0.9,1.0M1530.0,484.3l-1.0,2.7M1524.7,423.1l-0.2,2.6M1658.6,647.9l0.9,0.9M1717.6,751.2l-2.1,0.6M1680.3,696.9l-0.9,2.1M1599.3,707.1l1.7,1.9M1709.7,717.7l3.0,1.1M1673.3,700.3l1.8,2.1M1516.5,643.9l-0.5,1.3M1622.6,701.3l0.1,1.7M1638.5,723.2l0.4,1.7M1596.0,659.6l-1.3,0.5M1521.3,690.6l-1.0,1.6M1549.5,706.2l1.7,2.3M1653.7,645.8l1.2,2.6M1707.0,746.2l-1.5,1.1M1557.1,658.4l0.9,1.9M1667.8,741.0l2.4,0.2M1664.9,704.1l2.3,1.9M1677.1,667.9l2.6,1.3M1539.6,633.3l2.1,2.7M1516.1,649.9l-1.3,2.7M1526.9,630.2l2.1,1.9M1543.4,645.5l-1.4,1.3M1695.6,746.3l-0.5,3.4M1657.9,697.3l1.7,0.9M1561.8,714.9l0.1,2.3M1621.0,684.5l-1.7,1.0M1526.2,663.6l-3.1,0.3M1554.8,690.6l3.5,0.1M1584.8,686.7l1.0,1.8M1647.8,641.6l-1.3,1.5M1530.2,665.6l-2.1,0.5M1586.9,653.6l2.1,0.1M1708.1,700.6l1.7,0.5M1628.2,711.8l-2.0,0.4M1627.6,733.1l-0.2,1.4M1546.5,675.3l0.9,2.4M1540.9,683.5l-0.4,1.9M1711.2,696.3l0.7,2.5M1518.4,620.6l-0.0,2.1M1569.7,663.8l3.2,0.7M1568.2,652.5l-2.9,1.0M1684.9,657.2l2.8,1.7M1706.5,671.7l1.5,1.2M1695.0,694.7l2.0,2.7M1617.8,685.3l-0.6,1.8M1557.7,728.7l1.8,2.3M1697.7,758.0l0.4,2.9M1623.8,703.5l-1.4,2.6M1539.1,697.6l0.6,2.9M1673.7,726.7l0.1,1.7M1629.0,680.2l-0.9,2.7M1627.4,739.8l1.1,0.6M1610.8,670.0l2.1,2.2M1535.0,650.3l1.4,2.2M1592.3,658.8l-1.3,0.1M1588.4,648.3l1.2,0.3M1558.2,688.7l0.4,3.3M1695.4,674.4l-1.8,1.0M1547.4,634.9l1.3,1.8M1586.3,612.4l0.8,0.9M1542.7,642.6l-2.8,0.7M1561.5,658.3l-2.0,0.4M1573.1,662.0l-1.8,0.7M1670.3,683.5l0.6,1.7M1535.2,633.4l-1.3,1.7M1552.3,647.3l1.0,0.8M1648.6,747.1l-1.5,2.3M1710.3,739.0l-0.6,1.3M1596.0,663.3l0.7,1.8M1537.7,664.9l2.4,1.4M1577.4,668.0l-0.7,2.7M1623.2,712.3l0.7,1.9M1516.9,665.2l0.0,2.5M1535.8,631.4l-0.9,1.5M1588.7,638.9l-1.1,2.2M1557.3,652.5l-0.1,1.5M1705.6,758.2l-0.9,1.2M1529.3,653.3l-0.3,2.3M1534.4,700.3l1.7,1.5M1582.6,642.1l3.2,0.7M1547.1,738.9l0.8,2.9M1645.6,700.0l-3.1,0.6M1684.0,716.2l1.6,0.1M1557.6,745.6l-0.4,1.7M1526.2,623.6l0.3,1.2M1573.1,630.0l-1.5,0.1M1612.7,691.2l-2.4,1.4M1601.5,706.7l0.6,1.6M1691.9,714.1l-1.8,1.3M1623.6,726.1l2.2,2.1M1648.1,669.4l0.9,1.7M1634.0,711.4l2.6,1.1M1653.2,718.0l1.2,1.8M1535.0,701.3l-1.8,1.1M1633.6,672.2l0.5,1.8M1648.9,639.8l3.0,1.3M1557.8,667.8l-2.7,1.7M1631.3,687.7l-1.3,0.4M1640.5,675.5l0.2,1.9M1517.7,674.4l-0.8,1.5M1583.5,623.6l-1.0,1.0M1489.4,730.5l2.1,0.1M1500.5,744.3l0.0,2.4M1657.1,451.9l1.7,2.2M1648.6,421.0l-0.9,2.3M1656.3,453.2l0.4,2.2M1636.1,461.2l-2.1,0.9M1651.2,448.8l-1.1,1.1M1634.7,464.4l-0.6,2.2M1658.7,447.9l-0.9,2.3M1640.4,506.6l1.8,2.6M1631.0,506.6l-2.7,0.5M1666.4,494.4l2.5,0.2M1670.0,551.6l0.1,2.6M1643.0,514.0l2.4,2.2M1630.0,507.1l-0.1,1.8M1644.0,495.6l1.7,1.4M1660.3,514.2l1.6,2.0M1657.6,524.1l0.0,2.1M1583.9,665.2l-2.1,2.6M1572.9,624.8l0.9,1.3M1583.1,640.1l-2.7,2.1M1613.4,628.5l1.4,0.8M1597.8,632.7l-1.7,0.5M1595.6,668.9l2.5,1.5M1576.5,641.2l-1.8,0.3M1566.8,648.4l-0.4,2.3M1566.3,635.2l-1.5,3.1M1579.6,631.4l-1.4,1.0M1598.9,666.3l0.1,1.9M1618.9,635.6l1.4,1.0M1577.1,664.4l-0.1,2.0M1669.5,648.5l2.7,1.5M1678.1,647.2l2.2,1.5M1689.4,668.1l-3.2,0.7M1695.1,647.8l-0.2,2.3M1693.2,645.0l-0.4,1.7M1665.7,639.0l1.1,2.2M1706.6,658.0l0.5,1.7M1675.4,668.6l0.6,2.7M1654.1,655.1l-1.8,2.2M1674.2,651.1l0.3,3.4M1647.3,660.4l2.3,0.4M1669.9,652.3l-3.1,0.5M1676.2,656.3l-1.5,0.1M1696.3,660.3l0.9,2.0M1664.2,662.4l0.3,3.2M1678.6,662.1l-1.3,1.2M1662.3,687.6l-1.7,0.0M1675.1,763.6l1.3,1.5M1649.6,663.0l-0.7,1.4M1715.6,691.2l1.3,0.5M1639.0,699.2l-2.1,1.4M1720.7,702.7l0.7,3.0M1597.8,705.5l-0.8,1.0M1657.2,671.9l1.5,3.1M1660.0,767.8l1.2,0.4M1676.2,682.0l-1.4,2.4M1619.3,705.0l1.1,1.4M1638.2,724.0l-2.8,1.0M1597.3,662.8l3.0,0.3M1663.4,695.7l-2.9,1.3M1658.7,732.8l0.4,3.2M1672.4,687.1l-0.3,2.0M1656.3,738.9l2.1,1.7M1680.7,754.8l3.0,0.3M1583.4,685.2l2.0,1.1M1719.7,700.2l-1.4,0.8M1679.2,683.2l-1.7,0.2M1672.4,668.2l1.4,1.3M1624.0,726.4l3.4,0.3M1621.9,701.3l-0.9,3.2M1654.2,689.9l-0.9,1.1M1704.1,664.2l0.3,3.1M1584.6,680.3l3.2,0.3M1623.5,670.8l-2.3,1.2M1591.8,674.0l-0.7,1.4M1624.7,719.3l-0.6,1.5M1708.0,733.5l-0.4,3.3M1566.8,695.6l-2.1,2.1M1702.2,755.7l-2.9,0.2M1720.1,678.0l-0.3,1.5M1560.2,660.1l0.9,1.6M1637.2,745.7l-2.7,2.2M1587.0,664.4l2.4,1.6M1576.4,664.5l-2.4,1.5M1598.2,663.7l2.4,0.5M1697.4,703.1l-1.5,2.5M1665.5,718.6l0.1,1.8M1692.1,696.3l-0.1,3.0M1640.7,709.7l1.5,3.2M1585.1,678.6l-0.9,2.8M1634.1,696.9l-1.6,0.6M1640.5,676.5l-2.8,1.0M1637.3,674.8l2.7,1.6M1642.7,740.6l0.6,1.5M1627.8,741.0l0.6,2.0M1667.9,704.1l-2.7,1.4M1672.7,765.5l-0.8,1.6M1610.5,707.3l2.4,1.2M1708.7,670.5l-1.3,1.2M1706.3,704.1l1.5,1.1M1666.5,760.3l1.2,0.8M1660.5,661.9l-0.6,1.8M1704.7,731.8l-1.2,0.8M1652.9,672.2l0.4,1.5M1686.3,740.7l-2.1,1.8M1697.6,671.5l1.6,0.2M1719.9,698.7l0.3,2.5M1707.4,668.7l-1.9,1.7M1772.2,685.1l-2.9,1.8M1739.3,669.1l2.4,2.2M1735.0,683.4l-1.3,2.6M1769.0,688.6l0.2,2.0M1758.1,670.6l0.7,1.9M1730.0,666.6l-3.1,0.6M1729.9,681.2l0.8,1.3M1759.3,713.4l1.2,0.8M1769.8,666.8l1.6,2.5M1767.0,680.4l1.0,2.1M1770.5,669.2l0.6,3.1M1755.1,664.8l1.3,1.7M1771.3,666.1l-1.3,1.5M1740.2,665.6l0.7,2.4M1749.3,696.5l2.7,0.1M1745.9,692.0l0.9,1.0M1743.9,680.1l2.3,0.2M1757.5,692.1l-1.7,1.7M1730.9,691.0l-1.6,0.3M1804.4,798.8l1.4,0.1M1824.8,838.2l-2.1,2.1M1811.5,829.6l2.8,0.6M1797.7,833.3l-1.4,2.3M1789.7,826.8l1.8,2.1M1802.9,830.8l-1.6,0.1" fill="none" stroke="#7fcfe6" stroke-width="1" opacity="0.75"/><g fill="#7fcfe6" opacity="0.8"><circle cx="1350.9" cy="443.6" r="0.9"/><circle cx="1385.1" cy="474.5" r="0.9"/><circle cx="1369.0" cy="470.3" r="0.8"/><circle cx="1375.5" cy="480.2" r="0.7"/><circle cx="1381.0" cy="482.8" r="1.1"/><circle cx="1394.0" cy="480.3" r="0.6"/><circle cx="1362.5" cy="442.3" r="0.9"/><circle cx="1402.4" cy="446.2" r="0.6"/><circle cx="1386.9" cy="486.3" r="0.8"/><circle cx="1393.7" cy="430.7" r="0.9"/><circle cx="1531.3" cy="491.1" r="0.8"/><circle cx="1507.1" cy="451.2" r="0.6"/><circle cx="1519.1" cy="452.9" r="0.8"/><circle cx="1520.4" cy="454.0" r="0.7"/><circle cx="1539.1" cy="438.2" r="1.0"/><circle cx="1500.6" cy="477.4" r="0.6"/><circle cx="1524.1" cy="419.2" r="0.6"/><circle cx="1535.9" cy="479.3" r="0.7"/><circle cx="1524.0" cy="461.9" r="0.7"/><circle cx="1527.9" cy="447.4" r="0.8"/><circle cx="1510.3" cy="442.9" r="0.7"/><circle cx="1556.1" cy="684.1" r="0.9"/><circle cx="1625.7" cy="695.0" r="1.0"/><circle cx="1544.4" cy="640.4" r="1.0"/><circle cx="1577.8" cy="719.4" r="0.5"/><circle cx="1678.8" cy="659.5" r="1.1"/><circle cx="1573.8" cy="688.1" r="1.1"/><circle cx="1582.7" cy="619.5" r="1.1"/><circle cx="1572.1" cy="664.4" r="1.0"/><circle cx="1587.3" cy="631.8" r="1.0"/><circle cx="1621.2" cy="691.1" r="0.9"/><circle cx="1521.5" cy="613.8" r="0.6"/><circle cx="1588.8" cy="654.6" r="0.9"/><circle cx="1610.3" cy="686.3" r="0.9"/><circle cx="1701.6" cy="666.2" r="0.9"/><circle cx="1688.3" cy="729.1" r="1.0"/><circle cx="1710.9" cy="702.7" r="0.9"/><circle cx="1602.7" cy="693.8" r="0.5"/><circle cx="1677.0" cy="662.1" r="0.8"/><circle cx="1559.5" cy="739.2" r="0.9"/><circle cx="1681.3" cy="735.5" r="0.5"/><circle cx="1710.4" cy="694.2" r="0.7"/><circle cx="1674.3" cy="667.2" r="0.6"/><circle cx="1708.1" cy="690.4" r="0.7"/><circle cx="1533.8" cy="615.8" r="0.6"/><circle cx="1614.2" cy="703.8" r="1.0"/><circle cx="1674.4" cy="705.9" r="0.5"/><circle cx="1575.0" cy="655.3" r="0.6"/><circle cx="1585.1" cy="681.9" r="1.0"/><circle cx="1669.4" cy="744.6" r="0.7"/><circle cx="1615.1" cy="714.7" r="0.6"/><circle cx="1699.2" cy="687.3" r="0.8"/><circle cx="1560.6" cy="745.6" r="1.0"/><circle cx="1682.0" cy="646.7" r="0.6"/><circle cx="1510.2" cy="629.5" r="1.1"/><circle cx="1646.0" cy="649.8" r="0.9"/><circle cx="1652.7" cy="721.5" r="0.8"/><circle cx="1718.8" cy="734.2" r="0.7"/><circle cx="1597.3" cy="690.9" r="0.8"/><circle cx="1617.1" cy="669.6" r="0.7"/><circle cx="1698.4" cy="717.3" r="1.0"/><circle cx="1712.7" cy="706.8" r="0.8"/><circle cx="1665.1" cy="691.0" r="0.6"/><circle cx="1589.4" cy="657.6" r="0.5"/><circle cx="1570.0" cy="680.1" r="1.1"/><circle cx="1567.3" cy="747.7" r="0.6"/><circle cx="1571.1" cy="744.1" r="0.9"/><circle cx="1542.5" cy="638.3" r="1.0"/><circle cx="1647.8" cy="644.9" r="0.6"/><circle cx="1556.6" cy="645.2" r="0.6"/><circle cx="1615.3" cy="681.3" r="0.9"/><circle cx="1626.6" cy="687.3" r="0.6"/><circle cx="1558.5" cy="626.2" r="1.0"/><circle cx="1511.8" cy="639.1" r="0.6"/><circle cx="1719.2" cy="722.3" r="0.6"/><circle cx="1582.2" cy="654.5" r="0.9"/><circle cx="1511.9" cy="665.0" r="0.5"/><circle cx="1577.7" cy="711.4" r="0.9"/><circle cx="1578.6" cy="630.0" r="0.6"/><circle cx="1718.6" cy="708.9" r="0.6"/><circle cx="1669.2" cy="716.0" r="0.5"/><circle cx="1512.1" cy="624.8" r="0.5"/><circle cx="1571.0" cy="668.3" r="0.6"/><circle cx="1656.4" cy="642.3" r="0.9"/><circle cx="1625.9" cy="729.6" r="0.7"/><circle cx="1605.0" cy="698.7" r="0.7"/><circle cx="1670.5" cy="700.7" r="0.7"/><circle cx="1593.4" cy="644.8" r="1.0"/><circle cx="1511.6" cy="622.4" r="0.7"/><circle cx="1638.6" cy="690.1" r="1.1"/><circle cx="1575.6" cy="656.0" r="0.7"/><circle cx="1658.4" cy="711.5" r="1.1"/><circle cx="1638.0" cy="678.9" r="0.7"/><circle cx="1565.2" cy="720.0" r="0.6"/><circle cx="1527.7" cy="672.7" r="0.8"/><circle cx="1558.3" cy="681.6" r="0.7"/><circle cx="1658.4" cy="640.9" r="0.7"/><circle cx="1575.6" cy="721.7" r="1.0"/><circle cx="1656.5" cy="700.0" r="1.0"/><circle cx="1530.4" cy="660.8" r="0.6"/><circle cx="1652.3" cy="667.6" r="0.7"/><circle cx="1512.5" cy="646.3" r="1.1"/><circle cx="1584.2" cy="650.0" r="1.0"/><circle cx="1564.8" cy="663.2" r="1.0"/><circle cx="1653.7" cy="687.7" r="0.6"/><circle cx="1666.6" cy="650.2" r="0.5"/><circle cx="1678.9" cy="726.9" r="0.7"/><circle cx="1677.3" cy="732.6" r="1.1"/><circle cx="1587.5" cy="659.6" r="1.0"/><circle cx="1580.0" cy="645.3" r="0.7"/><circle cx="1523.7" cy="654.1" r="0.6"/><circle cx="1664.4" cy="687.8" r="0.6"/><circle cx="1573.0" cy="686.3" r="0.6"/><circle cx="1694.1" cy="651.9" r="0.6"/><circle cx="1541.8" cy="644.3" r="1.1"/><circle cx="1636.8" cy="742.1" r="0.9"/><circle cx="1633.5" cy="692.0" r="0.5"/><circle cx="1639.2" cy="671.9" r="0.9"/><circle cx="1663.2" cy="650.6" r="1.1"/><circle cx="1685.4" cy="704.2" r="1.0"/><circle cx="1676.2" cy="682.2" r="0.5"/><circle cx="1545.8" cy="645.3" r="0.5"/><circle cx="1688.6" cy="723.5" r="1.0"/><circle cx="1542.7" cy="662.7" r="0.9"/><circle cx="1639.6" cy="740.3" r="0.6"/><circle cx="1602.3" cy="681.4" r="0.7"/><circle cx="1655.8" cy="638.2" r="0.7"/><circle cx="1692.4" cy="646.4" r="0.9"/><circle cx="1582.1" cy="660.4" r="0.9"/><circle cx="1648.7" cy="697.2" r="1.1"/><circle cx="1682.9" cy="704.3" r="1.1"/><circle cx="1539.5" cy="704.1" r="0.9"/><circle cx="1469.1" cy="752.8" r="0.6"/><circle cx="1522.6" cy="757.9" r="0.5"/><circle cx="1482.6" cy="745.1" r="0.7"/><circle cx="1519.0" cy="749.8" r="0.6"/><circle cx="1489.9" cy="746.7" r="0.8"/><circle cx="1659.1" cy="531.8" r="0.9"/><circle cx="1656.0" cy="510.9" r="0.7"/><circle cx="1666.5" cy="501.5" r="0.9"/><circle cx="1632.5" cy="542.3" r="0.8"/><circle cx="1630.2" cy="540.3" r="1.1"/><circle cx="1627.9" cy="513.6" r="1.0"/><circle cx="1570.0" cy="615.0" r="1.1"/><circle cx="1573.5" cy="610.2" r="0.9"/><circle cx="1568.6" cy="637.3" r="0.8"/><circle cx="1613.4" cy="637.3" r="0.5"/><circle cx="1592.2" cy="642.5" r="0.8"/><circle cx="1573.4" cy="666.1" r="0.5"/><circle cx="1615.9" cy="635.3" r="0.8"/><circle cx="1585.9" cy="633.5" r="0.7"/><circle cx="1585.0" cy="662.0" r="0.8"/><circle cx="1578.8" cy="640.5" r="0.8"/><circle cx="1577.8" cy="663.3" r="0.8"/><circle cx="1615.4" cy="643.0" r="1.1"/><circle cx="1581.7" cy="613.7" r="1.1"/><circle cx="1620.7" cy="654.0" r="1.0"/><circle cx="1599.8" cy="666.1" r="0.8"/><circle cx="1659.2" cy="658.5" r="0.9"/><circle cx="1663.3" cy="668.4" r="1.1"/><circle cx="1646.5" cy="665.4" r="0.8"/><circle cx="1694.4" cy="655.2" r="1.1"/><circle cx="1679.8" cy="669.9" r="0.6"/><circle cx="1665.2" cy="662.2" r="0.9"/><circle cx="1648.9" cy="645.7" r="0.8"/><circle cx="1652.6" cy="650.9" r="0.9"/><circle cx="1670.7" cy="658.3" r="0.9"/><circle cx="1664.2" cy="644.1" r="0.8"/><circle cx="1671.2" cy="650.0" r="0.7"/><circle cx="1674.0" cy="647.2" r="0.7"/><circle cx="1674.1" cy="649.2" r="1.1"/><circle cx="1695.9" cy="650.1" r="0.9"/><circle cx="1671.5" cy="714.4" r="0.6"/><circle cx="1688.4" cy="727.4" r="0.7"/><circle cx="1657.2" cy="762.7" r="0.7"/><circle cx="1658.4" cy="749.0" r="0.9"/><circle cx="1656.5" cy="691.4" r="0.8"/><circle cx="1718.4" cy="694.3" r="0.8"/><circle cx="1642.5" cy="680.9" r="1.0"/><circle cx="1670.6" cy="696.1" r="0.8"/><circle cx="1636.7" cy="726.2" r="0.8"/><circle cx="1718.9" cy="704.1" r="0.5"/><circle cx="1675.9" cy="663.5" r="1.0"/><circle cx="1676.6" cy="702.1" r="0.6"/><circle cx="1597.2" cy="687.8" r="0.6"/><circle cx="1677.8" cy="687.0" r="1.0"/><circle cx="1676.0" cy="667.8" r="0.8"/><circle cx="1562.7" cy="698.8" r="0.7"/><circle cx="1663.8" cy="742.4" r="0.8"/><circle cx="1628.9" cy="708.8" r="0.8"/><circle cx="1648.2" cy="726.6" r="1.0"/><circle cx="1674.0" cy="746.5" r="0.8"/><circle cx="1626.2" cy="729.1" r="1.1"/><circle cx="1645.8" cy="698.7" r="0.8"/><circle cx="1666.6" cy="673.8" r="1.1"/><circle cx="1595.7" cy="669.1" r="0.7"/><circle cx="1665.9" cy="736.9" r="0.5"/><circle cx="1653.9" cy="707.9" r="0.7"/><circle cx="1664.7" cy="707.9" r="0.8"/><circle cx="1663.3" cy="753.2" r="0.9"/><circle cx="1622.6" cy="678.7" r="0.8"/><circle cx="1678.0" cy="706.5" r="1.0"/><circle cx="1704.3" cy="705.3" r="1.1"/><circle cx="1709.7" cy="732.1" r="1.1"/><circle cx="1690.2" cy="667.8" r="0.7"/><circle cx="1603.8" cy="705.7" r="0.6"/><circle cx="1701.5" cy="684.8" r="0.7"/><circle cx="1680.5" cy="767.1" r="0.8"/><circle cx="1655.4" cy="744.3" r="0.5"/><circle cx="1622.0" cy="674.1" r="0.5"/><circle cx="1707.4" cy="729.3" r="1.0"/><circle cx="1660.3" cy="723.7" r="0.5"/><circle cx="1660.9" cy="666.4" r="0.7"/><circle cx="1578.2" cy="664.6" r="0.8"/><circle cx="1594.4" cy="665.6" r="0.8"/><circle cx="1612.9" cy="681.1" r="1.0"/><circle cx="1616.1" cy="712.5" r="0.9"/><circle cx="1659.7" cy="736.7" r="0.9"/><circle cx="1612.6" cy="672.6" r="1.1"/><circle cx="1630.8" cy="694.8" r="0.5"/><circle cx="1628.9" cy="724.4" r="0.9"/><circle cx="1693.9" cy="660.1" r="0.6"/><circle cx="1671.2" cy="711.6" r="0.6"/><circle cx="1637.1" cy="692.2" r="0.6"/><circle cx="1582.9" cy="684.7" r="0.8"/><circle cx="1752.2" cy="703.9" r="0.7"/><circle cx="1770.0" cy="677.8" r="1.1"/><circle cx="1777.5" cy="672.2" r="0.6"/><circle cx="1764.0" cy="674.3" r="1.0"/><circle cx="1747.2" cy="689.0" r="0.5"/><circle cx="1769.9" cy="713.2" r="0.9"/><circle cx="1763.7" cy="690.1" r="0.8"/><circle cx="1773.3" cy="664.9" r="0.9"/><circle cx="1757.9" cy="670.6" r="0.8"/><circle cx="1766.9" cy="680.6" r="0.5"/><circle cx="1795.3" cy="794.0" r="0.6"/><circle cx="1794.7" cy="814.4" r="1.0"/><circle cx="1783.4" cy="792.0" r="1.0"/><circle cx="1798.9" cy="793.9" r="0.9"/><circle cx="1824.4" cy="836.8" r="1.0"/><circle cx="1781.6" cy="805.3" r="0.6"/><circle cx="1793.6" cy="820.7" r="0.5"/><circle cx="1819.2" cy="815.2" r="0.7"/><circle cx="1808.6" cy="834.4" r="1.0"/><circle cx="1803.7" cy="842.6" r="0.7"/><circle cx="1790.8" cy="823.2" r="0.9"/><circle cx="1803.2" cy="814.9" r="0.7"/></g>
<polygon points="1763.3,723.3 1766.7,730 1770.8,740 1773.3,750 1774.2,760 1771.7,766.7 1770.8,758.3 1769.2,746.7 1765.8,735" fill="#fef8e0"/>
<polygon points="1681.7,789.2 1688.3,791.7 1693.3,798.3 1696.7,803.3 1693.3,805 1689.2,800 1686.7,793.3" fill="#fef8e0"/>
<polygon points="1691.7,815 1698.3,818.3 1705,828.3 1701.7,830 1695,821.7" fill="#fef8e0"/>
<polygon points="1695,780 1701.7,783.3 1706.7,786.7 1705,788.3 1698.3,785.8" fill="#fef8e0"/>
<polygon points="1706.2,837.5 1710,842.5 1715,847.5 1720,855 1718.8,857.5 1712.5,852.5 1707.5,847.5" fill="#fef8e0"/>
<polygon points="1716.2,862.5 1721.2,861.2 1722.5,866.2 1718.8,868.8" fill="#fef8e0"/>
<polygon points="1638.8,823.8 1643.8,817.5 1647.5,818.1 1651.2,821.2 1648.8,830 1643.1,837.5 1640,833.8 1637.5,830" fill="#fef8e0"/>
<polygon points="1661.2,825 1665,823.1 1671.9,823.8 1671.2,831.2 1667.5,835 1662.5,832.5 1659.4,828.8" fill="#fef8e0"/>
<polygon points="1178.6,708.2 1181.7,708.2 1181.7,715.3 1179.3,715.3" fill="#fef8e0"/>
<polygon points="1171.5,720.8 1176.2,721.2 1178.6,724.7 1173,724.7" fill="#fef8e0"/>
<polygon points="1713.3,775 1718.3,771.7 1720,778.3 1716.7,785 1713.3,781.7" fill="#5b9a42"/>
<polygon points="1721.7,768.3 1726.7,767.5 1733.3,776.7 1736.7,783.3 1731.7,781.7 1726.7,775" fill="#5b9a42"/>
<polygon points="1720,798.3 1726.7,795.8 1726.7,803.3 1730,810 1725,814.2 1720.8,806.7" fill="#5b9a42"/>
<polygon points="1700,789.2 1706.7,790 1710,794.2 1705,795 1700.8,792.5" fill="#5b9a42"/>
<path d="M1243.8,225.0C1245.9,231.7 1246.3,231.7 1250.0,245.0C1253.7,258.3 1252.3,251.7 1255.0,265.0C1257.7,278.3 1256.3,273.3 1258.0,285.0C1259.7,296.7 1257.3,289.2 1260.0,300.0C1262.7,310.8 1260.4,304.6 1266.2,317.5C1272.0,330.4 1271.2,327.1 1277.5,338.8C1283.8,350.5 1279.6,342.1 1285.0,352.5C1290.4,362.9 1291.3,359.2 1293.8,370.0C1296.3,380.8 1293.4,375.8 1292.5,385.0C1291.6,394.2 1290.0,388.3 1291.2,397.5C1292.4,406.7 1291.6,400.8 1296.2,412.5C1300.8,424.2 1297.1,420.0 1305.0,432.5C1312.9,445.0 1310.8,439.6 1320.0,450.0C1329.2,460.4 1325.0,453.8 1332.5,463.8C1340.0,473.8 1336.7,469.6 1342.5,480.0C1348.3,490.4 1338.3,475.4 1350.0,495.0C1361.7,514.6 1362.5,518.0 1377.5,538.8C1392.5,559.6 1383.3,543.8 1395.0,557.5C1406.7,571.2 1406.9,572.5 1412.5,580.0C1418.1,587.5 1408.6,575.6 1411.7,580.0C1414.8,584.4 1415.0,584.4 1421.7,593.3C1428.4,602.2 1425.6,597.8 1431.7,606.7C1437.8,615.6 1433.9,611.1 1440.0,620.0C1446.1,628.9 1442.8,623.9 1450.0,633.3C1457.2,642.7 1455.0,639.4 1461.7,648.3C1468.4,657.2 1464.5,651.7 1470.0,660.0C1475.5,668.3 1473.3,664.4 1478.3,673.3C1483.3,682.2 1480.5,677.8 1485.0,686.7C1489.5,695.6 1486.7,691.7 1491.7,700.0C1496.7,708.3 1493.9,703.9 1500.0,711.7C1506.1,719.5 1503.3,716.1 1510.0,723.3C1516.7,730.5 1513.9,726.1 1520.0,733.3C1526.1,740.5 1522.2,736.1 1528.3,745.0C1534.4,753.9 1531.9,750.0 1538.3,760.0C1544.7,770.0 1542.3,763.7 1547.5,775.0C1552.7,786.3 1551.7,787.5 1553.8,793.8" fill="none" stroke="#f9a22b" stroke-width="8" stroke-linejoin="round"/>
</g>
<polygon points="1276.2,200 1281.2,198.2 1290,199.2 1297.5,197.5 1302.5,200 1310,205 1317.5,206.2 1326.2,205 1332.5,208.8 1337.5,215 1342.5,220 1347.5,218.8 1353.8,215 1360,218.8 1365,220 1368.8,214.5 1375,216.2 1381.2,215 1387.5,218.8 1392.5,223.8 1398.8,228.8 1403,229 1408.8,228 1413.8,233.8 1416.2,240 1417.5,250 1418.8,257.5 1421.2,263.8 1425,268.8 1432.5,273.8 1440,277.5 1448.8,280 1457.5,281.2 1465,278.8 1472.5,282.5 1482.5,285 1490,283.8 1497.5,282 1502.5,287.5 1508.8,293.8 1516.2,296.2 1521.2,296.2 1522.5,305 1531.2,306.2 1532.5,313.8 1540,316.2 1550,320 1557.5,325 1567.5,326.2 1571.2,326.2 1575,321.2 1585,318.8 1595,315 1605,313.8 1608.8,317.5 1612.5,318.8 1613,323 1625,323 1640,323.8 1647.5,320 1657.5,318.2 1665,322.5 1672.5,330 1680,332.5 1690,330 1700,331.2 1711.2,331.2 1712.5,334.5 1727.5,334.5 1728,338.8 1728.3,340 1730.8,340.8 1731.7,349.2 1737.5,350 1739.2,373.3 1743.3,377.5 1745,391.7 1755,392.5 1756.7,400.8 1763.3,401.7 1771.7,405 1776.7,406.7 1783.3,407.5 1788.3,410.8 1790.8,415 1788.3,420 1788.3,425 1784.2,429.2 1779.2,430 1781.7,430.8 1790,429.2 1796.7,430.8 1805,436.7 1812.5,445 1816.7,455 1819.2,468.3 1819.2,480 1817.5,485.8 1822.5,486.7 1823.3,490 1822.5,506.7 1820,531.7 1817.5,556.7 1818,590 1819.2,623.3 1820,656.7 1820,660 1820.8,710 1821.3,760 1821.7,806.7 1821.5,807.5 1821.9,848.8 1816.2,848.1 1813.1,845.6 1810,842.5 1805,845 1806.2,851.2 1805,855.6 1800.6,855 1800,850 1796.2,848.1 1791.2,850 1786.2,855 1788.1,860 1786.2,866.2 1783.8,861.2 1779.4,861.9 1778.1,868.8 1776.9,875 1773.1,876.9 1772.5,872.5 1775,870 1776.2,863.8 1773.8,860 1773.1,853.8 1770,851.2 1765,853.8 1757.5,856.2 1751.9,859.4 1751.2,863.8 1741.2,863.1 1740,859.4 1733.8,855.6 1730,857.5 1727.5,862.5 1722.5,866.2 1720,871.2 1723.8,871.9 1726.9,876.2 1723.8,878.1 1717.5,880 1715.6,876.2 1715,870 1712.5,868.8 1707.5,872.5 1706.2,870 1700,868.8 1695,866.9 1689.4,871.2 1685.6,875.6 1681.2,873.1 1676.2,874.4 1666.2,875.6 1658.8,873.8 1653.8,868.8 1647.5,866.2 1643.8,862.5 1643.1,855 1643.8,845 1643.1,837.5 1640,833.8 1637.5,830 1638.8,823.8 1643.8,817.5 1647.5,818.1 1651.2,821.2 1657.5,822.5 1665,823.1 1661.2,825 1659.4,828.8 1662.5,832.5 1667.5,835 1671.2,831.2 1671.9,823.8 1668.8,820.6 1662.5,818.1 1657.5,813.8 1654.4,808.8 1650,808.8 1646.2,810 1642.5,805.6 1641.9,800.6 1645.6,798.1 1645.6,794.4 1643.8,792.8 1620,793.1 1550,793.8 1422.5,794.5 1422.5,795 1321.2,796.2 1321.2,804.5 1252,803.8 1251.2,728.2 1187.5,730 1138.8,732.5 1138,677.5 1137.5,590 1137.5,598.8 1136.2,555 1135,492.5 1133.8,442.5 1133,392.5 1132.5,350.5 1135.8,349.2 1138.3,352.5 1143.3,353.3 1150.8,351.7 1155,345.8 1157.5,340.8 1159.2,335 1161.7,328.3 1163.3,323.3 1170,323.3 1174.2,321.7 1172.5,315.8 1175.8,310.8 1179.2,312.5 1183.3,318.3 1187.5,319.2 1191.7,316.7 1198.3,313.3 1202.5,309.2 1203.3,306.7 1208.3,304.2 1212.5,300 1208.3,296.7 1207.5,288.3 1205.8,280 1206.7,273.3 1219.2,272.5 1219.2,264.2 1223.3,263.3 1222.5,240 1220,239.2 1220.8,235.8 1233.3,234.2 1234.2,230.8 1240,229.2 1240.8,225 1245,220.8 1250.8,220 1256.7,221.7 1261.7,222.5 1265.8,219.2 1271.7,216.7 1275.8,211.7 1276.7,201.7" fill="none" stroke="#000" stroke-width="2.8" stroke-linejoin="round"/>
<polyline points="1276.2,200 1275,186.2 1270,178.8 1260,175 1248.8,173 1245,167.5 1236.2,162.5 1230,155 1225,145 1223.8,137.5 1226.2,123.8 1225.8,115 1230,110 1240,105 1250,101.2 1260,97.5 1268,92.5 1270,85 1263.8,80" fill="none" stroke="#000" stroke-width="2.5" stroke-linejoin="round"/>
<polyline points="1401.2,228.5 1403.8,221.2 1412.5,219.5 1422.5,220 1432.5,221.2 1440,217.5 1448.8,212.5 1457.5,210 1467.5,208.8 1475,205 1481.2,198.8 1485,190 1486.2,177.5 1490,174.5 1500,176.2 1508.8,181.2 1520,181.2 1528.8,178.8 1533.8,170 1537.5,163.8 1545,155 1550,147.5 1557.5,137.5 1562.5,127.5 1566.2,117.5 1570,107.5 1573.8,97.5 1577.5,90 1580,86.2 1595,83.8 1607.5,81.2 1617.5,79.5" fill="none" stroke="#000" stroke-width="2.5" stroke-linejoin="round"/>
<polyline points="1817.5,79.5 1820,152.5 1821.2,220 1823.8,295 1825,340 1826.2,375 1827.5,430 1826.2,485" fill="none" stroke="#000" stroke-width="2.5" stroke-linejoin="round"/>
<polyline points="1818,485 1842.5,485" fill="none" stroke="#000" stroke-width="2.5" stroke-linejoin="round"/>
<polyline points="1110,345.5 1117.5,347.5 1125,348 1132.5,350.5" fill="none" stroke="#000" stroke-width="2.5" stroke-linejoin="round"/>
<polyline points="1110,695 1137.5,694.5" fill="none" stroke="#000" stroke-width="2.5" stroke-linejoin="round"/>
<polyline points="1422.5,794.5 1423.8,867.5 1426.2,1002.5" fill="none" stroke="#000" stroke-width="2.5" stroke-linejoin="round"/>
<polyline points="1821.5,807.5 1830,802.5 1837.5,795 1841.9,788.1" fill="none" stroke="#000" stroke-width="2.5" stroke-linejoin="round"/>
<g transform="translate(1336,495)">
<path id="sh" d="M7.7,0.4 Q12,3.7 17.3,3.2 Q21.5,2.7 24.7,0.4 Q28,2.7 32.1,3.2 Q37.5,3.7 42.5,0.4 C46,6 49.4,12 49.4,19 C49.4,32 40,44 24.7,50.4 C9.5,44 0.1,32 0.1,19 C0.1,12 3.5,6 7.7,0.4 Z" fill="#fff" stroke="#1a1a1a" stroke-width="1.7" stroke-linejoin="round"/>
<clipPath id="shc"><rect x="-2" y="-2" width="54" height="12.6"/></clipPath>
<path d="M7.7,0.4 Q12,3.7 17.3,3.2 Q21.5,2.7 24.7,0.4 Q28,2.7 32.1,3.2 Q37.5,3.7 42.5,0.4 C46,6 49.4,12 49.4,19 C49.4,32 40,44 24.7,50.4 C9.5,44 0.1,32 0.1,19 C0.1,12 3.5,6 7.7,0.4 Z" fill="#1a1a1a" clip-path="url(#shc)"/>
<text x="10.6" y="36.6" font-family="Liberation Sans, sans-serif" font-weight="bold" font-size="27" fill="#1a1a1a" stroke="#fff" stroke-width="0.5" textLength="28.4" lengthAdjust="spacingAndGlyphs">75</text>
</g>
</g>
</svg>
</body></html>
